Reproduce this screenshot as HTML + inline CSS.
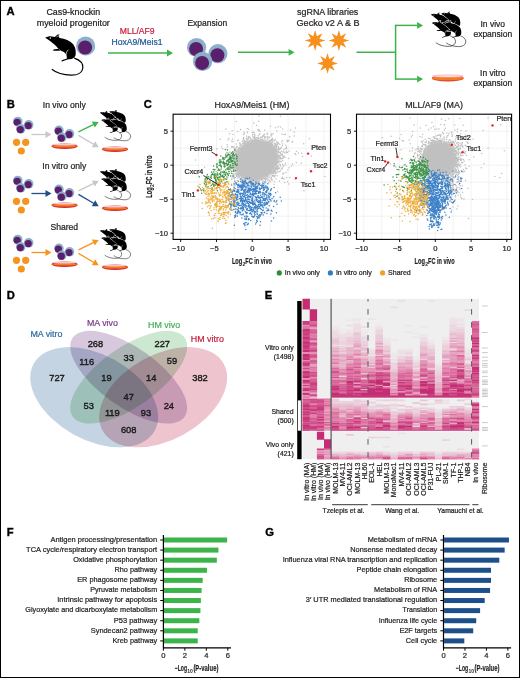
<!DOCTYPE html><html><head><meta charset="utf-8"><style>html,body{margin:0;padding:0;background:#fff;overflow:hidden}svg{display:block}text{font-family:"Liberation Sans",sans-serif}</style></head><body><svg width="520" height="678" viewBox="0 0 520 678" font-family="Liberation Sans, sans-serif">
<rect x="0" y="0" width="520" height="678" fill="#fff"/>
<text x="6.5" y="14.6" font-size="11.2" fill="#000" text-anchor="start" font-weight="bold" stroke="#000" stroke-width="0.35">A</text>
<text x="73.3" y="15" font-size="8.9" fill="#231f20" text-anchor="middle" stroke="#231f20" stroke-width="0.22" >Cas9-knockin</text>
<text x="73.3" y="25.6" font-size="8.9" fill="#231f20" text-anchor="middle" stroke="#231f20" stroke-width="0.22" >myeloid progenitor</text>
<g transform="translate(45,37.5) scale(1.0)"><path d="M29.2 20.6 C35 22.5 38.3 26 37.8 30.5 C37.2 35.5 32 37.8 26 37.6 C18 37.4 11 35 6.8 31.7" fill="none" stroke="#000" stroke-width="1.15"/><path d="M0.2 0.3 C2 -0.7 3.6 -1.2 5.4 -1.2 L9.8 -0.4 L12.6 -2.9 L14.6 -3.1 L13.4 -1.4 L14.6 0.4 C20 1.2 25 3.2 28 6.5 C30.5 9.5 31.2 14 30.6 17.5 C30.2 19.5 29 20.8 26.5 21.4 L22.5 22 L17 23.9 L16.2 23.4 L17.4 22.5 L21.4 21.3 C21.8 19.5 21.3 17 20 15.5 C18.5 14 17 13.4 15.5 13.2 L11 13.2 L8.1 13.2 L8.5 12 L11.5 11.6 L13.4 11.4 C12.5 10 11.5 8.8 10 7.5 C8 5.8 6 4.2 3.7 2.4 Z" fill="#000"/><circle cx="5.3" cy="0.5" r="0.75" fill="#fff"/><path d="M11.5 -0.2 L13.2 -2" fill="none" stroke="#fff" stroke-width="0.6"/><path d="M23.5 12.2 C21.2 13.8 20.6 17 21.6 21" fill="none" stroke="#fff" stroke-width="0.7"/><path d="M13.6 11.6 C14.6 12.4 15.2 12.8 15.8 13.3" fill="none" stroke="#fff" stroke-width="0.5"/></g>
<circle cx="85.6" cy="46.0" r="9.6" fill="#8eafc9"/>
<circle cx="85.1" cy="47.5" r="7.0" fill="#5a1f6b"/>
<text x="137.2" y="33.8" font-size="8.6" fill="#c81e3c" text-anchor="middle" stroke="#c81e3c" stroke-width="0.22" >MLL/AF9</text>
<text x="137" y="44.6" font-size="8.6" fill="#1f5a96" text-anchor="middle" stroke="#1f5a96" stroke-width="0.22" >HoxA9/Meis1</text>
<line x1="108" y1="53" x2="167.50" y2="53.00" stroke="#3cb44b" stroke-width="1.5"/>
<polygon points="173.00,53.00 167.00,56.40 167.00,49.60" fill="#3cb44b"/>
<text x="207.3" y="25.8" font-size="8.5" fill="#231f20" text-anchor="middle" stroke="#231f20" stroke-width="0.22" >Expansion</text>
<circle cx="196.6" cy="47.5" r="9.6" fill="#8eafc9"/>
<circle cx="196.1" cy="49.0" r="7.0" fill="#5a1f6b"/>
<circle cx="217.9" cy="53.7" r="9.6" fill="#8eafc9"/>
<circle cx="217.4" cy="55.2" r="7.0" fill="#5a1f6b"/>
<circle cx="202.6" cy="61.4" r="9.6" fill="#8eafc9"/>
<circle cx="202.1" cy="62.9" r="7.0" fill="#5a1f6b"/>
<line x1="238" y1="52.3" x2="289.10" y2="52.30" stroke="#3cb44b" stroke-width="1.5"/>
<polygon points="294.60,52.30 288.60,55.70 288.60,48.90" fill="#3cb44b"/>
<text x="327.7" y="14.8" font-size="8.9" fill="#231f20" text-anchor="middle" stroke="#231f20" stroke-width="0.22" >sgRNA libraries</text>
<text x="328.1" y="25.9" font-size="9.1" fill="#231f20" text-anchor="middle" stroke="#231f20" stroke-width="0.22" >Gecko v2 A &amp; B</text>
<polygon points="315.10,30.10 316.90,36.16 322.45,33.15 319.44,38.70 325.50,40.50 319.44,42.30 322.45,47.85 316.90,44.84 315.10,50.90 313.30,44.84 307.75,47.85 310.76,42.30 304.70,40.50 310.76,38.70 307.75,33.15 313.30,36.16" fill="#f7901e"/>
<polygon points="338.90,30.10 340.70,36.16 346.25,33.15 343.24,38.70 349.30,40.50 343.24,42.30 346.25,47.85 340.70,44.84 338.90,50.90 337.10,44.84 331.55,47.85 334.56,42.30 328.50,40.50 334.56,38.70 331.55,33.15 337.10,36.16" fill="#f7901e"/>
<polygon points="327.50,53.00 329.30,59.06 334.85,56.05 331.84,61.60 337.90,63.40 331.84,65.20 334.85,70.75 329.30,67.74 327.50,73.80 325.70,67.74 320.15,70.75 323.16,65.20 317.10,63.40 323.16,61.60 320.15,56.05 325.70,59.06" fill="#f7901e"/>
<polyline points="356.5,52.3 395.6,52.3" fill="none" stroke="#3cb44b" stroke-width="1.5"/>
<polyline points="395.6,25.4 395.6,79.1" fill="none" stroke="#3cb44b" stroke-width="1.5"/>
<line x1="394.9" y1="25.4" x2="417.60" y2="25.40" stroke="#3cb44b" stroke-width="1.5"/>
<polygon points="423.10,25.40 417.10,28.80 417.10,22.00" fill="#3cb44b"/>
<line x1="394.9" y1="79.1" x2="417.60" y2="79.10" stroke="#3cb44b" stroke-width="1.5"/>
<polygon points="423.10,79.10 417.10,82.50 417.10,75.70" fill="#3cb44b"/>
<g transform="translate(430.6,14.6) scale(0.63)"><path d="M0.2 0.3 C2 -0.7 3.6 -1.2 5.4 -1.2 L9.8 -0.4 L12.6 -2.9 L14.6 -3.1 L13.4 -1.4 L14.6 0.4 C20 1.2 25 3.2 28 6.5 C30.5 9.5 31.2 14 30.6 17.5 C30.2 19.5 29 20.8 26.5 21.4 L22.5 22 L17 23.9 L16.2 23.4 L17.4 22.5 L21.4 21.3 C21.8 19.5 21.3 17 20 15.5 C18.5 14 17 13.4 15.5 13.2 L11 13.2 L8.1 13.2 L8.5 12 L11.5 11.6 L13.4 11.4 C12.5 10 11.5 8.8 10 7.5 C8 5.8 6 4.2 3.7 2.4 Z" fill="#000" stroke="#fff" stroke-width="1.6" stroke-linejoin="round" paint-order="stroke"/><circle cx="5.3" cy="0.5" r="0.75" fill="#fff"/><path d="M11.5 -0.2 L13.2 -2" fill="none" stroke="#fff" stroke-width="0.6"/><path d="M23.5 12.2 C21.2 13.8 20.6 17 21.6 21" fill="none" stroke="#fff" stroke-width="0.7"/><path d="M13.6 11.6 C14.6 12.4 15.2 12.8 15.8 13.3" fill="none" stroke="#fff" stroke-width="0.5"/></g>
<g transform="translate(440.90000000000003,13.5) scale(0.63)"><path d="M0.2 0.3 C2 -0.7 3.6 -1.2 5.4 -1.2 L9.8 -0.4 L12.6 -2.9 L14.6 -3.1 L13.4 -1.4 L14.6 0.4 C20 1.2 25 3.2 28 6.5 C30.5 9.5 31.2 14 30.6 17.5 C30.2 19.5 29 20.8 26.5 21.4 L22.5 22 L17 23.9 L16.2 23.4 L17.4 22.5 L21.4 21.3 C21.8 19.5 21.3 17 20 15.5 C18.5 14 17 13.4 15.5 13.2 L11 13.2 L8.1 13.2 L8.5 12 L11.5 11.6 L13.4 11.4 C12.5 10 11.5 8.8 10 7.5 C8 5.8 6 4.2 3.7 2.4 Z" fill="#000" stroke="#fff" stroke-width="1.6" stroke-linejoin="round" paint-order="stroke"/><circle cx="5.3" cy="0.5" r="0.75" fill="#fff"/><path d="M11.5 -0.2 L13.2 -2" fill="none" stroke="#fff" stroke-width="0.6"/><path d="M23.5 12.2 C21.2 13.8 20.6 17 21.6 21" fill="none" stroke="#fff" stroke-width="0.7"/><path d="M13.6 11.6 C14.6 12.4 15.2 12.8 15.8 13.3" fill="none" stroke="#fff" stroke-width="0.5"/></g>
<g transform="translate(431.6,22.7) scale(0.63)"><path d="M29.2 20.6 C35 22.5 38.3 26 37.8 30.5 C37.2 35.5 32 37.8 26 37.6 C18 37.4 11 35 6.8 31.7" fill="none" stroke="#2a2a2a" stroke-width="1.1"/><path d="M0.2 0.3 C2 -0.7 3.6 -1.2 5.4 -1.2 L9.8 -0.4 L12.6 -2.9 L14.6 -3.1 L13.4 -1.4 L14.6 0.4 C20 1.2 25 3.2 28 6.5 C30.5 9.5 31.2 14 30.6 17.5 C30.2 19.5 29 20.8 26.5 21.4 L22.5 22 L17 23.9 L16.2 23.4 L17.4 22.5 L21.4 21.3 C21.8 19.5 21.3 17 20 15.5 C18.5 14 17 13.4 15.5 13.2 L11 13.2 L8.1 13.2 L8.5 12 L11.5 11.6 L13.4 11.4 C12.5 10 11.5 8.8 10 7.5 C8 5.8 6 4.2 3.7 2.4 Z" fill="#000" stroke="#fff" stroke-width="1.6" stroke-linejoin="round" paint-order="stroke"/><circle cx="5.3" cy="0.5" r="0.75" fill="#fff"/><path d="M11.5 -0.2 L13.2 -2" fill="none" stroke="#fff" stroke-width="0.6"/><path d="M23.5 12.2 C21.2 13.8 20.6 17 21.6 21" fill="none" stroke="#fff" stroke-width="0.7"/><path d="M13.6 11.6 C14.6 12.4 15.2 12.8 15.8 13.3" fill="none" stroke="#fff" stroke-width="0.5"/></g>
<g transform="translate(441.90000000000003,22.9) scale(0.63)"><path d="M29.2 20.6 C35 22.5 38.3 26 37.8 30.5 C37.2 35.5 32 37.8 26 37.6 C18 37.4 11 35 6.8 31.7" fill="none" stroke="#2a2a2a" stroke-width="1.1"/><path d="M0.2 0.3 C2 -0.7 3.6 -1.2 5.4 -1.2 L9.8 -0.4 L12.6 -2.9 L14.6 -3.1 L13.4 -1.4 L14.6 0.4 C20 1.2 25 3.2 28 6.5 C30.5 9.5 31.2 14 30.6 17.5 C30.2 19.5 29 20.8 26.5 21.4 L22.5 22 L17 23.9 L16.2 23.4 L17.4 22.5 L21.4 21.3 C21.8 19.5 21.3 17 20 15.5 C18.5 14 17 13.4 15.5 13.2 L11 13.2 L8.1 13.2 L8.5 12 L11.5 11.6 L13.4 11.4 C12.5 10 11.5 8.8 10 7.5 C8 5.8 6 4.2 3.7 2.4 Z" fill="#000" stroke="#fff" stroke-width="1.6" stroke-linejoin="round" paint-order="stroke"/><circle cx="5.3" cy="0.5" r="0.75" fill="#fff"/><path d="M11.5 -0.2 L13.2 -2" fill="none" stroke="#fff" stroke-width="0.6"/><path d="M23.5 12.2 C21.2 13.8 20.6 17 21.6 21" fill="none" stroke="#fff" stroke-width="0.7"/><path d="M13.6 11.6 C14.6 12.4 15.2 12.8 15.8 13.3" fill="none" stroke="#fff" stroke-width="0.5"/></g>
<rect x="431.8" y="75.0" width="32" height="6.5" rx="16.0" ry="3.25" fill="#e2402a"/>
<rect x="432.3" y="76.2" width="31.0" height="4.1" rx="16.0" ry="2.05" fill="#f47d1f"/>
<ellipse cx="447.8" cy="76.10000000000001" rx="15.4" ry="1.25" fill="#fbe3e1" stroke="#ec8a90" stroke-width="0.45"/>
<text x="492.8" y="26.6" font-size="8.5" fill="#231f20" text-anchor="middle" stroke="#231f20" stroke-width="0.22" >In vivo</text>
<text x="492.8" y="37.2" font-size="8.5" fill="#231f20" text-anchor="middle" stroke="#231f20" stroke-width="0.22" >expansion</text>
<text x="492.8" y="75.7" font-size="8.5" fill="#231f20" text-anchor="middle" stroke="#231f20" stroke-width="0.22" >In vitro</text>
<text x="492.8" y="86.3" font-size="8.5" fill="#231f20" text-anchor="middle" stroke="#231f20" stroke-width="0.22" >expansion</text>
<text x="6.8" y="107.7" font-size="11.2" fill="#000" text-anchor="start" font-weight="bold" stroke="#000" stroke-width="0.35">B</text>
<text x="64.3" y="107.7" font-size="8.6" fill="#231f20" text-anchor="middle" stroke="#231f20" stroke-width="0.22" >In vivo only</text>
<circle cx="17.7" cy="121.5" r="4.8" fill="#8eafc9"/>
<circle cx="17.2" cy="122.25" r="3.6" fill="#5a1f6b"/>
<circle cx="28.7" cy="124.8" r="4.8" fill="#8eafc9"/>
<circle cx="28.2" cy="125.55" r="3.6" fill="#5a1f6b"/>
<circle cx="20.8" cy="128.8" r="4.8" fill="#8eafc9"/>
<circle cx="20.3" cy="129.55" r="3.6" fill="#5a1f6b"/>
<circle cx="16.5" cy="142.3" r="3.6" fill="#f7941d"/>
<circle cx="25.7" cy="142.3" r="3.6" fill="#f7941d"/>
<circle cx="21.3" cy="151.0" r="3.6" fill="#f7941d"/>
<line x1="31.5" y1="134.5" x2="46.00" y2="134.50" stroke="#c8c8c8" stroke-width="1.3"/>
<polygon points="51.50,134.50 45.50,137.90 45.50,131.10" fill="#c8c8c8"/>
<circle cx="58.9" cy="130.3" r="4.8" fill="#8eafc9"/>
<circle cx="58.4" cy="131.05" r="3.6" fill="#5a1f6b"/>
<circle cx="69.5" cy="133.8" r="4.8" fill="#8eafc9"/>
<circle cx="69.0" cy="134.55" r="3.6" fill="#5a1f6b"/>
<circle cx="61.8" cy="137.4" r="4.8" fill="#8eafc9"/>
<circle cx="61.3" cy="138.15" r="3.6" fill="#5a1f6b"/>
<rect x="51.5" y="143.4" width="26.2" height="5.6" rx="13.1" ry="2.8" fill="#d42a2a"/>
<rect x="52.1" y="144.9" width="25.0" height="2.7" rx="13.1" ry="1.35" fill="#f47a1f"/>
<ellipse cx="64.6" cy="144.55" rx="12.4" ry="1.0" fill="#f5c8d0"/>
<line x1="78.5" y1="131.9" x2="93.77" y2="124.34" stroke="#3cb44b" stroke-width="1.3"/>
<polygon points="98.70,121.90 94.83,127.61 91.81,121.51" fill="#3cb44b"/>
<line x1="78.5" y1="135.4" x2="93.96" y2="144.51" stroke="#c8c8c8" stroke-width="1.3"/>
<polygon points="98.70,147.30 91.80,147.18 95.26,141.33" fill="#c8c8c8"/>
<g transform="translate(99.6,112.6) scale(0.545)"><path d="M0.2 0.3 C2 -0.7 3.6 -1.2 5.4 -1.2 L9.8 -0.4 L12.6 -2.9 L14.6 -3.1 L13.4 -1.4 L14.6 0.4 C20 1.2 25 3.2 28 6.5 C30.5 9.5 31.2 14 30.6 17.5 C30.2 19.5 29 20.8 26.5 21.4 L22.5 22 L17 23.9 L16.2 23.4 L17.4 22.5 L21.4 21.3 C21.8 19.5 21.3 17 20 15.5 C18.5 14 17 13.4 15.5 13.2 L11 13.2 L8.1 13.2 L8.5 12 L11.5 11.6 L13.4 11.4 C12.5 10 11.5 8.8 10 7.5 C8 5.8 6 4.2 3.7 2.4 Z" fill="#000" stroke="#fff" stroke-width="1.6" stroke-linejoin="round" paint-order="stroke"/><circle cx="5.3" cy="0.5" r="0.75" fill="#fff"/><path d="M11.5 -0.2 L13.2 -2" fill="none" stroke="#fff" stroke-width="0.6"/><path d="M23.5 12.2 C21.2 13.8 20.6 17 21.6 21" fill="none" stroke="#fff" stroke-width="0.7"/><path d="M13.6 11.6 C14.6 12.4 15.2 12.8 15.8 13.3" fill="none" stroke="#fff" stroke-width="0.5"/></g>
<g transform="translate(109.0,111.69999999999999) scale(0.545)"><path d="M0.2 0.3 C2 -0.7 3.6 -1.2 5.4 -1.2 L9.8 -0.4 L12.6 -2.9 L14.6 -3.1 L13.4 -1.4 L14.6 0.4 C20 1.2 25 3.2 28 6.5 C30.5 9.5 31.2 14 30.6 17.5 C30.2 19.5 29 20.8 26.5 21.4 L22.5 22 L17 23.9 L16.2 23.4 L17.4 22.5 L21.4 21.3 C21.8 19.5 21.3 17 20 15.5 C18.5 14 17 13.4 15.5 13.2 L11 13.2 L8.1 13.2 L8.5 12 L11.5 11.6 L13.4 11.4 C12.5 10 11.5 8.8 10 7.5 C8 5.8 6 4.2 3.7 2.4 Z" fill="#000" stroke="#fff" stroke-width="1.6" stroke-linejoin="round" paint-order="stroke"/><circle cx="5.3" cy="0.5" r="0.75" fill="#fff"/><path d="M11.5 -0.2 L13.2 -2" fill="none" stroke="#fff" stroke-width="0.6"/><path d="M23.5 12.2 C21.2 13.8 20.6 17 21.6 21" fill="none" stroke="#fff" stroke-width="0.7"/><path d="M13.6 11.6 C14.6 12.4 15.2 12.8 15.8 13.3" fill="none" stroke="#fff" stroke-width="0.5"/></g>
<g transform="translate(101.0,119.89999999999999) scale(0.545)"><path d="M29.2 20.6 C35 22.5 38.3 26 37.8 30.5 C37.2 35.5 32 37.8 26 37.6 C18 37.4 11 35 6.8 31.7" fill="none" stroke="#2a2a2a" stroke-width="1.1"/><path d="M0.2 0.3 C2 -0.7 3.6 -1.2 5.4 -1.2 L9.8 -0.4 L12.6 -2.9 L14.6 -3.1 L13.4 -1.4 L14.6 0.4 C20 1.2 25 3.2 28 6.5 C30.5 9.5 31.2 14 30.6 17.5 C30.2 19.5 29 20.8 26.5 21.4 L22.5 22 L17 23.9 L16.2 23.4 L17.4 22.5 L21.4 21.3 C21.8 19.5 21.3 17 20 15.5 C18.5 14 17 13.4 15.5 13.2 L11 13.2 L8.1 13.2 L8.5 12 L11.5 11.6 L13.4 11.4 C12.5 10 11.5 8.8 10 7.5 C8 5.8 6 4.2 3.7 2.4 Z" fill="#000" stroke="#fff" stroke-width="1.6" stroke-linejoin="round" paint-order="stroke"/><circle cx="5.3" cy="0.5" r="0.75" fill="#fff"/><path d="M11.5 -0.2 L13.2 -2" fill="none" stroke="#fff" stroke-width="0.6"/><path d="M23.5 12.2 C21.2 13.8 20.6 17 21.6 21" fill="none" stroke="#fff" stroke-width="0.7"/><path d="M13.6 11.6 C14.6 12.4 15.2 12.8 15.8 13.3" fill="none" stroke="#fff" stroke-width="0.5"/></g>
<g transform="translate(110.0,120.3) scale(0.545)"><path d="M29.2 20.6 C35 22.5 38.3 26 37.8 30.5 C37.2 35.5 32 37.8 26 37.6 C18 37.4 11 35 6.8 31.7" fill="none" stroke="#2a2a2a" stroke-width="1.1"/><path d="M0.2 0.3 C2 -0.7 3.6 -1.2 5.4 -1.2 L9.8 -0.4 L12.6 -2.9 L14.6 -3.1 L13.4 -1.4 L14.6 0.4 C20 1.2 25 3.2 28 6.5 C30.5 9.5 31.2 14 30.6 17.5 C30.2 19.5 29 20.8 26.5 21.4 L22.5 22 L17 23.9 L16.2 23.4 L17.4 22.5 L21.4 21.3 C21.8 19.5 21.3 17 20 15.5 C18.5 14 17 13.4 15.5 13.2 L11 13.2 L8.1 13.2 L8.5 12 L11.5 11.6 L13.4 11.4 C12.5 10 11.5 8.8 10 7.5 C8 5.8 6 4.2 3.7 2.4 Z" fill="#000" stroke="#fff" stroke-width="1.6" stroke-linejoin="round" paint-order="stroke"/><circle cx="5.3" cy="0.5" r="0.75" fill="#fff"/><path d="M11.5 -0.2 L13.2 -2" fill="none" stroke="#fff" stroke-width="0.6"/><path d="M23.5 12.2 C21.2 13.8 20.6 17 21.6 21" fill="none" stroke="#fff" stroke-width="0.7"/><path d="M13.6 11.6 C14.6 12.4 15.2 12.8 15.8 13.3" fill="none" stroke="#fff" stroke-width="0.5"/></g>
<rect x="101.9" y="146.4" width="26.2" height="5.6" rx="13.1" ry="2.8" fill="#d42a2a"/>
<rect x="102.5" y="147.9" width="25.0" height="2.7" rx="13.1" ry="1.35" fill="#f47a1f"/>
<ellipse cx="115.0" cy="147.55" rx="12.4" ry="1.0" fill="#f5c8d0"/>
<text x="64.3" y="168.6" font-size="8.6" fill="#231f20" text-anchor="middle" stroke="#231f20" stroke-width="0.22" >In vitro only</text>
<circle cx="17.7" cy="180.5" r="4.8" fill="#8eafc9"/>
<circle cx="17.2" cy="181.25" r="3.6" fill="#5a1f6b"/>
<circle cx="28.7" cy="183.8" r="4.8" fill="#8eafc9"/>
<circle cx="28.2" cy="184.55" r="3.6" fill="#5a1f6b"/>
<circle cx="20.8" cy="187.8" r="4.8" fill="#8eafc9"/>
<circle cx="20.3" cy="188.55" r="3.6" fill="#5a1f6b"/>
<circle cx="16.5" cy="201.3" r="3.6" fill="#f7941d"/>
<circle cx="25.7" cy="201.3" r="3.6" fill="#f7941d"/>
<circle cx="21.3" cy="210.0" r="3.6" fill="#f7941d"/>
<line x1="31.5" y1="193.5" x2="46.00" y2="193.50" stroke="#1f4e89" stroke-width="1.3"/>
<polygon points="51.50,193.50 45.50,196.90 45.50,190.10" fill="#1f4e89"/>
<circle cx="58.9" cy="189.3" r="4.8" fill="#8eafc9"/>
<circle cx="58.4" cy="190.05" r="3.6" fill="#5a1f6b"/>
<circle cx="69.5" cy="192.8" r="4.8" fill="#8eafc9"/>
<circle cx="69.0" cy="193.55" r="3.6" fill="#5a1f6b"/>
<circle cx="61.8" cy="196.4" r="4.8" fill="#8eafc9"/>
<circle cx="61.3" cy="197.15" r="3.6" fill="#5a1f6b"/>
<rect x="51.5" y="202.4" width="26.2" height="5.6" rx="13.1" ry="2.8" fill="#d42a2a"/>
<rect x="52.1" y="203.9" width="25.0" height="2.7" rx="13.1" ry="1.35" fill="#f47a1f"/>
<ellipse cx="64.6" cy="203.55" rx="12.4" ry="1.0" fill="#f5c8d0"/>
<line x1="78.5" y1="190.9" x2="93.77" y2="183.34" stroke="#c8c8c8" stroke-width="1.3"/>
<polygon points="98.70,180.90 94.83,186.61 91.81,180.51" fill="#c8c8c8"/>
<line x1="78.5" y1="194.4" x2="93.96" y2="203.51" stroke="#1f4e89" stroke-width="1.3"/>
<polygon points="98.70,206.30 91.80,206.18 95.26,200.33" fill="#1f4e89"/>
<g transform="translate(99.6,171.6) scale(0.545)"><path d="M0.2 0.3 C2 -0.7 3.6 -1.2 5.4 -1.2 L9.8 -0.4 L12.6 -2.9 L14.6 -3.1 L13.4 -1.4 L14.6 0.4 C20 1.2 25 3.2 28 6.5 C30.5 9.5 31.2 14 30.6 17.5 C30.2 19.5 29 20.8 26.5 21.4 L22.5 22 L17 23.9 L16.2 23.4 L17.4 22.5 L21.4 21.3 C21.8 19.5 21.3 17 20 15.5 C18.5 14 17 13.4 15.5 13.2 L11 13.2 L8.1 13.2 L8.5 12 L11.5 11.6 L13.4 11.4 C12.5 10 11.5 8.8 10 7.5 C8 5.8 6 4.2 3.7 2.4 Z" fill="#000" stroke="#fff" stroke-width="1.6" stroke-linejoin="round" paint-order="stroke"/><circle cx="5.3" cy="0.5" r="0.75" fill="#fff"/><path d="M11.5 -0.2 L13.2 -2" fill="none" stroke="#fff" stroke-width="0.6"/><path d="M23.5 12.2 C21.2 13.8 20.6 17 21.6 21" fill="none" stroke="#fff" stroke-width="0.7"/><path d="M13.6 11.6 C14.6 12.4 15.2 12.8 15.8 13.3" fill="none" stroke="#fff" stroke-width="0.5"/></g>
<g transform="translate(109.0,170.7) scale(0.545)"><path d="M0.2 0.3 C2 -0.7 3.6 -1.2 5.4 -1.2 L9.8 -0.4 L12.6 -2.9 L14.6 -3.1 L13.4 -1.4 L14.6 0.4 C20 1.2 25 3.2 28 6.5 C30.5 9.5 31.2 14 30.6 17.5 C30.2 19.5 29 20.8 26.5 21.4 L22.5 22 L17 23.9 L16.2 23.4 L17.4 22.5 L21.4 21.3 C21.8 19.5 21.3 17 20 15.5 C18.5 14 17 13.4 15.5 13.2 L11 13.2 L8.1 13.2 L8.5 12 L11.5 11.6 L13.4 11.4 C12.5 10 11.5 8.8 10 7.5 C8 5.8 6 4.2 3.7 2.4 Z" fill="#000" stroke="#fff" stroke-width="1.6" stroke-linejoin="round" paint-order="stroke"/><circle cx="5.3" cy="0.5" r="0.75" fill="#fff"/><path d="M11.5 -0.2 L13.2 -2" fill="none" stroke="#fff" stroke-width="0.6"/><path d="M23.5 12.2 C21.2 13.8 20.6 17 21.6 21" fill="none" stroke="#fff" stroke-width="0.7"/><path d="M13.6 11.6 C14.6 12.4 15.2 12.8 15.8 13.3" fill="none" stroke="#fff" stroke-width="0.5"/></g>
<g transform="translate(101.0,178.9) scale(0.545)"><path d="M29.2 20.6 C35 22.5 38.3 26 37.8 30.5 C37.2 35.5 32 37.8 26 37.6 C18 37.4 11 35 6.8 31.7" fill="none" stroke="#2a2a2a" stroke-width="1.1"/><path d="M0.2 0.3 C2 -0.7 3.6 -1.2 5.4 -1.2 L9.8 -0.4 L12.6 -2.9 L14.6 -3.1 L13.4 -1.4 L14.6 0.4 C20 1.2 25 3.2 28 6.5 C30.5 9.5 31.2 14 30.6 17.5 C30.2 19.5 29 20.8 26.5 21.4 L22.5 22 L17 23.9 L16.2 23.4 L17.4 22.5 L21.4 21.3 C21.8 19.5 21.3 17 20 15.5 C18.5 14 17 13.4 15.5 13.2 L11 13.2 L8.1 13.2 L8.5 12 L11.5 11.6 L13.4 11.4 C12.5 10 11.5 8.8 10 7.5 C8 5.8 6 4.2 3.7 2.4 Z" fill="#000" stroke="#fff" stroke-width="1.6" stroke-linejoin="round" paint-order="stroke"/><circle cx="5.3" cy="0.5" r="0.75" fill="#fff"/><path d="M11.5 -0.2 L13.2 -2" fill="none" stroke="#fff" stroke-width="0.6"/><path d="M23.5 12.2 C21.2 13.8 20.6 17 21.6 21" fill="none" stroke="#fff" stroke-width="0.7"/><path d="M13.6 11.6 C14.6 12.4 15.2 12.8 15.8 13.3" fill="none" stroke="#fff" stroke-width="0.5"/></g>
<g transform="translate(110.0,179.29999999999998) scale(0.545)"><path d="M29.2 20.6 C35 22.5 38.3 26 37.8 30.5 C37.2 35.5 32 37.8 26 37.6 C18 37.4 11 35 6.8 31.7" fill="none" stroke="#2a2a2a" stroke-width="1.1"/><path d="M0.2 0.3 C2 -0.7 3.6 -1.2 5.4 -1.2 L9.8 -0.4 L12.6 -2.9 L14.6 -3.1 L13.4 -1.4 L14.6 0.4 C20 1.2 25 3.2 28 6.5 C30.5 9.5 31.2 14 30.6 17.5 C30.2 19.5 29 20.8 26.5 21.4 L22.5 22 L17 23.9 L16.2 23.4 L17.4 22.5 L21.4 21.3 C21.8 19.5 21.3 17 20 15.5 C18.5 14 17 13.4 15.5 13.2 L11 13.2 L8.1 13.2 L8.5 12 L11.5 11.6 L13.4 11.4 C12.5 10 11.5 8.8 10 7.5 C8 5.8 6 4.2 3.7 2.4 Z" fill="#000" stroke="#fff" stroke-width="1.6" stroke-linejoin="round" paint-order="stroke"/><circle cx="5.3" cy="0.5" r="0.75" fill="#fff"/><path d="M11.5 -0.2 L13.2 -2" fill="none" stroke="#fff" stroke-width="0.6"/><path d="M23.5 12.2 C21.2 13.8 20.6 17 21.6 21" fill="none" stroke="#fff" stroke-width="0.7"/><path d="M13.6 11.6 C14.6 12.4 15.2 12.8 15.8 13.3" fill="none" stroke="#fff" stroke-width="0.5"/></g>
<rect x="101.9" y="205.4" width="26.2" height="5.6" rx="13.1" ry="2.8" fill="#d42a2a"/>
<rect x="102.5" y="206.9" width="25.0" height="2.7" rx="13.1" ry="1.35" fill="#f47a1f"/>
<ellipse cx="115.0" cy="206.55" rx="12.4" ry="1.0" fill="#f5c8d0"/>
<text x="64.3" y="229.6" font-size="8.6" fill="#231f20" text-anchor="middle" stroke="#231f20" stroke-width="0.22" >Shared</text>
<circle cx="17.7" cy="239.5" r="4.8" fill="#8eafc9"/>
<circle cx="17.2" cy="240.25" r="3.6" fill="#5a1f6b"/>
<circle cx="28.7" cy="242.8" r="4.8" fill="#8eafc9"/>
<circle cx="28.2" cy="243.55" r="3.6" fill="#5a1f6b"/>
<circle cx="20.8" cy="246.8" r="4.8" fill="#8eafc9"/>
<circle cx="20.3" cy="247.55" r="3.6" fill="#5a1f6b"/>
<circle cx="16.5" cy="260.3" r="3.6" fill="#f7941d"/>
<circle cx="25.7" cy="260.3" r="3.6" fill="#f7941d"/>
<circle cx="21.3" cy="269.0" r="3.6" fill="#f7941d"/>
<line x1="31.5" y1="252.5" x2="46.00" y2="252.50" stroke="#f7941d" stroke-width="1.3"/>
<polygon points="51.50,252.50 45.50,255.90 45.50,249.10" fill="#f7941d"/>
<circle cx="58.9" cy="248.3" r="4.8" fill="#8eafc9"/>
<circle cx="58.4" cy="249.05" r="3.6" fill="#5a1f6b"/>
<circle cx="69.5" cy="251.8" r="4.8" fill="#8eafc9"/>
<circle cx="69.0" cy="252.55" r="3.6" fill="#5a1f6b"/>
<circle cx="61.8" cy="255.4" r="4.8" fill="#8eafc9"/>
<circle cx="61.3" cy="256.15" r="3.6" fill="#5a1f6b"/>
<rect x="51.5" y="261.4" width="26.2" height="5.6" rx="13.1" ry="2.8" fill="#d42a2a"/>
<rect x="52.1" y="262.9" width="25.0" height="2.7" rx="13.1" ry="1.35" fill="#f47a1f"/>
<ellipse cx="64.6" cy="262.55" rx="12.4" ry="1.0" fill="#f5c8d0"/>
<line x1="78.5" y1="249.9" x2="93.77" y2="242.34" stroke="#f7941d" stroke-width="1.3"/>
<polygon points="98.70,239.90 94.83,245.61 91.81,239.51" fill="#f7941d"/>
<line x1="78.5" y1="253.4" x2="93.96" y2="262.51" stroke="#f7941d" stroke-width="1.3"/>
<polygon points="98.70,265.30 91.80,265.18 95.26,259.33" fill="#f7941d"/>
<g transform="translate(99.6,230.6) scale(0.545)"><path d="M0.2 0.3 C2 -0.7 3.6 -1.2 5.4 -1.2 L9.8 -0.4 L12.6 -2.9 L14.6 -3.1 L13.4 -1.4 L14.6 0.4 C20 1.2 25 3.2 28 6.5 C30.5 9.5 31.2 14 30.6 17.5 C30.2 19.5 29 20.8 26.5 21.4 L22.5 22 L17 23.9 L16.2 23.4 L17.4 22.5 L21.4 21.3 C21.8 19.5 21.3 17 20 15.5 C18.5 14 17 13.4 15.5 13.2 L11 13.2 L8.1 13.2 L8.5 12 L11.5 11.6 L13.4 11.4 C12.5 10 11.5 8.8 10 7.5 C8 5.8 6 4.2 3.7 2.4 Z" fill="#000" stroke="#fff" stroke-width="1.6" stroke-linejoin="round" paint-order="stroke"/><circle cx="5.3" cy="0.5" r="0.75" fill="#fff"/><path d="M11.5 -0.2 L13.2 -2" fill="none" stroke="#fff" stroke-width="0.6"/><path d="M23.5 12.2 C21.2 13.8 20.6 17 21.6 21" fill="none" stroke="#fff" stroke-width="0.7"/><path d="M13.6 11.6 C14.6 12.4 15.2 12.8 15.8 13.3" fill="none" stroke="#fff" stroke-width="0.5"/></g>
<g transform="translate(109.0,229.7) scale(0.545)"><path d="M0.2 0.3 C2 -0.7 3.6 -1.2 5.4 -1.2 L9.8 -0.4 L12.6 -2.9 L14.6 -3.1 L13.4 -1.4 L14.6 0.4 C20 1.2 25 3.2 28 6.5 C30.5 9.5 31.2 14 30.6 17.5 C30.2 19.5 29 20.8 26.5 21.4 L22.5 22 L17 23.9 L16.2 23.4 L17.4 22.5 L21.4 21.3 C21.8 19.5 21.3 17 20 15.5 C18.5 14 17 13.4 15.5 13.2 L11 13.2 L8.1 13.2 L8.5 12 L11.5 11.6 L13.4 11.4 C12.5 10 11.5 8.8 10 7.5 C8 5.8 6 4.2 3.7 2.4 Z" fill="#000" stroke="#fff" stroke-width="1.6" stroke-linejoin="round" paint-order="stroke"/><circle cx="5.3" cy="0.5" r="0.75" fill="#fff"/><path d="M11.5 -0.2 L13.2 -2" fill="none" stroke="#fff" stroke-width="0.6"/><path d="M23.5 12.2 C21.2 13.8 20.6 17 21.6 21" fill="none" stroke="#fff" stroke-width="0.7"/><path d="M13.6 11.6 C14.6 12.4 15.2 12.8 15.8 13.3" fill="none" stroke="#fff" stroke-width="0.5"/></g>
<g transform="translate(101.0,237.9) scale(0.545)"><path d="M29.2 20.6 C35 22.5 38.3 26 37.8 30.5 C37.2 35.5 32 37.8 26 37.6 C18 37.4 11 35 6.8 31.7" fill="none" stroke="#2a2a2a" stroke-width="1.1"/><path d="M0.2 0.3 C2 -0.7 3.6 -1.2 5.4 -1.2 L9.8 -0.4 L12.6 -2.9 L14.6 -3.1 L13.4 -1.4 L14.6 0.4 C20 1.2 25 3.2 28 6.5 C30.5 9.5 31.2 14 30.6 17.5 C30.2 19.5 29 20.8 26.5 21.4 L22.5 22 L17 23.9 L16.2 23.4 L17.4 22.5 L21.4 21.3 C21.8 19.5 21.3 17 20 15.5 C18.5 14 17 13.4 15.5 13.2 L11 13.2 L8.1 13.2 L8.5 12 L11.5 11.6 L13.4 11.4 C12.5 10 11.5 8.8 10 7.5 C8 5.8 6 4.2 3.7 2.4 Z" fill="#000" stroke="#fff" stroke-width="1.6" stroke-linejoin="round" paint-order="stroke"/><circle cx="5.3" cy="0.5" r="0.75" fill="#fff"/><path d="M11.5 -0.2 L13.2 -2" fill="none" stroke="#fff" stroke-width="0.6"/><path d="M23.5 12.2 C21.2 13.8 20.6 17 21.6 21" fill="none" stroke="#fff" stroke-width="0.7"/><path d="M13.6 11.6 C14.6 12.4 15.2 12.8 15.8 13.3" fill="none" stroke="#fff" stroke-width="0.5"/></g>
<g transform="translate(110.0,238.29999999999998) scale(0.545)"><path d="M29.2 20.6 C35 22.5 38.3 26 37.8 30.5 C37.2 35.5 32 37.8 26 37.6 C18 37.4 11 35 6.8 31.7" fill="none" stroke="#2a2a2a" stroke-width="1.1"/><path d="M0.2 0.3 C2 -0.7 3.6 -1.2 5.4 -1.2 L9.8 -0.4 L12.6 -2.9 L14.6 -3.1 L13.4 -1.4 L14.6 0.4 C20 1.2 25 3.2 28 6.5 C30.5 9.5 31.2 14 30.6 17.5 C30.2 19.5 29 20.8 26.5 21.4 L22.5 22 L17 23.9 L16.2 23.4 L17.4 22.5 L21.4 21.3 C21.8 19.5 21.3 17 20 15.5 C18.5 14 17 13.4 15.5 13.2 L11 13.2 L8.1 13.2 L8.5 12 L11.5 11.6 L13.4 11.4 C12.5 10 11.5 8.8 10 7.5 C8 5.8 6 4.2 3.7 2.4 Z" fill="#000" stroke="#fff" stroke-width="1.6" stroke-linejoin="round" paint-order="stroke"/><circle cx="5.3" cy="0.5" r="0.75" fill="#fff"/><path d="M11.5 -0.2 L13.2 -2" fill="none" stroke="#fff" stroke-width="0.6"/><path d="M23.5 12.2 C21.2 13.8 20.6 17 21.6 21" fill="none" stroke="#fff" stroke-width="0.7"/><path d="M13.6 11.6 C14.6 12.4 15.2 12.8 15.8 13.3" fill="none" stroke="#fff" stroke-width="0.5"/></g>
<rect x="101.9" y="264.4" width="26.2" height="5.6" rx="13.1" ry="2.8" fill="#d42a2a"/>
<rect x="102.5" y="265.9" width="25.0" height="2.7" rx="13.1" ry="1.35" fill="#f47a1f"/>
<ellipse cx="115.0" cy="265.55" rx="12.4" ry="1.0" fill="#f5c8d0"/>
<text x="143.8" y="107.5" font-size="11.2" fill="#000" text-anchor="start" font-weight="bold" stroke="#000" stroke-width="0.35">C</text>
<text x="252" y="107.5" font-size="8.9" fill="#231f20" text-anchor="middle" stroke="#231f20" stroke-width="0.22" >HoxA9/Meis1 (HM)</text>
<text x="434" y="107.5" font-size="8.9" fill="#231f20" text-anchor="middle" stroke="#231f20" stroke-width="0.22" >MLL/AF9 (MA)</text>
<path d="M180.7 114.2V239.4M198.6 114.2V239.4M216.5 114.2V239.4M234.4 114.2V239.4M252.3 114.2V239.4M270.2 114.2V239.4M288.1 114.2V239.4M306.0 114.2V239.4M323.9 114.2V239.4M173.1 131.2H330.5M173.1 148.2H330.5M173.1 165.2H330.5M173.1 182.2H330.5M173.1 199.2H330.5M173.1 216.2H330.5M173.1 233.2H330.5" stroke="#ececec" stroke-width="0.7" fill="none"/>
<filter id="cb11" x="-30%" y="-30%" width="160%" height="160%"><feGaussianBlur stdDeviation="1.8"/></filter>
<ellipse cx="256.2" cy="160.1" rx="23.6" ry="20.1" transform="rotate(-30 256.2 160.1)" fill="#c0c0c0" filter="url(#cb11)"/>
<path d="M244.3 164.0h0M247.7 173.4h0M262.4 165.5h0M250.5 155.7h0M262.5 154.4h0M276.3 153.7h0M273.0 149.1h0M268.1 147.0h0M245.2 163.6h0M271.9 166.6h0M255.0 175.2h0M246.9 150.0h0M263.2 188.4h0M251.3 148.3h0M239.3 159.3h0M230.5 156.8h0M250.6 138.2h0M232.4 168.5h0M249.4 182.0h0M242.8 143.7h0M259.4 164.7h0M251.1 151.1h0M256.0 151.0h0M235.1 164.7h0M254.1 170.2h0M248.0 160.7h0M264.6 166.4h0M275.4 162.7h0M254.3 168.5h0M265.1 155.9h0M246.4 155.0h0M266.7 146.5h0M253.1 166.1h0M241.4 163.8h0M275.8 165.0h0M257.7 149.9h0M253.7 137.2h0M276.5 156.5h0M249.9 172.6h0M262.9 147.0h0M257.3 165.0h0M266.7 166.0h0M261.9 176.5h0M253.8 154.1h0M242.7 145.9h0M252.3 141.8h0M258.4 157.7h0M244.4 157.3h0M277.3 162.3h0M253.2 185.6h0M271.8 147.1h0M259.6 160.1h0M250.9 180.1h0M262.5 174.7h0M245.0 170.7h0M278.4 161.2h0M277.1 159.4h0M257.0 170.6h0M274.5 176.7h0M243.3 176.9h0M249.1 175.4h0M254.4 167.5h0M226.6 156.6h0M245.8 175.1h0M264.5 173.6h0M254.3 163.7h0M239.5 168.9h0M281.2 158.4h0M256.6 173.3h0M256.6 149.5h0M278.6 162.3h0M255.6 171.8h0M265.2 159.8h0M229.9 156.4h0M238.8 169.2h0M279.0 168.6h0M257.0 138.2h0M246.2 148.8h0M247.1 164.7h0M270.2 166.2h0M275.4 144.7h0M274.6 143.6h0M269.4 171.9h0M257.1 157.1h0M247.6 142.5h0M263.6 153.1h0M254.2 175.3h0M280.7 153.2h0M255.6 139.9h0M253.3 161.2h0M235.8 152.1h0M236.5 174.0h0M270.1 172.5h0M267.4 142.8h0M231.7 166.3h0M275.3 160.0h0M264.5 167.0h0M234.6 166.9h0M273.9 170.9h0M263.1 181.4h0M271.3 154.1h0M266.1 169.0h0M240.0 154.1h0M249.9 161.3h0M271.9 148.0h0M268.8 145.4h0M272.5 175.4h0M258.0 150.3h0M257.9 175.9h0M239.2 168.6h0M234.1 176.9h0M261.2 172.1h0M246.2 171.3h0M242.7 157.9h0M279.4 168.4h0M236.6 174.6h0M237.9 170.6h0M275.1 145.6h0M272.1 172.5h0M238.6 168.7h0M231.1 160.8h0M283.6 157.8h0M243.7 161.9h0M279.9 161.2h0M250.2 175.2h0M263.8 136.0h0M248.0 139.5h0M238.6 149.9h0M261.4 172.1h0M248.7 164.8h0M242.5 162.3h0M237.6 160.6h0M250.9 177.8h0M238.4 174.1h0M249.4 144.8h0M270.2 169.7h0M279.9 158.2h0M268.4 153.6h0M264.8 181.6h0M262.9 148.2h0M261.8 143.7h0M257.5 176.5h0M259.9 160.0h0M267.4 133.3h0M257.6 176.7h0M262.0 152.8h0M247.8 165.7h0M259.8 141.7h0M267.3 154.8h0M271.3 133.9h0M260.3 165.4h0M242.5 164.7h0M269.4 151.6h0M277.0 168.5h0M247.6 159.9h0M256.9 149.1h0M273.7 173.7h0M277.1 166.1h0M240.9 169.0h0M277.2 175.8h0M265.9 170.6h0M235.7 159.7h0M272.1 180.1h0M236.9 159.8h0M232.4 168.3h0M253.7 159.3h0M275.5 156.2h0M239.3 152.4h0M238.7 158.2h0M251.4 181.8h0M274.6 146.8h0M261.2 169.9h0M254.5 148.9h0M263.8 146.4h0M243.2 168.0h0M241.9 177.6h0M268.8 143.1h0M264.5 171.9h0M250.5 162.2h0M246.9 164.9h0M229.3 161.9h0M246.4 177.8h0M246.4 171.2h0M260.6 174.1h0M267.8 149.6h0M261.3 167.8h0M269.9 146.6h0M278.4 155.6h0M248.7 163.1h0M246.2 141.8h0M234.3 167.6h0M274.7 171.7h0M233.4 166.2h0M265.5 150.7h0M255.4 179.0h0M246.0 146.1h0M243.9 169.9h0M285.0 153.0h0M278.3 162.1h0M248.7 181.8h0M246.6 171.5h0M250.0 181.7h0M278.4 151.0h0M282.6 164.7h0M250.5 160.6h0M265.6 142.0h0M256.5 178.2h0M250.9 177.7h0M243.6 154.9h0M275.9 168.9h0M253.6 167.5h0M249.7 137.3h0M240.4 156.4h0M280.6 148.6h0M267.9 159.3h0M241.3 156.6h0M260.8 153.3h0M238.7 167.9h0M267.8 144.5h0M255.1 173.4h0M257.1 166.2h0M259.5 145.0h0M261.6 146.8h0M244.5 174.6h0M224.1 165.4h0M241.0 148.8h0M266.9 161.0h0M241.9 156.0h0M242.2 158.4h0M248.1 169.6h0M245.1 172.9h0M261.4 167.5h0M235.7 173.7h0M243.9 175.1h0M270.2 143.8h0M266.3 169.6h0M265.2 160.6h0M254.1 167.6h0M252.0 152.5h0M261.5 167.0h0M239.9 152.7h0M256.0 179.9h0M259.3 172.4h0M232.6 160.4h0M271.3 171.2h0M274.0 162.2h0M261.3 179.5h0M235.9 161.6h0M273.9 151.5h0M257.0 143.1h0M266.4 156.5h0M251.2 156.6h0M256.0 153.4h0M251.1 161.6h0M264.5 142.5h0M253.3 150.9h0M252.5 150.1h0M250.5 154.2h0M248.5 167.6h0M236.7 168.1h0M241.9 154.1h0M271.4 156.0h0M274.4 156.1h0M232.5 156.8h0M271.7 152.7h0M248.1 143.5h0M257.9 161.5h0M246.9 179.3h0M250.6 152.1h0M233.7 175.2h0M238.4 174.9h0M262.0 167.0h0M257.1 160.6h0M253.0 156.2h0M232.2 168.4h0M241.6 182.6h0M234.0 161.1h0M271.7 134.8h0M236.3 175.1h0M266.4 165.2h0M245.7 152.4h0M261.0 175.9h0M241.2 158.9h0M272.3 154.7h0M233.7 155.9h0M247.9 143.0h0M273.8 151.5h0M251.5 139.9h0M241.4 173.2h0M242.4 153.8h0M253.7 146.6h0M239.4 151.4h0M239.4 151.7h0M266.9 142.3h0M258.7 170.0h0M244.0 159.7h0M248.9 141.5h0M259.3 151.3h0M234.8 162.3h0M252.6 179.2h0M236.0 149.9h0M268.6 151.9h0M265.9 169.0h0M250.9 171.4h0M255.7 163.1h0M247.2 158.4h0M248.6 177.1h0M260.5 165.5h0M236.9 170.7h0M258.5 168.1h0M273.4 168.2h0M267.5 157.8h0M247.2 143.8h0M259.2 178.4h0M239.9 165.2h0M264.5 157.0h0M249.0 168.2h0M246.8 147.6h0M242.4 186.5h0M263.6 164.2h0M247.2 171.9h0M254.6 140.3h0M255.5 142.3h0M282.5 155.5h0M263.9 175.6h0M246.7 175.9h0M231.6 168.5h0M246.5 158.8h0M244.9 145.0h0M237.2 150.7h0M260.9 137.6h0M244.2 182.6h0M257.7 173.3h0M268.0 178.9h0M277.2 167.0h0M239.7 162.5h0M238.1 173.6h0M271.7 160.5h0M274.0 161.0h0M245.1 180.1h0M269.2 143.9h0M245.5 162.4h0M258.6 175.7h0M248.5 144.8h0M264.4 150.0h0M281.8 151.6h0M273.4 172.8h0M261.1 168.5h0M270.3 172.5h0M249.5 165.9h0M236.3 144.0h0M265.9 149.1h0M232.4 152.5h0M268.8 148.2h0M251.7 162.5h0M278.4 151.3h0M274.8 158.6h0M252.6 136.0h0M256.6 140.7h0M281.1 147.2h0M266.9 161.9h0M258.5 155.5h0M274.8 164.4h0M263.1 135.0h0M270.3 140.5h0M247.6 153.9h0M247.7 142.0h0M271.7 174.1h0M249.4 171.1h0M249.5 154.8h0M251.2 181.3h0M262.8 157.2h0M266.7 150.3h0M243.7 147.7h0M247.7 151.7h0M246.9 143.7h0M268.7 160.9h0M275.8 144.0h0M274.0 158.0h0M255.7 145.9h0M254.4 176.2h0M238.9 171.8h0M239.1 172.2h0M256.3 141.3h0M246.7 139.9h0M268.0 173.8h0M234.4 170.5h0M250.1 168.9h0M261.7 178.5h0M275.8 164.2h0M246.1 165.4h0M238.7 163.4h0M269.8 160.2h0M242.5 172.7h0M238.5 148.0h0M251.8 157.2h0M246.8 175.0h0M262.3 163.7h0M257.4 169.6h0M273.0 176.2h0M254.7 155.3h0M276.6 141.7h0M259.7 143.3h0M260.7 168.1h0M257.3 155.4h0M241.3 147.9h0M272.1 151.8h0M264.8 178.7h0M251.1 150.4h0M277.1 157.3h0M251.4 170.9h0M249.3 159.9h0M259.3 180.8h0M243.5 180.9h0M274.8 167.8h0M266.6 170.8h0M248.1 168.1h0M254.1 150.3h0M245.7 162.4h0M257.1 183.9h0M271.3 140.7h0M233.4 153.8h0M248.4 149.4h0M272.8 158.7h0M259.1 140.6h0M229.9 152.3h0M274.1 147.5h0M246.2 158.7h0M260.9 165.7h0M268.0 147.8h0M258.6 145.3h0M272.6 146.9h0M259.2 149.1h0M244.0 143.0h0M252.1 141.7h0M259.3 171.0h0M252.0 149.4h0M241.5 154.2h0M252.8 171.2h0M271.1 170.6h0M280.5 158.7h0M257.6 173.0h0M246.2 138.4h0M265.9 144.5h0M240.3 157.8h0M242.4 167.4h0M242.1 165.5h0M255.6 170.8h0M242.1 161.2h0M250.3 168.8h0M270.4 149.8h0M242.1 156.3h0M250.6 163.0h0M236.5 166.9h0M243.0 155.0h0M240.2 179.2h0M243.9 164.4h0M274.8 155.3h0M262.6 167.7h0M250.5 175.4h0M268.8 166.6h0M231.2 156.2h0M233.0 174.0h0M242.6 156.1h0M247.1 137.9h0M247.7 141.6h0M256.0 159.6h0M253.6 176.0h0M270.3 167.2h0M237.3 150.9h0M260.6 174.2h0M257.8 177.9h0M247.6 183.4h0M245.4 172.7h0M244.6 169.7h0M249.1 148.3h0M261.0 146.0h0M260.9 154.4h0M248.2 162.1h0M236.1 168.5h0M264.9 151.2h0M247.2 165.5h0M247.2 145.7h0M235.6 149.0h0M268.9 166.8h0M241.8 161.1h0M269.0 170.1h0M249.0 158.8h0M274.5 148.2h0M277.9 156.2h0M226.8 161.9h0M232.5 158.5h0M262.6 182.4h0M262.8 154.1h0M260.7 148.5h0M263.0 155.0h0M243.7 151.3h0M276.6 169.2h0M262.7 168.4h0M227.9 156.9h0M259.1 145.3h0M260.4 151.4h0M264.6 138.1h0M270.5 150.2h0M243.3 145.3h0M242.8 165.9h0M266.3 148.3h0M236.8 146.5h0M263.2 156.4h0M268.9 163.2h0M242.2 159.1h0M251.3 165.1h0M275.6 156.8h0M276.5 149.8h0M256.0 142.8h0M256.4 157.0h0M261.1 167.6h0M243.2 168.6h0M258.7 158.5h0M275.5 173.4h0M272.9 172.8h0M267.6 174.3h0M223.4 158.9h0M244.0 140.2h0M246.6 136.0h0M240.5 156.4h0M251.2 179.9h0M247.9 151.2h0M235.7 150.4h0M250.7 139.9h0M255.9 144.1h0M257.8 153.0h0M242.8 167.7h0M242.9 152.3h0M276.4 163.4h0M263.2 170.8h0M265.8 157.1h0M244.2 160.1h0M256.7 180.7h0M233.8 147.1h0M257.6 152.7h0M229.7 155.3h0M277.6 162.7h0M248.1 185.5h0M271.1 166.9h0M235.5 165.3h0M249.8 144.9h0M243.4 176.8h0M234.1 164.9h0M246.2 177.4h0M281.3 147.6h0M236.8 147.2h0M280.3 166.0h0M264.7 156.0h0M253.3 177.0h0M282.8 173.9h0M264.5 150.4h0M261.7 180.1h0M245.7 169.0h0M253.4 141.9h0M247.1 169.6h0M235.9 169.9h0M264.2 169.6h0M270.5 160.3h0M267.5 139.0h0M251.3 158.2h0M255.1 137.7h0M269.9 165.1h0M276.0 150.9h0M253.0 170.3h0M255.4 181.8h0M269.3 151.4h0M247.7 150.9h0M259.3 181.1h0M243.9 164.2h0M260.1 150.7h0M253.1 140.2h0M258.9 181.1h0M235.6 160.1h0M253.3 169.8h0M238.5 164.9h0M272.3 157.1h0M247.8 171.9h0M268.2 162.6h0M240.7 164.2h0M235.7 157.6h0M268.9 145.4h0M246.6 150.2h0M258.7 177.0h0M247.3 144.1h0M246.8 145.0h0M238.3 152.5h0M237.3 178.0h0M263.1 160.6h0M258.4 165.9h0M235.6 151.7h0M249.7 182.7h0M239.8 155.5h0M249.4 174.0h0M285.3 148.7h0M253.1 178.6h0M279.0 148.0h0M255.6 165.3h0M267.8 154.6h0M245.1 159.2h0M269.1 141.1h0M260.1 167.4h0M264.7 165.8h0M234.5 167.6h0M259.0 160.9h0M232.9 151.8h0M241.7 172.0h0M248.5 164.8h0M251.2 166.3h0M248.9 153.7h0M245.2 140.9h0M238.1 164.5h0M236.5 165.8h0M259.8 133.8h0M232.0 178.1h0M269.0 156.1h0M268.0 152.7h0M258.9 169.6h0M249.8 165.2h0M260.9 158.6h0M276.2 167.7h0M253.5 156.3h0M265.2 159.6h0M267.9 161.6h0M240.3 179.6h0M241.6 148.3h0M245.8 145.0h0M243.8 156.3h0M238.2 164.4h0M251.5 163.8h0M237.9 159.2h0M245.7 153.2h0M249.5 144.2h0M234.1 159.8h0M278.6 146.7h0M245.8 179.1h0M245.2 151.5h0M239.8 168.8h0M264.7 173.1h0M252.5 155.6h0M231.5 162.4h0M257.0 179.7h0M263.8 156.8h0M274.0 170.8h0M251.1 183.1h0M254.3 165.6h0M274.8 158.2h0M269.3 180.7h0M274.4 149.4h0M273.3 152.6h0M272.4 138.6h0M238.9 157.0h0M237.3 163.1h0M261.1 153.9h0M265.3 164.5h0M263.1 142.8h0M270.3 156.5h0M235.0 160.8h0M272.0 167.0h0M264.2 153.7h0M241.6 157.4h0M258.6 181.8h0M265.5 170.0h0M251.8 166.9h0M246.7 156.4h0M248.5 165.5h0M245.2 174.6h0M236.3 168.4h0M231.8 147.2h0M263.9 178.0h0M245.3 144.0h0M258.1 166.0h0M251.0 173.2h0M231.2 166.8h0M250.1 146.1h0M278.3 168.5h0M257.0 164.7h0M258.7 144.5h0M269.4 177.4h0M248.5 136.6h0M246.0 168.6h0M243.2 179.2h0M285.1 157.6h0M260.9 174.1h0M272.5 165.1h0M274.4 147.3h0M246.1 144.3h0M243.1 165.9h0M246.8 150.9h0M257.1 151.2h0M277.9 167.2h0M244.0 170.3h0M276.2 158.9h0M279.1 156.5h0M267.0 170.3h0M260.0 169.0h0M233.2 173.7h0M274.5 155.8h0M265.6 158.4h0M268.1 137.4h0M263.7 140.7h0M271.4 142.9h0M273.0 139.7h0M256.4 162.7h0M269.1 172.7h0M254.8 140.8h0M237.7 153.9h0M236.5 161.1h0M268.7 142.8h0M248.5 168.8h0M250.3 155.4h0M269.2 155.1h0M273.7 158.5h0M233.4 171.0h0M257.7 177.7h0M264.3 147.7h0M270.7 155.9h0M261.8 158.6h0M260.0 157.1h0M243.8 177.7h0M270.5 170.3h0M257.0 159.8h0M230.0 159.9h0M264.7 170.4h0M249.0 171.1h0M239.6 164.5h0M270.7 162.4h0M245.3 164.6h0M235.1 149.7h0M246.5 167.2h0M267.7 162.2h0M246.8 155.2h0M256.2 182.4h0M267.9 175.7h0M252.8 149.4h0M238.8 154.6h0M278.9 149.2h0M268.1 172.2h0M268.3 171.1h0M262.6 172.1h0M273.0 170.4h0M257.9 158.1h0M261.0 137.7h0M271.1 158.2h0M267.8 158.7h0M255.2 152.1h0M256.4 165.9h0M233.3 166.0h0M259.8 150.9h0M255.3 147.4h0M266.9 149.6h0M244.3 169.2h0M243.5 175.6h0M264.6 148.0h0M262.9 151.0h0M243.2 167.6h0M250.3 157.1h0M273.8 153.7h0M246.7 178.6h0M278.0 155.8h0M277.6 144.4h0M257.8 140.4h0M260.5 169.0h0M265.6 167.6h0M253.7 176.9h0M243.1 150.2h0M253.4 156.2h0M250.5 176.2h0M241.3 155.4h0M240.2 174.3h0M242.4 153.3h0M279.6 168.1h0M258.6 130.9h0M256.7 141.5h0M248.0 142.6h0M241.1 145.1h0M257.1 169.3h0M269.3 159.1h0M239.3 157.2h0M255.7 160.8h0M236.0 166.3h0M254.9 166.0h0M240.3 143.3h0M248.4 143.2h0M275.1 175.6h0M241.2 161.6h0M273.7 156.4h0M270.3 166.1h0M239.9 153.3h0M265.1 166.9h0M288.8 158.6h0M273.6 172.2h0M256.0 143.6h0M279.0 158.7h0M252.5 162.5h0M272.3 159.9h0M252.4 178.5h0M262.2 157.5h0M238.9 148.2h0M265.9 155.8h0M261.1 146.0h0M272.0 179.6h0M280.5 165.1h0M234.9 170.6h0M242.6 155.5h0M254.7 156.5h0M271.4 177.2h0M245.1 147.1h0M254.4 170.1h0M280.4 157.6h0M240.3 145.6h0M267.3 172.7h0M249.2 152.7h0M273.1 164.8h0M237.9 166.9h0M243.7 178.0h0M244.7 153.9h0M250.0 164.8h0M250.5 183.8h0M241.6 165.6h0M265.0 136.4h0M245.6 171.2h0M272.6 157.4h0M278.5 148.3h0M254.1 140.4h0M239.1 177.4h0M260.2 171.8h0M252.9 178.1h0M230.0 167.2h0M275.2 155.1h0M274.6 140.7h0M249.5 161.2h0M244.9 161.2h0M253.2 177.8h0M249.6 176.1h0M260.0 156.2h0M270.2 150.7h0M258.8 154.8h0M281.5 168.9h0M271.5 153.4h0M250.1 155.5h0M242.6 160.2h0M270.3 161.9h0M242.4 163.2h0M243.8 162.1h0M240.1 160.3h0M266.1 171.6h0M243.8 163.3h0M272.8 161.1h0M255.7 184.0h0M242.8 148.8h0M255.3 183.9h0M254.1 174.6h0M268.2 155.2h0M259.2 170.8h0M254.9 158.2h0M249.6 141.0h0M274.2 159.7h0M252.8 165.2h0M243.4 180.9h0M266.4 174.0h0M260.2 177.7h0M242.7 172.7h0M231.8 146.5h0M282.3 154.0h0M245.8 165.5h0M253.2 168.8h0M273.4 172.6h0M259.0 146.4h0M271.7 152.6h0M276.5 155.0h0M245.1 151.3h0M258.3 178.2h0M236.2 154.0h0M272.9 147.8h0M244.6 152.2h0M279.0 156.9h0M263.4 149.3h0M266.0 179.6h0M264.6 153.6h0M278.3 166.7h0M246.6 155.7h0M250.9 143.9h0M269.2 168.8h0M247.3 179.3h0M247.4 183.1h0M267.0 156.7h0M267.1 165.9h0M256.7 183.6h0M253.8 152.2h0M283.6 166.0h0M259.4 169.8h0M257.1 165.4h0M252.4 165.8h0M261.3 155.4h0M273.3 164.9h0M259.1 154.7h0M254.1 157.6h0M258.9 177.2h0M247.7 169.8h0M241.5 155.8h0M266.9 153.0h0M248.3 173.3h0M240.5 165.5h0M239.5 148.8h0M253.9 182.3h0M240.7 168.7h0M242.1 164.9h0M239.9 173.4h0M276.7 145.4h0M266.7 151.7h0M254.0 141.3h0M275.3 169.0h0M236.8 165.2h0M247.3 169.2h0M283.6 172.9h0M253.1 154.7h0M240.0 148.8h0M236.9 173.2h0M287.0 140.2h0M244.4 158.8h0M279.9 156.0h0M266.4 173.8h0M238.2 165.8h0M256.2 181.3h0M247.6 156.1h0M250.7 178.7h0M255.3 157.0h0M260.7 166.2h0M264.1 145.2h0M245.8 145.9h0M271.5 143.7h0M258.8 162.2h0M256.9 151.2h0M274.4 155.0h0M255.3 147.2h0M246.7 182.9h0M227.5 155.8h0M244.5 141.5h0M278.9 152.4h0M247.2 150.5h0M254.4 138.5h0M248.2 152.7h0M255.6 179.1h0M243.7 158.2h0M237.0 169.6h0M243.5 170.2h0M248.6 158.4h0M258.8 145.7h0M237.0 170.7h0M265.9 172.5h0M262.4 176.4h0M263.7 162.1h0M260.7 161.9h0M266.5 178.2h0M274.6 170.3h0M257.0 151.5h0M250.0 159.1h0M262.0 154.6h0M269.9 148.4h0M251.6 155.6h0M253.7 171.0h0M256.6 149.9h0M245.1 173.8h0M237.1 157.8h0M253.7 141.3h0M269.9 151.7h0M240.2 174.6h0M262.4 139.3h0M259.4 173.5h0M272.4 145.7h0M264.6 168.4h0M283.0 157.7h0M261.0 166.3h0M265.9 156.1h0M246.0 180.9h0M279.0 161.5h0M280.2 170.7h0M270.0 156.0h0M258.5 152.6h0M272.7 141.3h0M247.9 177.3h0M243.5 162.9h0M231.2 153.7h0M254.1 141.1h0M234.3 150.5h0M257.1 159.6h0M257.2 159.6h0M270.8 142.9h0M263.0 178.7h0M284.2 155.9h0M244.0 152.0h0M231.6 167.7h0M280.1 152.2h0M251.2 172.4h0M257.4 156.9h0M246.6 157.0h0M252.7 179.0h0M261.9 157.2h0M272.2 154.6h0M265.9 178.1h0M225.5 172.7h0M249.8 156.2h0M252.9 163.2h0M255.7 156.9h0M258.2 155.7h0M247.1 163.0h0M231.8 179.5h0M250.7 155.1h0M243.1 182.1h0M270.1 170.4h0M227.8 178.0h0M248.9 137.6h0M243.3 173.8h0M273.0 156.9h0M253.4 141.6h0M236.4 164.0h0M263.0 156.7h0M236.5 176.3h0M283.1 158.1h0M250.8 145.9h0M226.7 165.2h0M227.2 144.7h0M239.4 161.2h0M240.5 160.8h0M260.0 159.8h0M250.0 157.8h0M251.2 168.2h0M265.0 147.2h0M233.7 177.7h0M242.8 158.1h0M232.9 141.6h0M255.7 158.3h0M268.8 169.2h0M260.9 154.0h0M275.4 172.6h0M276.9 149.2h0M259.0 145.0h0M251.1 163.8h0M268.2 163.7h0M272.1 138.8h0M258.5 157.5h0M244.9 174.8h0M277.8 172.0h0M256.5 156.1h0M241.0 172.0h0M244.1 132.1h0M261.0 140.1h0M287.1 141.8h0M275.9 163.8h0M244.4 141.4h0M278.2 171.6h0M273.2 153.8h0M267.8 145.0h0M285.1 165.1h0M255.3 142.5h0M251.2 153.2h0M254.1 184.4h0M246.6 149.0h0M246.8 183.1h0M247.5 159.9h0M263.1 154.5h0M263.7 173.9h0M245.9 172.3h0M248.5 154.9h0M276.4 160.6h0M272.1 142.2h0M237.4 174.1h0M257.9 179.3h0M284.9 182.6h0M236.2 151.7h0M243.8 151.7h0M240.0 147.3h0M246.4 151.1h0M271.3 179.0h0M241.6 186.6h0M238.1 149.5h0M255.1 148.2h0M277.9 142.4h0M266.9 164.5h0M249.5 156.3h0M269.2 142.8h0M260.3 163.5h0M254.4 136.7h0M260.0 131.2h0M244.4 149.1h0M259.1 148.7h0M243.8 156.8h0M254.7 164.0h0M236.9 182.4h0M250.4 152.9h0M259.8 155.9h0M260.8 178.2h0M272.4 156.6h0M243.9 169.2h0M271.2 155.0h0M229.6 133.8h0M232.5 138.9h0M269.1 172.2h0M275.3 139.5h0M272.1 148.5h0M260.9 156.1h0M247.4 157.1h0M275.8 158.6h0M286.7 177.4h0M256.3 180.6h0M228.2 160.0h0M250.7 168.3h0M239.2 165.4h0M230.4 166.0h0M247.5 178.5h0M262.3 185.1h0M262.5 155.1h0M264.1 156.8h0M268.3 161.8h0M238.8 156.8h0M243.4 166.5h0M257.7 172.6h0M271.2 179.3h0M275.0 157.6h0M282.4 140.6h0M266.4 154.2h0M257.6 178.8h0M247.1 174.2h0M244.6 163.1h0M243.4 159.5h0M251.8 166.9h0M261.9 152.4h0M234.8 167.0h0M301.6 153.3h0M263.0 171.2h0M271.1 136.1h0M264.9 160.4h0M256.3 186.3h0M265.1 162.8h0M262.0 153.7h0M259.1 129.8h0M270.2 167.0h0M265.4 149.6h0M256.4 139.9h0M250.1 185.1h0M239.1 156.6h0M240.3 159.7h0M232.2 157.6h0M251.8 173.1h0M247.1 164.8h0M270.1 154.5h0M252.6 158.0h0M269.7 151.3h0M283.2 166.2h0M268.7 156.3h0M245.9 152.7h0M268.9 144.3h0M263.4 171.1h0M258.5 154.0h0M281.9 154.5h0M258.2 137.5h0M256.8 165.9h0M260.3 148.3h0M258.2 182.9h0M249.5 146.6h0M244.2 149.3h0M258.5 170.6h0M268.3 188.1h0M223.1 186.0h0M264.1 162.5h0M265.7 159.5h0M257.9 166.8h0M249.6 146.8h0M267.8 176.8h0M264.8 130.2h0M267.6 171.4h0M267.4 155.1h0M250.8 146.8h0M275.0 164.4h0M257.7 165.0h0M255.9 137.5h0M249.1 152.7h0M259.9 158.0h0M238.3 153.4h0M238.7 152.0h0M254.4 158.0h0M248.6 172.7h0M239.8 161.8h0M254.5 156.0h0M251.3 149.6h0M258.1 157.8h0M252.1 160.5h0M265.9 168.2h0M237.1 156.9h0M262.4 158.5h0M259.6 177.4h0M240.7 161.9h0M255.3 177.1h0M263.0 185.3h0M275.1 171.8h0M247.1 175.5h0M234.9 167.1h0M226.4 168.5h0M258.4 163.6h0M255.4 179.9h0M227.1 182.1h0M272.2 153.2h0M228.0 139.9h0M265.5 143.4h0M271.4 139.6h0M229.5 162.3h0M243.7 134.6h0M266.4 158.5h0M257.3 171.3h0M276.8 146.7h0M254.5 165.5h0M272.9 164.9h0M272.8 154.7h0M251.3 155.3h0M282.8 178.4h0M267.3 148.0h0M251.7 140.0h0M266.1 150.9h0M240.1 154.0h0M235.7 155.6h0M289.1 167.8h0M279.9 171.7h0M256.8 149.7h0M233.3 158.3h0M243.7 170.1h0M268.8 159.2h0M262.0 158.8h0M261.6 137.4h0M257.6 163.6h0M256.1 149.8h0M262.8 188.8h0M254.6 154.0h0M296.3 162.6h0M251.5 176.6h0M254.6 184.6h0M242.7 162.8h0M232.2 166.8h0M245.0 143.8h0M280.5 127.1h0M257.9 150.3h0M292.5 163.9h0M282.1 169.0h0M272.1 179.5h0M249.5 163.5h0M251.7 187.6h0M257.6 163.7h0M278.8 148.6h0M221.9 162.7h0M272.3 159.0h0M244.7 180.5h0M249.9 173.8h0M251.4 165.0h0M275.6 171.0h0M260.9 174.5h0M260.0 144.9h0M246.8 177.7h0M256.2 159.5h0M245.7 155.4h0M256.8 150.3h0M234.2 152.3h0M275.4 168.7h0M286.6 152.5h0M235.4 177.6h0M244.0 170.6h0M251.9 156.3h0M252.5 164.8h0M244.6 178.6h0M269.4 191.9h0M273.5 197.5h0M252.5 160.2h0M238.2 176.0h0M269.3 173.2h0M254.2 159.5h0M265.9 176.3h0M276.2 159.3h0M271.5 177.6h0M272.7 159.0h0M267.8 167.3h0M269.1 157.7h0M225.9 129.0h0M245.2 154.9h0M252.6 166.7h0M249.8 147.9h0M270.3 145.0h0M230.1 152.0h0M232.1 130.7h0M261.7 143.2h0M255.6 158.0h0M244.5 133.4h0M250.5 145.3h0M242.9 163.8h0M249.5 162.3h0M247.6 152.1h0M266.0 181.2h0M248.7 179.4h0M272.5 175.4h0M263.0 156.8h0M254.8 187.5h0M282.3 158.4h0M266.3 143.6h0M239.9 176.1h0M282.7 128.9h0M242.7 162.9h0M270.6 160.0h0M276.4 148.6h0M254.5 150.6h0M248.2 143.1h0M245.3 142.9h0M295.1 179.2h0M282.4 177.2h0M254.6 134.2h0M272.7 148.1h0M261.6 156.6h0M262.9 161.7h0M251.2 177.9h0M283.1 156.4h0M285.7 145.3h0M262.9 174.4h0M251.6 159.8h0M253.8 164.4h0M219.8 170.5h0M251.7 167.2h0M250.7 182.6h0M242.2 140.9h0M240.8 169.3h0M242.7 164.0h0M247.5 132.7h0M239.3 142.9h0M248.3 154.6h0M295.7 154.6h0M250.4 163.8h0M257.8 156.3h0M238.4 175.5h0M267.9 162.0h0M256.3 150.4h0M257.4 157.4h0M238.7 162.1h0M229.0 138.4h0M243.7 137.6h0M248.0 162.7h0M276.4 154.0h0M258.7 163.2h0M251.8 170.7h0M243.7 186.7h0M253.5 171.1h0M278.1 126.7h0M286.0 172.4h0M250.2 162.3h0M231.7 140.9h0M267.2 154.0h0M286.5 148.5h0M251.2 156.3h0M248.6 153.8h0M235.3 155.2h0M251.3 166.3h0M249.9 162.2h0M228.5 154.9h0M252.9 134.6h0M255.8 146.3h0M255.5 161.6h0M236.7 168.8h0M251.3 170.4h0M260.8 144.3h0M251.2 143.4h0M275.7 146.1h0M250.8 158.8h0M281.9 134.1h0M274.1 181.5h0M220.2 139.2h0M267.4 138.9h0M265.2 162.5h0M263.4 159.1h0M279.8 144.3h0M241.1 172.3h0M272.2 144.8h0M260.7 154.0h0M236.4 174.3h0M264.4 184.3h0M263.9 150.1h0M266.5 146.0h0M286.3 151.2h0M243.2 185.4h0M220.5 162.9h0M270.2 181.2h0M258.9 169.2h0M252.1 156.9h0M256.8 176.1h0M268.1 159.7h0M226.5 152.5h0M281.2 161.5h0M281.6 178.4h0M252.2 141.5h0M277.0 149.2h0M273.0 162.9h0M267.6 144.2h0M271.2 152.0h0M269.5 151.4h0M265.8 180.1h0M265.7 171.4h0M250.2 159.4h0M260.1 177.6h0M247.8 157.1h0M249.7 159.9h0M259.8 155.9h0M247.5 158.0h0M265.3 176.2h0M268.6 171.9h0M262.0 149.9h0M266.3 174.8h0M241.6 178.2h0M265.2 156.3h0M227.6 152.8h0M274.9 164.3h0M254.9 156.1h0M240.1 167.7h0M264.9 163.2h0M256.0 157.9h0M283.3 152.0h0M261.4 165.5h0M275.7 155.9h0M255.6 140.9h0M277.4 169.7h0M251.1 142.0h0M248.6 138.2h0M253.5 132.2h0M233.0 134.5h0M244.6 167.3h0M247.0 171.3h0M258.6 157.4h0M246.2 168.4h0M277.2 143.1h0M271.7 139.8h0M253.0 147.5h0M282.1 167.7h0M277.5 191.5h0M225.9 184.4h0M240.2 175.5h0M248.3 149.0h0M244.4 166.4h0M235.4 185.1h0M253.1 170.6h0M270.0 156.1h0M227.2 153.2h0M237.0 167.9h0M239.4 173.6h0M246.4 177.9h0M244.2 165.3h0M267.3 148.1h0M284.0 178.9h0M249.6 143.4h0M237.9 164.6h0M267.3 136.4h0M264.9 153.9h0M253.3 151.3h0M257.4 154.7h0M245.6 163.0h0M241.8 177.2h0M242.4 173.6h0M245.1 169.5h0M231.7 158.8h0M260.7 137.3h0M218.5 185.0h0M240.4 174.3h0M256.6 171.8h0M243.5 151.2h0M252.7 183.2h0M270.6 126.2h0M273.5 159.8h0M277.1 158.0h0M250.1 157.1h0M276.1 155.5h0M250.9 180.2h0M258.6 174.8h0M254.1 179.8h0M242.0 175.5h0M245.1 177.5h0M275.1 146.3h0M250.4 175.4h0M272.9 161.1h0M264.6 144.5h0M249.2 154.6h0M262.7 165.1h0M252.9 169.1h0M202.1 172.8h0M281.6 142.1h0M298.5 153.1h0M269.6 166.9h0M243.8 173.9h0M262.8 148.1h0M225.5 154.2h0M269.9 146.9h0M235.5 159.9h0M260.8 178.1h0M237.7 131.4h0M245.0 168.4h0M224.9 172.9h0M277.0 151.6h0M242.2 161.3h0M261.3 151.0h0M239.9 156.9h0M245.1 168.5h0M242.2 173.2h0M263.2 183.8h0M258.6 121.3h0M241.5 166.0h0M254.4 138.2h0M233.1 155.1h0M254.0 132.6h0M252.3 132.4h0M240.4 157.1h0M238.2 170.8h0M235.9 168.4h0M279.9 164.3h0M294.3 132.1h0M260.3 159.3h0M260.4 170.0h0M264.8 157.5h0M224.8 163.8h0M264.6 158.1h0M260.4 159.4h0M247.9 146.4h0M277.5 161.4h0M268.0 173.6h0M275.1 169.0h0M256.1 146.7h0M247.6 160.6h0M271.2 165.7h0M260.8 144.0h0M259.4 170.5h0M249.3 164.5h0M255.7 151.3h0M231.1 164.4h0M258.6 138.6h0M232.6 175.6h0M269.3 158.9h0M272.5 158.4h0M245.3 162.3h0M274.7 147.4h0M258.5 157.7h0M272.2 149.2h0M259.3 149.5h0M257.0 175.5h0M269.5 141.5h0M277.1 158.1h0M236.7 157.0h0M246.4 187.4h0M257.8 170.5h0M256.5 166.7h0M268.1 146.5h0M263.2 142.7h0M247.2 128.5h0M228.7 153.5h0M271.4 163.5h0M257.3 176.5h0M248.6 157.0h0M249.9 172.6h0M240.6 164.5h0M234.1 148.0h0M273.2 157.3h0M246.3 162.2h0M253.8 171.4h0M245.4 155.7h0M241.5 170.9h0M248.5 174.9h0M259.3 177.3h0M269.7 148.4h0M254.9 148.6h0M272.2 163.3h0M254.5 168.7h0M249.7 166.3h0M256.6 153.0h0M289.1 151.0h0M269.9 161.4h0M280.7 155.1h0M252.7 164.5h0M255.8 165.6h0M258.1 135.7h0M256.4 170.5h0M226.9 165.6h0M239.9 173.0h0M257.5 155.3h0M262.5 143.5h0M240.8 171.3h0M241.8 176.0h0M245.3 173.3h0M265.8 173.6h0M288.8 184.0h0M267.9 180.1h0M247.8 178.1h0M255.3 153.9h0M248.9 170.3h0M240.0 174.1h0M242.1 171.5h0M256.1 148.3h0M249.4 150.1h0M239.4 157.8h0M237.3 180.4h0M258.3 185.5h0M238.9 157.8h0M247.2 171.5h0M263.0 172.3h0M237.3 168.9h0M253.7 159.1h0M252.0 145.1h0M263.3 161.6h0M289.8 177.4h0M258.4 171.0h0M287.4 152.6h0M267.2 153.8h0M277.0 165.4h0M268.5 182.5h0M263.3 144.3h0M267.9 151.0h0M226.1 163.7h0M249.5 140.9h0M262.8 151.0h0M274.5 151.1h0M233.8 174.8h0M222.8 148.8h0M251.7 178.9h0M262.1 165.8h0M249.9 143.9h0M223.3 185.4h0M253.1 164.7h0M271.8 163.6h0M262.5 136.4h0M233.7 183.4h0M243.7 165.4h0M237.8 159.9h0M242.8 147.2h0M262.3 150.8h0M257.9 157.8h0M229.7 167.6h0M227.4 146.7h0M237.2 175.9h0M247.6 132.0h0M237.6 140.6h0M256.6 125.5h0M251.1 169.1h0M254.1 168.7h0M243.6 152.9h0M247.6 149.9h0M263.6 147.2h0M278.5 143.3h0M240.1 144.8h0M216.8 148.9h0M273.1 173.2h0M274.0 184.2h0M269.9 164.6h0M250.2 164.1h0M245.9 152.2h0M253.8 161.8h0M255.3 166.0h0M239.1 155.0h0M267.3 175.5h0M269.2 141.8h0M257.2 140.7h0M221.5 146.8h0M243.3 158.5h0M240.6 129.4h0M248.4 152.8h0M232.3 168.1h0M261.1 161.7h0M243.1 142.2h0M231.0 163.1h0M252.0 166.4h0M264.5 156.4h0M251.8 152.4h0M253.4 153.9h0M274.1 155.1h0M255.6 168.7h0M276.3 144.9h0M262.8 155.7h0M242.0 161.5h0M259.2 176.3h0M240.1 164.5h0M283.9 152.0h0M232.5 146.6h0M268.3 149.4h0M246.3 163.7h0M288.1 141.1h0M324.8 176.4h0M230.6 170.1h0M240.7 172.0h0M273.0 133.7h0M231.2 153.1h0M275.6 150.7h0M285.3 134.3h0M243.1 158.0h0M264.2 176.0h0M254.4 141.8h0M266.5 155.8h0M309.3 138.8h0M277.6 168.4h0M282.7 160.6h0M255.5 164.8h0M234.1 152.4h0M234.9 148.1h0M243.3 139.5h0M265.5 137.4h0M237.4 151.9h0M273.5 150.4h0M256.9 167.3h0M195.5 160.0h0M234.3 178.6h0M266.3 199.3h0M244.2 148.8h0M259.6 160.8h0M243.8 157.1h0M228.9 171.7h0M274.8 169.6h0M256.5 163.9h0M242.0 172.8h0M238.9 161.7h0M265.2 146.1h0M266.1 175.2h0M286.4 147.0h0M273.6 175.8h0M280.4 116.3h0M269.4 137.3h0M247.8 156.5h0M258.1 146.6h0M262.3 152.4h0M241.3 179.7h0M259.0 116.1h0M239.8 151.8h0M285.5 163.2h0M227.0 156.7h0M258.4 171.5h0M288.9 140.6h0M259.1 179.7h0M284.0 134.4h0M275.7 127.7h0M238.9 177.0h0M276.5 146.9h0M258.4 165.3h0M279.6 149.5h0M276.4 172.9h0M260.5 150.0h0M279.5 181.0h0M255.3 168.6h0M259.5 159.4h0M267.7 142.7h0M264.7 157.4h0M276.8 131.1h0M260.7 170.0h0M294.4 136.1h0M302.6 156.5h0M251.7 161.2h0M257.7 181.4h0M276.0 178.7h0M204.5 167.2h0M238.3 156.3h0M236.5 183.2h0M218.8 184.7h0M253.7 122.9h0M272.8 165.4h0M286.2 148.5h0M229.4 171.7h0M260.2 167.0h0M248.7 174.4h0M262.8 143.4h0M238.2 140.0h0M242.8 164.6h0M292.6 141.4h0M260.4 188.6h0M261.1 162.6h0M255.1 139.6h0M248.6 129.2h0M260.4 154.1h0M253.3 156.5h0M286.4 148.4h0M239.6 173.1h0M282.7 144.0h0M242.6 161.9h0M261.4 147.1h0M240.4 158.6h0M233.7 174.2h0M255.0 135.3h0M257.7 129.8h0M267.1 134.3h0M256.4 187.3h0M216.1 171.5h0M294.9 153.6h0M249.5 148.6h0M252.1 164.5h0M263.4 149.7h0M247.9 172.4h0M291.5 165.9h0M241.5 163.1h0M256.6 152.6h0M290.6 130.1h0M258.7 155.1h0M278.9 155.8h0M262.9 174.5h0M267.5 157.0h0M230.9 157.9h0M303.7 143.8h0M243.6 138.4h0M266.6 152.6h0M289.7 136.7h0M301.2 163.2h0M250.8 159.9h0M263.5 175.9h0M265.2 179.2h0M248.2 163.1h0M264.6 150.8h0M244.4 153.9h0M265.5 157.5h0M260.0 165.3h0M295.6 128.1h0M264.6 134.2h0M249.9 173.0h0M264.0 152.1h0M264.0 181.6h0M234.0 185.6h0M296.4 151.3h0M236.3 121.5h0M260.0 171.7h0M268.1 160.8h0M262.6 162.5h0M292.2 142.0h0M255.0 165.4h0M253.1 171.2h0M269.9 168.6h0M287.6 181.7h0M282.3 145.8h0M264.4 168.8h0M287.9 169.9h0M263.9 157.3h0M209.0 146.7h0M278.6 149.2h0M237.1 170.8h0M283.6 149.8h0M257.2 171.6h0M311.4 156.0h0M304.0 190.8h0M283.3 173.7h0M259.5 134.4h0M245.4 182.1h0M254.6 167.0h0M273.1 152.7h0" stroke="#c0c0c0" stroke-width="1.5" stroke-linecap="round" fill="none"/>
<path d="M253.3 202.0h0M234.3 184.1h0M245.2 186.3h0M244.5 196.7h0M257.3 221.3h0M250.0 210.1h0M240.2 185.2h0M240.4 193.2h0M242.7 198.4h0M235.8 208.7h0M248.7 218.8h0M261.8 205.5h0M235.2 201.8h0M244.4 181.4h0M248.0 206.7h0M266.9 198.3h0M246.1 206.6h0M259.9 189.8h0M235.6 211.5h0M237.2 209.7h0M255.6 204.7h0M255.2 211.7h0M268.4 189.3h0M250.4 193.4h0M228.6 196.5h0M246.5 218.0h0M267.3 186.9h0M245.5 182.0h0M243.9 182.2h0M254.4 216.3h0M248.2 224.1h0M246.2 222.4h0M249.1 186.0h0M242.2 182.7h0M253.7 207.9h0M241.4 199.3h0M256.8 216.4h0M252.4 201.3h0M231.1 197.5h0M266.5 191.6h0M252.6 194.6h0M243.3 196.8h0M264.2 193.5h0M242.3 203.1h0M242.2 180.3h0M242.6 185.8h0M259.9 201.6h0M266.2 207.9h0M253.7 204.3h0M238.4 208.7h0M229.3 189.8h0M244.1 200.9h0M259.5 198.0h0M262.1 185.6h0M251.3 209.3h0M263.2 186.0h0M265.7 187.7h0M237.5 194.4h0M243.3 187.2h0M252.1 189.4h0M255.9 182.0h0M257.5 211.7h0M236.6 206.2h0M242.1 193.4h0M243.2 187.5h0M250.5 189.1h0M254.3 188.4h0M261.4 185.4h0M247.2 192.2h0M261.0 212.4h0M251.9 198.1h0M242.6 188.3h0M255.2 204.2h0M255.3 206.5h0M242.5 195.5h0M247.5 208.8h0M233.0 176.3h0M245.4 199.8h0M258.0 217.5h0M256.0 199.1h0M267.7 203.4h0M248.6 218.7h0M230.6 203.5h0M254.9 207.4h0M257.4 209.0h0M257.7 196.0h0M264.9 198.3h0M270.8 189.7h0M251.1 208.0h0M238.2 204.9h0M243.8 192.5h0M265.7 199.4h0M249.8 208.0h0M253.1 192.1h0M262.8 210.6h0M243.7 190.5h0M247.2 212.9h0M255.7 212.2h0M269.2 205.7h0M250.7 194.1h0M252.0 200.3h0M232.8 191.4h0M263.8 188.9h0M266.5 203.8h0M260.5 208.3h0M241.3 198.4h0M269.7 199.6h0M247.2 224.7h0M260.2 191.6h0M260.2 206.1h0M254.8 200.3h0M234.8 191.3h0M241.9 205.4h0M233.6 199.2h0M251.5 183.9h0M242.4 181.0h0M250.4 209.8h0M243.2 201.0h0M240.2 185.7h0M266.1 185.9h0M240.3 196.3h0M246.1 199.5h0M235.5 212.5h0M258.9 191.5h0M250.4 203.2h0M258.9 207.9h0M269.0 201.8h0M234.7 217.5h0M242.4 206.8h0M263.2 198.5h0M255.8 194.0h0M254.3 213.2h0M244.7 191.7h0M235.2 209.3h0M270.9 194.5h0M247.2 183.6h0M231.9 210.2h0M238.9 189.2h0M246.8 187.1h0M257.2 191.6h0M264.1 199.5h0M261.8 197.2h0M261.9 186.8h0M237.1 196.5h0M260.0 201.9h0M268.7 210.2h0M258.4 197.7h0M243.4 207.4h0M264.5 204.9h0M255.6 224.0h0M234.6 190.3h0M268.7 195.4h0M258.9 208.3h0M250.3 210.6h0M246.6 208.9h0M269.8 196.9h0M243.4 208.6h0M237.4 216.0h0M231.6 185.1h0M248.3 219.7h0M248.2 223.3h0M233.1 200.7h0M249.0 201.4h0M250.7 220.6h0M256.0 189.1h0M263.5 207.7h0M254.5 206.9h0M243.7 185.3h0M275.6 192.7h0M273.6 206.5h0M239.3 205.5h0M232.4 197.8h0M270.7 193.6h0M258.7 197.2h0M246.8 195.6h0M250.8 182.5h0M241.1 187.3h0M231.9 195.0h0M236.9 195.1h0M234.8 200.4h0M242.7 214.2h0M259.5 201.7h0M260.4 208.8h0M249.2 219.2h0M262.4 202.5h0M240.9 208.2h0M243.0 201.7h0M253.2 186.1h0M249.4 188.2h0M267.0 202.5h0M261.9 213.8h0M264.3 189.8h0M235.5 193.8h0M258.7 182.9h0M246.0 206.8h0M238.7 191.3h0M233.6 209.5h0M246.2 200.7h0M250.8 213.6h0M228.9 199.5h0M249.1 204.4h0M249.0 190.2h0M228.1 205.2h0M239.8 212.3h0M236.8 184.3h0M233.3 204.5h0M260.7 192.8h0M262.4 206.7h0M228.3 200.1h0M254.6 190.2h0M265.3 200.4h0M234.4 203.0h0M255.7 209.1h0M258.4 204.8h0M236.7 191.3h0M228.5 199.2h0M228.2 195.8h0M247.3 209.9h0M246.1 178.2h0M239.1 203.3h0M235.6 216.4h0M234.1 190.7h0M253.8 183.9h0M271.5 188.8h0M252.8 192.1h0M235.0 202.1h0M251.9 211.2h0M244.9 216.3h0M261.5 188.2h0M243.7 196.6h0M245.3 180.2h0M229.4 194.3h0M234.8 215.8h0M242.0 186.4h0M242.0 202.9h0M258.8 202.5h0M243.1 199.9h0M260.9 202.1h0M251.1 183.7h0M235.7 183.0h0M245.7 199.3h0M244.7 183.8h0M236.5 200.1h0M234.9 206.1h0M265.4 204.5h0M247.3 191.1h0M257.9 208.5h0M237.9 202.3h0M247.6 216.6h0M229.3 192.9h0M237.8 186.0h0M263.1 192.4h0M245.3 211.7h0M250.7 212.7h0M246.2 212.4h0M260.5 214.9h0M238.0 187.5h0M243.1 209.1h0M253.8 186.4h0M240.1 198.8h0M271.1 201.0h0M260.2 198.1h0M269.3 193.7h0M264.2 199.4h0M260.8 197.3h0M249.3 205.8h0M261.6 209.5h0M241.1 200.4h0M234.4 206.5h0M242.2 201.8h0M251.3 209.7h0M264.2 212.7h0M256.2 197.7h0M230.8 199.3h0M238.9 203.5h0M233.8 194.9h0M251.9 216.2h0M264.4 200.5h0M267.2 190.0h0M247.2 185.8h0M231.4 204.2h0M230.7 190.0h0M238.5 185.1h0M248.1 184.7h0M240.4 187.5h0M247.9 201.8h0M248.8 191.0h0M246.0 183.9h0M265.5 194.2h0M254.8 203.2h0M238.6 184.7h0M238.5 203.8h0M262.4 205.1h0M238.0 190.4h0M252.9 216.5h0M234.7 200.3h0M267.0 197.6h0M259.1 217.7h0M267.8 183.8h0M260.1 204.2h0M254.8 191.6h0M248.9 206.7h0M229.7 203.3h0M251.8 199.9h0M245.7 219.2h0M249.1 199.5h0M233.1 205.2h0M255.0 193.2h0M264.7 205.5h0M240.8 185.6h0M234.9 181.2h0M230.3 204.6h0M259.2 189.1h0M266.7 191.6h0M274.2 201.6h0M229.7 194.4h0M249.6 208.1h0M237.3 189.4h0M236.4 192.1h0M252.8 184.7h0M247.3 197.2h0M263.4 199.8h0M252.9 204.3h0M241.8 188.1h0M252.0 196.0h0M249.5 182.0h0M244.3 189.9h0M262.7 206.4h0M238.8 192.7h0M235.0 201.8h0M247.2 212.4h0M258.7 192.5h0M244.9 225.8h0M262.9 194.7h0M262.0 212.6h0M236.3 198.7h0M235.4 197.1h0M252.7 193.6h0M256.9 211.0h0M248.0 196.4h0M235.4 205.9h0M259.4 206.8h0M244.9 222.9h0M258.1 184.9h0M252.9 203.4h0M252.0 199.8h0M245.5 197.6h0M265.4 191.9h0M254.9 185.5h0M257.3 201.7h0M237.8 185.0h0M268.0 210.6h0M258.3 183.2h0M240.0 214.0h0M258.3 206.0h0M257.8 196.0h0M246.2 189.1h0M245.3 193.8h0M262.8 198.1h0M262.9 183.6h0M260.5 202.9h0M230.4 189.1h0M235.8 215.1h0M246.4 219.5h0M264.0 203.4h0M254.8 214.2h0M267.0 204.2h0M262.3 202.6h0M240.5 201.6h0M260.9 214.8h0M242.6 193.5h0M254.9 201.9h0M267.7 187.9h0M245.1 189.6h0M244.9 195.5h0M254.0 193.8h0M231.9 192.5h0M237.4 197.3h0M243.6 205.2h0M255.2 211.5h0M241.6 189.3h0M244.3 196.8h0M258.6 215.9h0M245.4 199.1h0M243.2 204.5h0M264.7 212.2h0M263.4 190.2h0M253.3 191.3h0M241.1 187.6h0M253.8 217.0h0M241.1 197.7h0M230.9 207.2h0M239.4 198.4h0M246.2 213.4h0M260.1 225.2h0M255.0 214.9h0M240.3 194.3h0M249.7 202.6h0M252.6 191.4h0M243.2 214.0h0M253.1 217.3h0M241.9 193.6h0M245.5 193.3h0M230.7 191.5h0M263.1 187.7h0M259.6 183.8h0M243.8 207.3h0M244.3 185.4h0M256.0 191.5h0M244.2 204.3h0M258.6 192.1h0M253.1 202.7h0M237.6 212.1h0M254.8 207.7h0M250.3 197.4h0M230.0 204.6h0M246.6 205.8h0M237.6 213.4h0M252.1 202.0h0M260.9 204.1h0M273.8 196.4h0M253.5 184.0h0M259.0 200.6h0M245.7 207.7h0M234.9 198.1h0M234.1 205.1h0M238.6 210.6h0M267.9 199.9h0M240.5 186.9h0M249.0 182.6h0M244.8 224.8h0M251.3 209.8h0M240.6 212.3h0M260.6 195.2h0M254.3 204.4h0M255.1 188.9h0M235.1 197.5h0M265.2 186.1h0M253.1 191.8h0M233.2 205.8h0M247.8 183.6h0M242.2 210.2h0M251.3 185.8h0M250.2 181.3h0M246.0 218.0h0M266.8 195.8h0M251.9 209.5h0M257.1 200.1h0M241.3 193.4h0M266.6 190.4h0M244.2 186.7h0M240.7 181.4h0M256.3 187.7h0M251.3 186.8h0M250.6 202.2h0M260.9 200.8h0M268.4 189.6h0M230.9 195.5h0M254.0 189.2h0M267.5 200.0h0M266.8 203.1h0M256.2 197.3h0M243.4 183.0h0M240.1 208.6h0M246.8 201.5h0M244.3 206.2h0M262.9 200.5h0M268.7 197.0h0M266.8 191.1h0M247.2 197.6h0M257.0 197.6h0M248.9 190.5h0M272.1 198.6h0M232.0 198.6h0M253.8 210.5h0M238.2 211.1h0M256.6 200.4h0M243.5 209.6h0M248.0 203.4h0M241.7 208.3h0M240.3 194.5h0M253.5 216.7h0M251.9 194.2h0M266.9 213.4h0M246.7 209.9h0M236.1 183.1h0M247.7 178.4h0M259.3 214.9h0M231.0 205.9h0M246.5 215.9h0M241.0 207.7h0M252.8 211.7h0M252.9 201.9h0M238.8 184.2h0M256.7 199.5h0M270.8 195.3h0M248.2 199.1h0M259.5 214.8h0M240.8 196.8h0M250.4 190.2h0M249.4 189.3h0M259.9 189.8h0M243.7 196.6h0M256.9 199.3h0M249.2 196.1h0M236.0 194.4h0M262.8 192.6h0M248.2 187.9h0M259.5 188.1h0M255.0 196.6h0M233.8 198.0h0M245.7 187.0h0M250.0 194.3h0M234.2 197.5h0M242.8 189.2h0M264.0 196.2h0M261.5 187.9h0M256.8 205.9h0M231.9 191.9h0M240.9 189.9h0M251.7 203.3h0M260.2 216.2h0M233.3 203.4h0M264.1 203.7h0M238.1 185.3h0M256.6 207.6h0M239.4 186.8h0M242.0 206.1h0M243.9 209.9h0M249.6 199.8h0M260.5 221.7h0M253.3 189.8h0M245.7 192.8h0M259.2 215.9h0M242.9 198.5h0M263.2 214.9h0M263.8 205.1h0M242.4 210.7h0M252.5 198.9h0M239.3 185.4h0M243.6 199.9h0M252.7 183.0h0M241.6 197.0h0M250.7 188.2h0M243.3 194.5h0M250.0 192.2h0M253.7 209.6h0M249.2 210.8h0M268.3 202.1h0M255.0 193.5h0M257.0 190.7h0M251.8 207.2h0M231.4 204.7h0M232.7 194.0h0M240.6 196.8h0M230.5 209.7h0M258.2 195.7h0M230.8 205.9h0M266.7 196.0h0M242.9 208.1h0M243.2 201.2h0M234.4 205.3h0M262.0 196.6h0M237.9 191.2h0M258.4 202.0h0M246.2 182.6h0M254.9 211.8h0M261.6 204.9h0M244.6 216.5h0M257.3 217.0h0M247.5 202.5h0M241.9 217.9h0M237.0 202.5h0M236.7 204.1h0M266.6 187.9h0M266.7 202.2h0M240.1 205.5h0M238.0 195.9h0M241.8 204.1h0M254.5 211.7h0M237.5 192.3h0M244.6 219.1h0M257.3 214.5h0M250.2 197.5h0M253.6 194.5h0M245.6 198.0h0M231.2 194.6h0M228.5 189.3h0M241.8 187.6h0M249.6 191.7h0M244.9 200.6h0M255.8 190.2h0M245.8 229.6h0M251.9 189.4h0M265.0 200.7h0M245.5 205.2h0M274.2 200.6h0M280.2 197.3h0M245.2 204.6h0M240.6 196.3h0M252.0 209.4h0M246.7 191.6h0M248.3 203.6h0M240.3 205.5h0M248.8 201.5h0M263.5 207.7h0M258.8 215.7h0M254.9 189.0h0M264.3 202.7h0M234.3 225.2h0M237.9 199.5h0M255.5 192.6h0M251.7 200.0h0M251.1 186.5h0M267.0 195.1h0M258.6 193.5h0M264.3 187.2h0M253.1 183.4h0M264.6 194.7h0M253.5 188.7h0M252.9 200.9h0M237.0 197.1h0M248.4 191.1h0M247.4 197.8h0M259.5 197.3h0M243.8 191.6h0M247.2 209.5h0M238.3 207.6h0M243.7 223.8h0M233.8 204.5h0M245.9 199.4h0M257.2 210.1h0M268.5 193.2h0M238.9 191.3h0M271.0 214.0h0M251.7 210.3h0M233.2 189.9h0M260.3 205.5h0M245.8 212.0h0M242.6 200.4h0M248.4 189.1h0M252.8 198.1h0M251.6 190.2h0M257.0 213.6h0M248.2 192.7h0M241.3 214.8h0M238.7 212.1h0M247.9 199.5h0M256.6 220.3h0M255.7 188.0h0M281.4 201.1h0M259.2 218.1h0M253.5 204.8h0M268.0 209.0h0M271.3 210.3h0M256.0 194.0h0M252.6 204.5h0M238.5 181.2h0M255.7 208.1h0M235.1 188.5h0M266.3 198.3h0M245.3 190.8h0M256.2 183.2h0M248.6 205.9h0M249.6 213.6h0M237.6 204.1h0M248.5 196.8h0M233.7 201.8h0M273.6 218.0h0M246.1 203.3h0M257.6 207.1h0M277.0 204.2h0M253.3 195.8h0M266.5 192.6h0M234.2 197.0h0M243.2 184.0h0M256.6 193.4h0M249.3 206.1h0M276.8 200.7h0M263.5 210.2h0M256.8 197.5h0M237.9 204.9h0M251.6 200.3h0M247.0 201.0h0M250.3 202.8h0M230.5 196.2h0M270.5 199.8h0M252.1 207.4h0M240.9 208.9h0M234.7 197.3h0M239.6 194.0h0M251.5 214.5h0M276.0 202.0h0M251.9 203.1h0M236.7 198.1h0M256.4 222.4h0M250.7 196.3h0M271.5 220.9h0M242.0 184.5h0M241.7 190.3h0M238.7 211.3h0M259.0 204.3h0M237.6 197.4h0M263.9 199.1h0M276.4 212.8h0M269.5 194.3h0M260.4 189.1h0M247.0 201.2h0M234.7 206.2h0M241.9 186.1h0M244.9 193.8h0M240.8 208.8h0M257.6 218.5h0M250.6 209.5h0M240.4 200.4h0M274.1 187.5h0M259.8 192.5h0M256.1 205.8h0M252.2 199.1h0M257.5 187.7h0M236.8 213.3h0M267.0 210.8h0M262.5 194.1h0M248.7 195.8h0M260.5 199.8h0M268.9 197.9h0M265.4 194.6h0M252.7 188.9h0M248.6 205.6h0M249.4 196.8h0M245.9 189.0h0M254.1 194.4h0M246.2 195.2h0M258.3 201.3h0M247.4 194.7h0M253.0 204.8h0M259.9 192.7h0M272.0 211.3h0M235.4 194.7h0M250.4 206.5h0M253.8 203.6h0M240.8 196.8h0M242.2 201.5h0M241.7 200.2h0M255.7 197.3h0M253.2 210.1h0M233.4 199.2h0M249.9 190.4h0M234.1 187.3h0M248.7 210.6h0M243.3 203.4h0M265.7 203.1h0M253.8 208.3h0M234.3 206.5h0M231.2 201.8h0M244.4 185.2h0M257.4 188.6h0M252.3 199.7h0M255.6 184.5h0M240.6 212.6h0M243.1 214.8h0M244.9 201.9h0M247.5 184.1h0M256.8 190.5h0M243.8 193.9h0M264.1 188.7h0M242.9 181.5h0M249.7 177.9h0M248.7 185.8h0M253.1 184.0h0M259.3 184.8h0M270.7 190.6h0M260.0 191.7h0M257.6 186.5h0M251.5 182.0h0M247.6 190.2h0M260.7 185.2h0M263.1 185.3h0M256.2 186.4h0M263.2 187.4h0M253.2 180.3h0M265.0 182.8h0M252.0 184.0h0M240.5 178.9h0M267.3 187.4h0M255.4 186.7h0" stroke="#3d82c8" stroke-width="1.5" stroke-linecap="round" fill="none"/>
<path d="M214.4 174.9h0M229.8 162.1h0M230.5 167.5h0M225.7 170.0h0M213.8 174.9h0M205.0 179.7h0M225.9 174.0h0M235.5 164.6h0M223.9 171.3h0M226.6 160.9h0M227.6 173.7h0M214.9 175.2h0M214.7 176.7h0M210.3 177.3h0M204.9 181.0h0M236.0 154.2h0M207.4 178.6h0M228.0 167.4h0M232.6 163.8h0M212.5 184.1h0M218.9 179.9h0M231.6 153.2h0M219.1 162.1h0M219.1 165.5h0M218.4 169.0h0M229.9 155.0h0M229.2 173.6h0M210.8 177.1h0M220.9 172.0h0M212.2 188.0h0M219.2 177.3h0M232.9 165.4h0M227.9 168.4h0M231.7 160.6h0M215.6 180.3h0M205.9 186.7h0M220.2 183.3h0M213.5 165.9h0M212.9 181.7h0M216.5 164.0h0M205.4 178.6h0M217.2 177.4h0M233.4 167.7h0M215.9 179.8h0M213.9 185.8h0M220.2 179.5h0M228.6 154.4h0M220.6 176.9h0M233.4 153.4h0M225.0 166.4h0M234.5 161.8h0M217.4 173.1h0M236.8 156.6h0M229.8 169.1h0M228.2 161.3h0M215.9 181.4h0M226.6 156.5h0M223.4 161.3h0M220.3 164.4h0M208.1 186.8h0M206.3 182.9h0M214.5 178.3h0M221.7 181.8h0M215.7 175.7h0M218.7 169.2h0M211.6 172.1h0M226.9 177.0h0M232.1 155.4h0M201.3 190.6h0M226.3 156.4h0M221.2 180.1h0M214.9 169.4h0M222.9 158.7h0M233.7 154.5h0M213.6 184.8h0M222.4 172.0h0M236.8 165.5h0M223.8 164.0h0M220.8 156.0h0M227.4 164.4h0M223.6 172.7h0M211.5 178.2h0M221.3 162.1h0M230.1 159.9h0M200.4 189.1h0M232.0 167.7h0M213.3 169.5h0M232.9 160.7h0M220.2 180.4h0M216.1 175.0h0M205.6 182.2h0M231.7 173.3h0M226.4 172.5h0M215.1 173.8h0M213.3 184.0h0M226.3 156.4h0M220.5 165.9h0M219.4 159.9h0M229.4 158.1h0M222.3 175.8h0M213.8 172.1h0M211.6 174.7h0M225.7 174.8h0M233.4 158.8h0M214.5 169.9h0M215.4 177.5h0M233.0 156.5h0M207.0 178.6h0M222.7 158.9h0M211.8 172.2h0M205.9 184.9h0M221.3 165.9h0M207.4 174.4h0M213.3 174.7h0M211.1 176.7h0M215.1 184.8h0M224.0 162.5h0M219.8 163.0h0M228.3 175.6h0M208.5 176.8h0M235.5 163.2h0M222.9 177.1h0M224.0 178.1h0M231.8 171.3h0M222.8 157.4h0M216.7 187.8h0M216.6 180.9h0M228.3 168.0h0M218.4 184.8h0M231.7 157.9h0M220.8 159.9h0M228.9 171.6h0M224.5 183.5h0M225.5 157.7h0M222.8 163.0h0M222.9 162.6h0M226.7 161.2h0M211.2 175.2h0M226.5 163.4h0M230.5 158.9h0M227.3 155.2h0M224.0 158.1h0M232.7 152.1h0M205.0 184.7h0M214.2 174.6h0M210.1 181.1h0M212.3 189.0h0M230.1 164.8h0M217.4 174.2h0M220.3 179.9h0M218.1 170.6h0M232.6 154.7h0M221.1 186.2h0M206.6 184.6h0M212.1 174.3h0M227.3 165.4h0M213.9 186.6h0M228.2 168.0h0M207.3 179.6h0M229.1 158.8h0M208.1 181.9h0M221.4 166.9h0M217.0 167.6h0M217.4 178.7h0M231.9 167.9h0M233.6 169.9h0M223.8 179.9h0M236.3 159.1h0M216.8 165.9h0M216.1 184.6h0M228.4 163.3h0M230.8 159.5h0M224.9 163.6h0M203.8 189.0h0M215.6 184.9h0M229.7 158.9h0M215.1 178.9h0M228.3 163.2h0M219.4 182.1h0M220.6 179.3h0M233.7 171.2h0M218.4 179.4h0M209.7 182.6h0M225.3 163.6h0M219.2 176.8h0M226.0 163.4h0M221.2 176.0h0M216.4 176.5h0M215.6 182.8h0M220.8 173.1h0M229.5 158.2h0M224.6 163.1h0M227.3 161.1h0M234.5 155.6h0M217.3 167.0h0M225.6 182.7h0M230.6 165.4h0M219.9 183.8h0M231.0 161.4h0M232.0 162.1h0M228.3 164.4h0M224.2 159.3h0M223.7 162.2h0M217.9 184.2h0M234.1 158.4h0M225.4 178.9h0M224.3 171.6h0M232.5 161.4h0M215.2 178.8h0M220.6 174.9h0M220.0 162.4h0M235.1 162.2h0M223.0 175.1h0M227.6 150.0h0M234.0 158.1h0M235.4 164.7h0M224.6 164.3h0M220.5 161.5h0M224.2 176.5h0M233.8 163.6h0M226.0 156.8h0M237.1 164.2h0M235.5 170.8h0M237.1 158.0h0M228.2 154.4h0M230.7 175.9h0M230.2 157.4h0M234.6 149.9h0M225.6 175.3h0M217.9 175.0h0M224.1 166.4h0M219.7 170.2h0M229.2 159.4h0M236.9 156.1h0M229.9 169.1h0M230.3 156.6h0M225.7 155.0h0M228.0 159.7h0M217.4 164.0h0M227.2 169.1h0M229.3 162.6h0M223.4 177.1h0M230.6 158.6h0M229.2 166.2h0M226.6 179.3h0M224.8 172.3h0M227.0 181.7h0M219.6 174.0h0M216.0 182.4h0M237.3 161.0h0M224.7 167.0h0M221.2 168.9h0M224.8 174.6h0M228.2 160.4h0M227.9 174.4h0M228.5 169.5h0M224.9 165.9h0M230.7 157.6h0M225.5 149.5h0M215.4 177.2h0M220.5 174.4h0M219.4 174.1h0M206.9 176.3h0M216.7 176.7h0M217.9 177.8h0M204.3 183.3h0M203.4 190.8h0M222.4 176.2h0M217.5 190.8h0M214.6 185.1h0M214.1 177.0h0M217.8 187.3h0M217.7 175.0h0M211.9 189.3h0M201.6 193.3h0M199.3 176.7h0M199.1 187.3h0M211.4 185.3h0M212.6 173.8h0" stroke="#3c9646" stroke-width="1.5" stroke-linecap="round" fill="none"/>
<path d="M212.0 195.4h0M206.9 189.1h0M225.8 196.5h0M214.0 200.9h0M227.5 192.9h0M223.1 216.4h0M224.9 185.7h0M218.5 210.6h0M229.6 201.5h0M214.2 192.9h0M205.7 194.1h0M207.9 198.9h0M225.4 197.7h0M224.1 201.7h0M210.1 183.6h0M231.2 191.4h0M218.9 209.2h0M237.6 201.3h0M221.3 180.2h0M217.5 185.8h0M214.6 215.5h0M224.1 213.3h0M215.4 195.9h0M214.0 190.0h0M212.5 201.7h0M220.0 203.9h0M221.5 202.2h0M222.9 218.2h0M226.1 192.9h0M211.3 198.1h0M222.9 192.5h0M209.1 193.6h0M216.7 201.7h0M220.5 209.6h0M223.7 216.2h0M223.2 210.0h0M204.5 190.2h0M227.0 191.1h0M223.6 208.8h0M224.6 218.6h0M228.7 196.3h0M228.3 206.7h0M217.8 182.6h0M215.3 196.0h0M229.3 201.0h0M207.2 190.9h0M216.9 204.9h0M216.1 206.7h0M210.4 207.1h0M230.8 208.8h0M225.1 212.9h0M226.9 186.5h0M224.5 212.6h0M231.7 190.7h0M223.0 214.3h0M220.4 207.8h0M220.5 193.1h0M235.0 205.0h0M210.6 191.0h0M222.9 206.4h0M219.2 183.7h0M224.0 192.2h0M230.9 199.4h0M213.8 189.6h0M214.0 200.1h0M210.0 197.1h0M209.2 201.2h0M209.1 213.3h0M221.2 180.5h0M228.9 184.2h0M219.7 209.6h0M220.1 186.4h0M228.1 181.7h0M228.2 191.2h0M231.7 190.6h0M211.1 205.8h0M223.4 204.4h0M229.9 209.1h0M212.6 193.0h0M218.3 182.5h0M226.6 202.6h0M215.5 176.3h0M224.7 206.9h0M213.2 190.2h0M226.6 200.2h0M222.4 199.5h0M219.4 187.7h0M206.5 202.8h0M229.0 212.3h0M218.4 193.1h0M225.8 202.8h0M214.6 193.3h0M212.2 199.1h0M208.6 182.2h0M234.5 204.5h0M219.9 181.6h0M229.8 209.4h0M224.9 207.4h0M210.7 188.6h0M219.6 200.0h0M211.0 192.9h0M219.7 179.1h0M231.6 203.0h0M224.1 190.0h0M211.4 193.7h0M220.6 215.5h0M206.4 197.9h0M223.3 206.4h0M217.6 187.5h0M217.7 185.9h0M224.0 191.8h0M215.2 213.8h0M220.0 195.2h0M222.6 196.5h0M208.5 212.0h0M208.1 194.6h0M225.3 191.7h0M212.6 199.1h0M228.7 199.8h0M226.2 201.8h0M219.6 196.0h0M228.7 204.2h0M216.6 198.6h0M232.3 197.0h0M209.1 205.6h0M234.6 199.1h0M220.0 217.7h0M225.8 212.4h0M226.6 199.6h0M225.8 210.1h0M227.6 198.3h0M215.1 205.5h0M223.8 191.7h0M208.9 202.6h0M218.3 213.3h0M204.7 184.6h0M229.3 195.7h0M211.8 187.4h0M209.9 208.6h0M216.3 203.0h0M229.8 190.2h0M206.9 192.2h0M220.4 189.7h0M219.8 199.3h0M209.3 215.3h0M233.7 195.2h0M232.7 198.2h0M211.1 210.4h0M206.0 185.1h0M232.4 195.6h0M216.1 199.2h0M221.4 215.0h0M221.2 186.7h0M215.3 203.5h0M218.5 182.2h0M227.3 206.6h0M215.1 184.1h0M218.0 221.5h0M226.0 215.4h0M225.3 205.2h0M214.1 215.4h0M219.6 195.7h0M225.3 194.7h0M224.5 185.1h0M216.8 206.5h0M222.0 189.8h0M212.1 190.0h0M220.2 188.9h0M225.9 198.5h0M220.0 208.3h0M229.2 198.6h0M221.4 208.1h0M225.7 187.9h0M220.6 180.4h0M219.2 201.6h0M230.5 192.0h0M235.0 195.8h0M220.9 190.3h0M221.1 180.1h0M228.5 183.5h0M219.9 184.6h0M221.9 186.6h0M231.6 191.3h0M228.1 196.7h0M205.5 203.8h0M212.2 188.3h0M216.5 187.7h0M216.0 196.9h0M222.7 201.6h0M233.3 198.3h0M209.6 179.0h0M219.7 206.6h0M216.2 209.8h0M235.2 196.3h0M230.4 214.4h0M225.5 205.8h0M222.3 180.0h0M219.1 184.4h0M224.4 183.7h0M222.5 205.9h0M223.6 178.5h0M224.2 202.1h0M235.5 204.1h0M235.5 209.0h0M219.8 219.4h0M228.1 213.7h0M232.7 205.3h0M229.5 208.3h0M225.9 197.6h0M227.8 206.6h0M227.6 186.8h0M230.9 203.4h0M213.6 196.7h0M220.3 208.7h0M225.2 194.7h0M225.6 207.5h0M209.2 201.4h0M216.2 207.4h0M228.3 212.9h0M218.3 218.5h0M229.2 198.3h0M230.4 190.7h0M224.9 192.5h0M226.3 206.1h0M224.2 178.8h0M223.7 201.3h0M212.5 191.1h0M220.8 185.6h0M225.8 184.6h0M230.6 194.8h0M219.8 180.5h0M208.9 199.1h0M208.0 196.5h0M221.5 179.6h0M223.0 197.2h0M215.8 198.3h0M228.5 193.4h0M210.9 199.4h0M212.3 196.4h0M207.5 202.7h0M221.3 186.2h0M233.9 199.7h0M219.4 194.6h0M225.8 202.7h0M227.0 193.0h0M221.0 209.0h0M226.0 222.8h0M213.5 218.4h0M217.9 201.0h0M218.0 206.0h0M225.9 220.2h0M209.5 194.9h0M229.4 194.2h0M211.8 219.1h0M224.7 195.5h0M221.1 213.5h0M202.3 189.5h0M233.5 189.0h0M224.5 193.3h0M219.2 201.5h0M221.0 207.8h0M223.2 212.6h0M220.0 179.3h0M231.5 208.0h0M226.9 192.0h0M227.6 193.6h0M218.7 185.4h0M228.4 211.8h0M221.1 202.1h0M213.0 197.5h0M218.2 221.0h0M234.7 197.5h0M219.5 196.1h0M214.0 207.7h0M233.0 203.3h0M208.2 194.8h0M227.1 206.9h0M216.1 184.1h0M227.1 212.4h0M217.3 202.9h0M219.2 213.1h0M219.1 210.4h0M225.8 196.5h0M216.9 202.0h0M217.1 188.6h0M224.1 191.6h0M205.4 191.0h0M219.8 203.5h0M210.3 186.0h0M231.7 198.5h0M219.4 206.6h0M226.6 197.7h0M215.4 184.3h0M224.3 195.5h0M220.1 201.6h0M214.7 204.4h0M216.7 188.9h0M213.6 182.2h0M228.4 205.7h0M214.9 217.7h0M226.7 190.8h0M232.3 195.4h0M223.5 202.2h0M211.6 191.4h0M218.1 199.3h0M215.0 193.1h0M208.3 212.3h0M228.3 192.1h0M213.6 196.0h0M223.2 187.4h0M228.3 187.5h0M216.4 177.3h0M220.6 191.0h0M224.8 182.3h0M228.2 217.0h0M210.3 200.1h0M214.9 187.9h0M231.5 184.2h0M213.1 192.9h0M227.3 190.7h0M226.4 193.9h0M224.7 195.1h0M217.8 198.6h0M214.0 209.5h0M221.1 208.4h0M216.2 205.9h0M212.3 228.3h0M225.1 183.7h0M222.0 206.4h0M228.6 194.5h0M210.6 199.5h0M220.9 208.3h0M224.4 214.6h0M220.6 190.6h0M206.9 192.2h0M226.7 208.0h0M212.2 200.8h0M220.4 200.8h0M218.2 211.2h0M207.5 206.7h0M227.1 190.3h0M225.6 201.0h0M216.1 204.4h0M221.6 214.0h0M222.9 194.0h0M216.0 188.8h0M225.5 223.4h0M217.5 200.1h0M203.8 191.9h0M227.3 193.0h0M219.4 182.9h0M221.0 195.3h0M223.8 186.3h0M208.3 188.6h0M222.9 183.2h0M221.9 199.6h0M215.6 198.1h0M216.3 193.0h0M220.7 206.9h0M210.8 193.0h0M206.2 180.3h0M209.8 188.6h0M204.7 181.1h0M210.4 203.0h0M206.7 181.3h0M212.0 193.3h0M208.8 190.8h0M197.9 186.1h0M214.1 197.3h0M208.4 183.8h0M209.0 183.2h0M208.1 194.6h0M204.9 193.2h0M202.3 203.0h0M208.3 200.5h0M208.5 193.3h0M207.2 187.6h0M205.9 201.7h0M206.7 194.2h0M213.6 183.5h0M202.2 208.4h0M202.6 187.6h0M200.0 184.6h0M206.5 182.5h0" stroke="#efaf3c" stroke-width="1.5" stroke-linecap="round" fill="none"/>
<rect x="173.1" y="114.2" width="157.4" height="125.2" fill="none" stroke="#000" stroke-width="1.1"/>
<text x="178.5" y="251.0" font-size="7.6" fill="#231f20" text-anchor="middle" stroke="#231f20" stroke-width="0.22" >&#8722;10</text>
<text x="214.3" y="251.0" font-size="7.6" fill="#231f20" text-anchor="middle" stroke="#231f20" stroke-width="0.22" >&#8722;5</text>
<text x="252.3" y="251.0" font-size="7.6" fill="#231f20" text-anchor="middle" stroke="#231f20" stroke-width="0.22" >0</text>
<text x="288.1" y="251.0" font-size="7.6" fill="#231f20" text-anchor="middle" stroke="#231f20" stroke-width="0.22" >5</text>
<text x="323.9" y="251.0" font-size="7.6" fill="#231f20" text-anchor="middle" stroke="#231f20" stroke-width="0.22" >10</text>
<text x="167.9" y="133.9" font-size="7.6" fill="#231f20" text-anchor="end" stroke="#231f20" stroke-width="0.22" >5</text>
<text x="167.9" y="167.9" font-size="7.6" fill="#231f20" text-anchor="end" stroke="#231f20" stroke-width="0.22" >0</text>
<text x="167.9" y="201.9" font-size="7.6" fill="#231f20" text-anchor="end" stroke="#231f20" stroke-width="0.22" >&#8722;5</text>
<text x="167.9" y="235.9" font-size="7.6" fill="#231f20" text-anchor="end" stroke="#231f20" stroke-width="0.22" >&#8722;10</text>
<path d="M180.7 239.4v2.6M216.5 239.4v2.6M252.3 239.4v2.6M288.1 239.4v2.6M323.9 239.4v2.6M173.1 131.2h-2.6M173.1 165.2h-2.6M173.1 199.2h-2.6M173.1 233.2h-2.6" stroke="#000" stroke-width="0.9" fill="none"/>
<circle cx="308.1" cy="153.6" r="1.2" fill="#e0202a"/>
<text x="311.3" y="149.9" font-size="7.2" fill="#231f20" text-anchor="start" stroke="#231f20" stroke-width="0.22" >Pten</text>
<circle cx="311.0" cy="171.3" r="1.2" fill="#e0202a"/>
<text x="312.8" y="168.1" font-size="7.2" fill="#231f20" text-anchor="start" stroke="#231f20" stroke-width="0.22" >Tsc2</text>
<circle cx="296.0" cy="178.1" r="1.2" fill="#e0202a"/>
<text x="300.7" y="187.0" font-size="7.2" fill="#231f20" text-anchor="start" stroke="#231f20" stroke-width="0.22" >Tsc1</text>
<line x1="211.5" y1="152" x2="216.5" y2="155.0" stroke="#000" stroke-width="0.8"/>
<circle cx="216.5" cy="155.0" r="1.2" fill="#e0202a"/>
<text x="189.7" y="150.5" font-size="7.2" fill="#231f20" text-anchor="start" stroke="#231f20" stroke-width="0.22" >Fermt3</text>
<line x1="203.4" y1="175.5" x2="218.6" y2="184.9" stroke="#000" stroke-width="0.8"/>
<circle cx="218.6" cy="184.9" r="1.2" fill="#e0202a"/>
<text x="184.5" y="174.2" font-size="7.2" fill="#231f20" text-anchor="start" stroke="#231f20" stroke-width="0.22" >Cxcr4</text>
<circle cx="197.9" cy="190.4" r="1.2" fill="#e0202a"/>
<text x="181.5" y="196.7" font-size="7.2" fill="#231f20" text-anchor="start" stroke="#231f20" stroke-width="0.22" >Tln1</text>
<path d="M363.8 114.2V239.4M381.7 114.2V239.4M399.6 114.2V239.4M417.4 114.2V239.4M435.3 114.2V239.4M453.2 114.2V239.4M471.1 114.2V239.4M488.9 114.2V239.4M506.8 114.2V239.4M356.5 131.2H511.6M356.5 148.2H511.6M356.5 165.2H511.6M356.5 182.2H511.6M356.5 199.2H511.6M356.5 216.2H511.6M356.5 233.2H511.6" stroke="#ececec" stroke-width="0.7" fill="none"/>
<filter id="cb23" x="-30%" y="-30%" width="160%" height="160%"><feGaussianBlur stdDeviation="1.8"/></filter>
<ellipse cx="439.9" cy="158.7" rx="16.4" ry="17.7" transform="rotate(-40 439.9 158.7)" fill="#c0c0c0" filter="url(#cb23)"/>
<path d="M447.9 135.7h0M425.8 161.3h0M424.9 163.6h0M430.5 162.5h0M436.1 159.4h0M449.8 172.3h0M435.7 172.7h0M438.5 176.3h0M422.5 156.1h0M443.1 176.7h0M446.7 170.2h0M423.9 164.3h0M423.7 151.5h0M432.2 140.1h0M434.2 154.0h0M454.9 165.7h0M430.2 153.0h0M429.8 174.7h0M445.6 170.0h0M426.5 141.1h0M456.6 153.2h0M446.5 155.1h0M444.3 161.1h0M454.8 150.6h0M457.3 147.0h0M423.3 153.8h0M446.8 141.8h0M434.1 144.9h0M444.1 138.1h0M436.6 144.7h0M424.3 161.4h0M423.3 164.1h0M454.6 158.6h0M425.6 160.4h0M428.2 143.5h0M430.7 159.6h0M454.3 164.8h0M439.9 165.0h0M433.9 151.8h0M446.2 142.4h0M433.7 170.6h0M427.1 163.3h0M456.4 171.0h0M447.8 160.0h0M431.6 161.7h0M444.0 147.6h0M432.2 169.2h0M429.9 170.1h0M451.9 160.0h0M425.8 169.7h0M425.8 149.0h0M430.3 156.1h0M427.0 158.2h0M452.0 164.7h0M429.7 150.4h0M436.9 153.5h0M441.7 147.6h0M440.9 147.0h0M431.6 150.3h0M426.0 142.5h0M457.9 168.9h0M429.4 156.7h0M445.0 165.4h0M443.5 170.5h0M441.9 172.6h0M448.2 154.0h0M437.1 177.8h0M444.6 165.3h0M450.3 168.0h0M436.9 173.3h0M443.9 144.5h0M430.8 140.3h0M432.5 168.1h0M418.3 164.5h0M450.5 156.7h0M449.5 159.2h0M417.6 156.8h0M457.3 165.5h0M442.4 161.2h0M431.8 143.4h0M425.6 161.7h0M434.5 176.7h0M443.1 171.6h0M436.1 143.9h0M432.6 168.4h0M426.7 161.5h0M443.7 179.8h0M444.7 149.4h0M447.9 144.6h0M435.7 158.6h0M444.4 178.2h0M438.1 150.6h0M427.0 171.3h0M441.2 143.0h0M440.2 163.6h0M439.0 170.0h0M433.8 144.5h0M449.1 153.4h0M434.5 167.0h0M421.6 146.6h0M429.9 180.8h0M437.4 138.9h0M442.7 139.1h0M456.0 150.5h0M442.3 152.4h0M449.1 173.9h0M426.0 146.6h0M450.7 151.0h0M450.6 173.3h0M446.4 144.3h0M448.7 142.2h0M438.9 140.9h0M458.4 177.5h0M434.0 172.4h0M455.2 168.6h0M436.3 169.2h0M456.5 162.8h0M434.8 156.5h0M433.8 146.6h0M453.2 167.4h0M447.4 154.6h0M421.9 162.5h0M430.9 170.7h0M452.9 155.7h0M435.8 177.1h0M448.7 173.6h0M424.5 172.5h0M434.7 148.0h0M443.9 141.8h0M429.8 157.2h0M430.9 173.3h0M445.9 150.7h0M452.0 174.9h0M436.4 165.5h0M448.1 145.1h0M427.3 146.8h0M426.8 154.1h0M433.5 160.1h0M443.0 173.1h0M446.4 167.8h0M446.9 151.1h0M451.7 168.3h0M455.7 172.5h0M456.5 151.0h0M438.9 143.3h0M434.6 165.1h0M438.6 175.9h0M454.4 154.0h0M426.9 159.4h0M438.7 149.2h0M440.6 156.9h0M424.2 154.6h0M460.4 164.6h0M440.9 150.4h0M423.2 161.9h0M422.0 137.3h0M436.1 154.7h0M454.4 150.9h0M437.7 135.4h0M451.0 171.9h0M435.4 173.4h0M450.9 140.9h0M441.2 147.8h0M440.7 152.7h0M434.7 157.5h0M441.6 165.8h0M431.4 162.2h0M438.5 174.1h0M452.8 174.0h0M434.3 163.5h0M458.7 164.6h0M431.8 170.1h0M450.7 174.9h0M460.4 164.5h0M442.1 172.6h0M446.7 149.8h0M454.5 148.7h0M451.0 170.0h0M435.4 141.0h0M421.7 163.4h0M420.0 157.9h0M439.1 158.8h0M460.6 166.8h0M434.2 151.4h0M444.8 144.1h0M436.5 149.9h0M428.8 138.2h0M453.6 147.4h0M427.4 160.1h0M430.6 164.7h0M424.3 144.7h0M440.0 138.7h0M435.6 153.7h0M442.4 151.3h0M428.4 169.0h0M449.5 144.4h0M436.8 161.5h0M455.9 163.1h0M439.8 159.2h0M442.7 161.8h0M455.7 164.5h0M456.6 166.6h0M457.1 164.1h0M421.9 149.6h0M455.4 170.2h0M434.3 151.6h0M414.8 159.1h0M446.1 174.8h0M426.0 171.8h0M429.8 160.6h0M443.9 152.3h0M428.1 158.3h0M444.2 153.5h0M436.4 146.0h0M460.7 153.7h0M437.7 147.7h0M437.9 145.2h0M449.9 171.6h0M452.3 177.2h0M438.8 155.8h0M424.6 155.4h0M455.2 156.5h0M435.7 147.0h0M452.5 171.0h0M445.6 145.0h0M440.9 173.1h0M455.6 175.2h0M455.8 151.7h0M450.0 148.8h0M422.3 166.2h0M436.3 141.2h0M442.5 161.5h0M432.0 173.0h0M433.8 165.8h0M432.5 150.2h0M433.8 170.9h0M423.2 144.2h0M429.7 165.6h0M420.1 163.4h0M426.0 170.3h0M422.4 159.6h0M434.8 178.8h0M449.9 149.2h0M442.5 165.5h0M434.5 155.3h0M450.1 148.0h0M423.0 158.2h0M432.1 175.9h0M447.1 174.5h0M447.3 177.5h0M435.8 152.8h0M444.9 164.5h0M443.3 165.7h0M445.7 143.8h0M462.2 171.5h0M451.2 146.6h0M440.3 169.3h0M423.5 155.5h0M442.1 141.4h0M451.0 161.7h0M442.9 172.4h0M447.8 154.9h0M441.3 162.9h0M453.4 164.4h0M445.1 175.6h0M454.5 163.6h0M431.7 142.8h0M434.4 145.6h0M427.6 154.8h0M465.6 168.0h0M428.3 157.4h0M446.1 170.3h0M428.8 169.8h0M423.5 164.2h0M427.2 169.1h0M429.3 160.9h0M431.4 144.7h0M442.5 154.8h0M435.3 148.7h0M429.6 162.3h0M448.1 166.6h0M444.1 154.8h0M423.8 155.9h0M445.0 175.8h0M432.6 140.9h0M421.9 158.4h0M437.8 183.3h0M454.5 164.6h0M451.3 167.4h0M432.8 154.3h0M443.6 153.3h0M425.8 154.6h0M438.5 156.7h0M424.9 153.0h0M436.0 153.5h0M435.6 171.6h0M432.7 152.6h0M447.2 148.0h0M428.1 154.1h0M420.7 150.9h0M424.7 164.5h0M439.4 134.9h0M451.2 160.7h0M430.8 159.6h0M443.4 150.6h0M428.6 161.3h0M423.7 152.3h0M430.5 159.8h0M450.8 156.4h0M436.5 161.7h0M432.9 165.2h0M424.8 165.6h0M447.8 157.2h0M458.6 159.9h0M425.5 166.2h0M421.6 157.2h0M447.2 143.2h0M445.9 159.1h0M444.7 166.3h0M434.2 167.0h0M429.6 150.1h0M435.5 176.2h0M435.9 145.3h0M428.2 166.1h0M446.5 160.7h0M419.4 175.3h0M432.0 169.0h0M451.8 151.9h0M444.3 141.7h0M429.2 162.9h0M434.9 164.7h0M445.6 175.2h0M435.4 157.0h0M454.8 162.6h0M441.5 160.8h0M454.2 149.4h0M423.2 163.1h0M455.4 151.0h0M442.3 178.9h0M436.9 167.5h0M452.9 157.5h0M429.1 156.6h0M440.3 166.7h0M437.9 156.2h0M452.0 175.2h0M441.7 175.0h0M424.3 152.6h0M434.6 151.1h0M444.0 146.4h0M438.4 155.9h0M436.0 163.8h0M426.5 161.0h0M439.4 153.3h0M442.6 167.1h0M421.1 157.8h0M455.9 166.2h0M438.3 152.9h0M448.8 165.3h0M446.0 147.0h0M427.4 146.7h0M424.0 158.8h0M430.5 151.7h0M451.7 148.8h0M437.5 147.0h0M425.1 167.0h0M418.2 148.5h0M434.0 151.1h0M445.6 169.4h0M440.8 140.6h0M433.3 168.8h0M441.8 172.5h0M440.8 151.0h0M450.4 145.7h0M436.8 166.4h0M442.4 161.7h0M421.3 157.6h0M432.4 177.1h0M459.9 172.1h0M451.9 144.2h0M445.2 164.9h0M448.0 149.8h0M431.9 176.1h0M430.3 163.9h0M453.3 167.2h0M431.6 155.5h0M435.4 163.2h0M449.4 169.7h0M454.4 172.9h0M429.7 148.1h0M443.7 171.5h0M445.8 153.1h0M422.6 167.5h0M428.2 176.5h0M428.9 147.8h0M442.9 160.6h0M445.3 145.4h0M446.3 161.9h0M425.7 163.5h0M428.9 171.8h0M436.6 166.1h0M442.9 154.8h0M426.9 169.9h0M433.6 157.5h0M429.4 165.1h0M439.3 175.5h0M450.5 156.0h0M449.8 164.8h0M443.6 179.2h0M440.0 157.7h0M436.6 153.1h0M443.1 166.4h0M431.0 171.1h0M448.9 176.9h0M444.5 150.7h0M447.1 169.4h0M430.3 155.4h0M430.4 155.1h0M427.4 160.2h0M435.2 172.3h0M452.2 171.9h0M445.2 168.0h0M422.9 155.2h0M428.2 153.3h0M442.1 154.2h0M447.9 154.7h0M453.9 157.2h0M458.4 151.1h0M445.7 143.5h0M440.1 159.9h0M455.8 148.3h0M445.3 171.3h0M446.5 162.6h0M441.0 158.8h0M462.7 162.8h0M431.8 166.9h0M429.5 157.3h0M447.2 144.3h0M447.2 145.5h0M445.5 155.0h0M457.8 167.4h0M449.8 153.8h0M453.0 146.4h0M455.7 155.2h0M430.7 159.9h0M447.0 167.6h0M417.4 148.7h0M420.7 148.6h0M449.2 152.4h0M441.0 157.9h0M452.5 158.3h0M430.7 149.6h0M436.1 144.7h0M443.6 158.1h0M449.5 157.7h0M444.2 169.1h0M435.6 152.3h0M425.9 158.1h0M458.8 153.9h0M432.8 156.6h0M434.1 149.6h0M439.2 142.9h0M449.4 166.8h0M447.3 150.2h0M432.9 165.6h0M441.7 167.8h0M451.7 159.8h0M447.7 166.9h0M428.6 167.6h0M449.3 161.3h0M418.9 160.2h0M440.2 152.8h0M446.6 143.4h0M449.2 152.9h0M458.9 165.6h0M447.7 148.9h0M448.4 162.4h0M453.4 163.1h0M437.6 150.6h0M449.1 167.6h0M424.3 153.8h0M428.2 172.0h0M429.1 163.1h0M434.9 153.4h0M428.1 157.2h0M443.9 146.4h0M426.7 155.1h0M425.6 155.7h0M441.6 140.3h0M445.2 148.5h0M427.5 172.8h0M448.1 151.0h0M422.5 148.9h0M435.8 146.4h0M437.8 158.4h0M446.4 156.7h0M438.1 167.2h0M424.6 171.9h0M438.3 163.3h0M430.6 175.2h0M427.0 163.5h0M442.5 166.6h0M444.3 155.2h0M427.6 170.5h0M450.8 147.8h0M422.6 145.9h0M441.8 169.2h0M431.1 149.7h0M431.6 169.1h0M440.1 146.8h0M437.3 168.3h0M435.8 164.8h0M426.0 145.5h0M451.5 150.6h0M417.7 154.4h0M453.2 156.1h0M434.7 160.5h0M452.6 164.0h0M452.5 151.0h0M440.0 142.9h0M434.5 173.2h0M449.8 161.0h0M431.2 163.4h0M457.1 161.6h0M430.4 176.1h0M421.9 154.5h0M435.4 160.4h0M429.7 168.3h0M429.9 146.1h0M451.4 160.5h0M455.5 157.0h0M447.2 149.5h0M423.9 154.6h0M441.2 170.3h0M439.4 159.3h0M451.3 165.0h0M433.3 151.9h0M438.1 145.6h0M432.1 154.3h0M451.1 176.5h0M438.1 164.3h0M433.3 171.4h0M457.8 149.7h0M454.6 164.8h0M440.9 168.8h0M425.1 153.0h0M449.8 152.2h0M446.1 142.4h0M451.0 165.2h0M446.5 156.2h0M445.3 149.3h0M451.5 161.4h0M435.8 159.8h0M454.0 150.0h0M437.6 172.9h0M442.9 161.2h0M448.0 157.1h0M438.9 158.9h0M440.5 148.5h0M436.0 138.7h0M433.1 148.2h0M431.4 148.6h0M437.5 151.7h0M419.6 163.4h0M434.7 173.6h0M450.0 150.7h0M449.2 161.9h0M424.5 162.7h0M436.4 169.1h0M421.7 166.0h0M448.6 168.8h0M435.5 180.7h0M443.0 153.1h0M441.4 156.7h0M446.0 174.6h0M431.6 172.9h0M432.6 169.2h0M451.7 150.1h0M435.5 166.9h0M441.8 172.8h0M419.9 159.0h0M434.5 164.2h0M442.7 165.0h0M455.4 169.8h0M432.2 148.0h0M457.3 167.1h0M441.0 161.4h0M436.2 173.6h0M439.4 155.4h0M421.9 158.8h0M418.2 155.8h0M438.7 160.9h0M432.2 171.4h0M450.3 158.5h0M438.5 172.9h0M458.4 172.4h0M432.8 175.4h0M424.3 150.6h0M428.2 162.3h0M443.4 166.0h0M450.6 168.4h0M441.7 145.6h0M446.3 180.0h0M430.4 169.0h0M441.2 162.3h0M428.0 170.5h0M438.0 156.3h0M428.3 159.6h0M443.1 175.0h0M446.5 149.4h0M439.3 156.1h0M449.5 172.5h0M460.6 148.3h0M442.8 173.0h0M443.2 168.6h0M445.6 156.9h0M455.3 154.2h0M426.7 163.5h0M446.6 161.2h0M443.2 166.8h0M426.5 151.3h0M453.2 167.3h0M445.2 172.8h0M438.0 161.8h0M431.8 155.3h0M441.3 148.2h0M458.5 157.2h0M445.7 170.4h0M432.8 166.8h0M445.7 142.9h0M446.2 166.6h0M430.2 159.6h0M419.3 160.0h0M424.9 157.8h0M442.7 174.7h0M449.9 158.5h0M428.7 161.8h0M437.8 158.4h0M439.2 140.5h0M432.6 146.1h0M436.0 169.1h0M435.9 178.5h0M461.2 155.4h0M451.0 142.1h0M435.7 158.8h0M441.0 148.9h0M447.2 173.0h0M442.7 152.3h0M439.3 143.4h0M427.3 152.4h0M444.1 142.3h0M441.9 178.2h0M439.7 164.1h0M446.6 150.8h0M446.1 176.9h0M450.6 174.1h0M445.1 162.1h0M422.3 161.2h0M431.2 176.5h0M432.2 141.2h0M424.0 151.0h0M448.6 144.8h0M449.9 172.8h0M436.7 165.4h0M421.2 170.2h0M433.1 152.4h0M435.4 153.6h0M441.1 151.1h0M444.0 167.9h0M432.0 154.3h0M435.6 164.7h0M454.3 162.5h0M439.0 162.7h0M437.4 155.3h0M445.2 155.5h0M439.6 160.8h0M441.4 141.5h0M433.3 140.7h0M450.0 166.2h0M437.5 179.3h0M437.1 162.4h0M440.9 150.5h0M442.3 154.4h0M448.0 171.7h0M426.1 167.9h0M444.5 164.0h0M453.5 146.7h0M456.3 151.7h0M433.8 142.6h0M445.7 151.7h0M440.6 161.0h0M420.6 153.6h0M431.6 148.2h0M446.6 143.8h0M428.7 153.8h0M441.7 153.5h0M449.3 143.2h0M450.9 151.6h0M442.5 154.0h0M444.5 167.7h0M427.5 165.0h0M418.3 149.1h0M422.4 171.7h0M443.6 174.2h0M439.6 156.4h0M447.0 156.1h0M448.8 169.2h0M443.4 148.1h0M452.1 136.2h0M438.0 170.0h0M447.8 160.0h0M435.0 150.7h0M425.7 166.4h0M420.6 148.2h0M429.7 150.2h0M450.9 155.1h0M444.2 175.9h0M419.8 161.6h0M453.1 169.6h0M447.5 171.8h0M447.2 136.0h0M430.5 153.3h0M442.6 163.0h0M425.5 153.0h0M441.1 148.3h0M437.2 165.0h0M432.1 166.5h0M437.7 139.2h0M423.1 171.0h0M452.7 169.0h0M452.3 149.2h0M459.3 152.3h0M432.6 174.1h0M441.1 147.8h0M429.4 158.1h0M440.8 168.4h0M429.5 165.5h0M423.1 157.0h0M441.8 174.2h0M447.9 149.4h0M458.3 164.7h0M430.3 143.7h0M439.0 165.1h0M425.0 142.2h0M428.1 150.6h0M438.7 170.5h0M430.2 163.9h0M430.2 163.3h0M441.2 171.2h0M454.8 165.6h0M422.7 167.1h0M454.4 152.0h0M433.9 167.2h0M429.7 160.7h0M450.8 157.0h0M453.2 157.9h0M448.3 150.0h0M444.2 151.7h0M431.6 164.7h0M450.9 173.1h0M443.0 165.8h0M435.5 164.4h0M426.0 149.2h0M445.7 154.8h0M457.7 158.6h0M440.6 151.1h0M436.9 173.6h0M433.3 149.2h0M451.8 150.6h0M432.5 142.8h0M455.6 145.2h0M430.7 175.6h0M442.6 164.3h0M440.0 166.2h0M459.9 158.0h0M429.6 171.2h0M424.8 151.2h0M438.4 143.9h0M431.8 166.2h0M430.3 157.0h0M433.2 165.5h0M428.1 163.3h0M440.1 141.5h0M450.6 142.3h0M433.3 140.4h0M435.0 157.5h0M428.3 150.0h0M443.0 174.3h0M451.1 171.8h0M451.6 163.3h0M426.1 166.4h0M451.4 179.3h0M427.9 160.2h0M449.7 153.5h0M448.3 157.2h0M449.0 162.2h0M428.1 150.9h0M439.7 178.3h0M461.7 162.6h0M447.8 163.6h0M435.5 174.4h0M442.8 168.9h0M452.9 157.7h0M438.2 158.1h0M435.4 155.5h0M454.2 152.2h0M445.1 153.4h0M448.1 156.3h0M430.8 144.7h0M462.5 145.4h0M436.0 157.7h0M448.5 149.0h0M433.0 170.5h0M438.8 153.6h0M438.7 165.7h0M428.9 157.2h0M415.7 175.7h0M447.6 176.8h0M438.0 142.1h0M431.6 176.2h0M417.9 151.4h0M416.9 161.5h0M422.4 159.6h0M441.8 148.8h0M424.7 165.5h0M418.2 164.5h0M448.1 163.7h0M450.2 149.3h0M451.8 136.2h0M438.2 141.3h0M438.4 169.7h0M448.4 161.8h0M413.4 159.6h0M446.5 139.4h0M448.7 152.9h0M414.2 163.2h0M454.1 167.0h0M450.1 143.1h0M439.3 152.6h0M438.9 177.8h0M426.3 155.8h0M434.4 150.6h0M456.8 143.2h0M438.6 166.6h0M431.1 128.0h0M443.1 143.3h0M463.7 138.9h0M441.0 170.4h0M435.6 153.9h0M448.8 140.7h0M429.8 157.8h0M432.6 161.2h0M447.7 168.2h0M447.6 147.2h0M450.2 145.3h0M432.9 156.9h0M458.1 153.5h0M429.1 149.6h0M437.2 161.7h0M425.0 163.1h0M436.9 147.8h0M430.7 172.8h0M446.4 159.5h0M425.2 144.5h0M444.4 153.4h0M448.7 151.0h0M446.3 146.3h0M431.7 159.1h0M424.7 170.0h0M437.6 152.3h0M452.4 154.6h0M445.2 153.0h0M438.4 169.3h0M457.8 158.7h0M457.0 142.8h0M481.8 153.4h0M449.8 166.7h0M458.2 160.9h0M432.1 155.1h0M445.2 155.2h0M436.4 155.5h0M448.8 145.6h0M439.1 128.9h0M446.1 142.4h0M428.7 162.0h0M447.3 181.3h0M442.4 159.9h0M433.1 150.2h0M455.2 161.3h0M427.7 148.3h0M445.1 156.3h0M445.5 156.3h0M443.9 155.7h0M446.7 162.3h0M451.1 165.0h0M468.6 139.4h0M454.9 130.0h0M451.4 162.5h0M444.6 153.5h0M441.1 149.5h0M440.3 164.6h0M435.7 156.6h0M446.1 163.6h0M458.6 148.7h0M435.2 170.6h0M440.8 166.7h0M447.8 173.5h0M421.3 159.5h0M436.2 145.0h0M437.5 160.5h0M423.4 173.9h0M488.1 147.9h0M427.2 153.3h0M466.0 130.9h0M456.0 147.6h0M420.4 157.0h0M464.1 160.9h0M465.1 153.5h0M445.7 154.8h0M423.5 160.2h0M453.2 169.4h0M440.4 169.5h0M442.7 148.9h0M440.4 166.7h0M455.7 145.1h0M425.2 169.7h0M432.0 158.3h0M453.6 155.3h0M425.2 168.6h0M447.4 154.4h0M425.2 139.2h0M467.0 141.8h0M430.8 167.0h0M438.8 180.0h0M440.7 158.8h0M447.3 162.8h0M447.6 165.7h0M443.1 159.4h0M418.7 163.8h0M431.6 140.7h0M449.1 143.2h0M459.0 149.0h0M438.4 141.0h0M450.6 147.8h0M434.1 161.2h0M435.0 142.7h0M425.9 166.4h0M458.6 146.4h0M424.6 160.0h0M465.1 145.5h0M453.9 149.5h0M432.5 155.0h0M447.2 150.0h0M442.9 162.4h0M420.1 150.9h0M434.3 138.3h0M447.9 148.1h0M437.5 155.2h0M448.5 142.4h0M439.8 156.8h0M440.3 148.5h0M427.8 153.5h0M419.8 155.1h0M450.1 168.5h0M415.5 157.8h0M437.3 146.8h0M450.5 147.7h0M472.6 148.1h0M436.0 146.9h0M440.9 144.4h0M442.0 165.3h0M477.0 147.5h0M440.2 163.2h0M467.8 136.5h0M456.0 155.2h0M439.6 148.9h0M444.5 161.0h0M433.4 159.3h0M449.1 133.2h0M452.6 162.6h0M435.0 153.3h0M445.4 152.6h0M439.3 153.6h0M438.5 151.6h0M431.3 174.9h0M446.9 156.6h0M450.5 172.2h0M453.5 163.3h0M447.8 174.8h0M458.4 145.8h0M456.6 172.8h0M431.9 168.6h0M430.1 150.3h0M431.1 152.6h0M449.3 169.4h0M423.6 155.8h0M458.8 146.3h0M429.4 159.5h0M448.8 154.8h0M444.3 125.1h0M440.5 165.5h0M437.0 181.2h0M433.4 164.8h0M438.4 144.5h0M401.1 149.7h0M427.2 148.8h0M438.8 154.8h0M465.9 138.2h0M425.0 153.0h0M435.1 153.7h0M430.3 147.8h0M428.1 163.4h0M428.2 160.6h0M444.2 160.5h0M439.1 153.8h0M447.3 161.8h0M440.5 159.5h0M440.3 162.4h0M434.7 149.6h0M420.1 168.8h0M456.9 160.5h0M425.5 181.4h0M432.5 152.3h0M452.7 148.0h0M441.6 160.7h0M423.5 164.9h0M432.0 156.8h0M458.2 159.7h0M449.1 151.9h0M428.6 160.0h0M435.1 167.1h0M440.4 149.3h0M421.1 151.5h0M432.4 160.7h0M433.7 157.8h0M444.4 142.4h0M456.6 165.7h0M463.5 159.4h0M439.7 154.6h0M459.6 165.7h0M446.6 150.9h0M437.2 138.5h0M439.9 151.1h0M446.8 156.8h0M450.4 178.8h0M431.2 154.2h0M449.4 147.9h0M440.8 165.0h0M452.9 141.4h0M442.0 164.1h0M436.9 169.1h0M431.0 154.3h0M444.6 124.7h0M427.8 171.3h0M454.6 161.5h0M447.9 151.8h0M442.9 154.6h0M453.8 142.7h0M433.6 166.9h0M443.6 157.4h0M410.5 166.0h0M459.0 162.9h0M432.3 174.3h0M443.3 160.2h0M429.0 157.3h0M465.0 165.0h0M457.5 160.2h0M442.1 148.9h0M437.8 158.6h0M468.2 143.3h0M437.4 145.1h0M447.2 157.1h0M437.8 171.7h0M434.9 176.9h0M447.1 171.2h0M441.4 119.1h0M446.5 144.9h0M461.3 160.3h0M436.5 152.4h0M452.1 134.8h0M457.5 172.1h0M427.9 146.4h0M426.3 159.4h0M452.9 142.5h0M442.6 132.4h0M437.5 139.4h0M460.2 148.9h0M454.5 159.9h0M450.6 161.3h0M412.8 163.0h0M442.5 151.7h0M442.5 163.2h0M452.1 164.4h0M451.6 168.6h0M425.0 167.3h0M436.6 174.4h0M446.7 151.0h0M425.5 150.5h0M433.8 151.1h0M432.0 160.9h0M442.1 156.4h0M438.1 143.7h0M430.6 160.6h0M453.9 146.9h0M439.0 172.4h0M441.0 160.4h0M447.6 153.4h0M434.0 171.7h0M438.3 158.5h0M447.5 151.0h0M438.4 153.6h0M460.9 160.6h0M462.1 143.3h0M431.8 172.8h0M435.3 155.9h0M443.1 164.1h0M438.9 151.8h0M441.8 151.8h0M437.3 159.8h0M459.2 173.6h0M435.2 156.0h0M420.7 182.4h0M433.4 167.6h0M431.7 168.3h0M442.5 157.2h0M448.9 159.5h0M445.2 162.5h0M436.9 162.5h0M429.2 154.3h0M433.5 149.6h0M461.4 144.4h0M442.3 171.0h0M437.3 169.0h0M419.6 175.3h0M438.1 158.9h0M443.6 151.5h0M443.8 166.4h0M429.9 157.1h0M448.9 148.2h0M424.5 180.1h0M419.5 150.8h0M432.7 154.9h0M448.3 155.0h0M442.8 160.6h0M436.6 170.4h0M443.7 158.3h0M455.5 150.4h0M445.3 153.6h0M448.1 135.4h0M453.5 142.0h0M430.8 174.5h0M430.1 160.3h0M433.1 165.4h0M444.5 156.6h0M449.1 160.2h0M447.7 174.3h0M441.3 156.9h0M455.2 141.1h0M430.8 142.7h0M434.5 176.3h0M442.2 157.0h0M466.2 136.0h0M438.8 174.6h0M460.4 145.7h0M436.7 169.9h0M442.7 157.3h0M428.8 145.5h0M414.8 152.9h0M443.7 133.5h0M429.9 172.6h0M465.7 151.7h0M451.2 131.7h0M454.1 145.0h0M449.8 149.1h0M455.1 162.4h0M438.7 163.8h0M456.8 160.8h0M437.4 170.2h0M439.8 140.8h0M428.3 164.1h0M446.2 164.8h0M412.2 184.9h0M446.0 145.8h0M465.7 145.2h0M460.0 143.3h0M442.0 155.6h0M438.6 173.8h0M427.7 164.0h0M442.5 152.8h0M423.8 167.0h0M431.8 153.0h0M436.6 152.6h0M430.0 168.7h0M455.8 157.6h0M434.9 163.9h0M447.8 144.7h0M441.7 155.5h0M438.2 156.4h0M445.5 174.0h0M434.6 163.4h0M438.6 170.3h0M430.3 151.9h0M433.6 173.2h0M446.9 148.0h0M455.3 160.1h0M421.9 146.4h0M446.1 158.0h0M416.1 167.3h0M437.8 162.6h0M446.9 160.6h0M448.7 161.6h0M438.3 165.4h0M434.0 145.1h0M425.7 155.1h0M444.6 159.9h0M433.6 153.3h0M431.8 161.0h0M443.8 160.6h0M421.0 166.5h0M432.4 166.9h0M432.1 150.9h0M421.5 169.3h0M425.2 176.5h0M447.3 166.4h0M432.8 158.6h0M449.8 158.8h0M450.7 150.4h0M423.1 140.7h0M442.8 165.8h0M454.6 157.7h0M418.5 151.0h0M436.1 163.9h0M445.5 154.7h0M438.5 135.0h0M466.5 155.5h0M419.1 171.6h0M463.7 169.4h0M444.6 144.8h0M444.0 137.1h0M460.1 148.1h0M453.3 149.5h0M454.5 142.8h0M426.5 159.7h0M444.1 154.4h0M446.3 148.3h0M438.9 148.1h0M409.4 176.3h0M427.0 164.9h0M421.6 158.2h0M434.5 178.6h0M424.6 149.1h0M448.9 153.2h0M432.9 166.5h0M458.3 144.7h0M450.5 160.7h0M443.9 171.7h0M421.5 148.9h0M431.3 145.0h0M464.2 152.5h0M442.7 164.8h0M429.1 142.5h0M435.3 157.1h0M427.3 151.9h0M445.2 148.5h0M429.4 171.3h0M441.4 162.9h0M433.2 160.7h0M465.9 139.3h0M460.4 155.8h0M437.5 157.6h0M463.0 146.9h0M428.3 172.5h0M432.2 172.5h0M433.4 173.1h0M440.9 151.9h0M427.6 157.3h0M462.1 146.3h0M447.1 161.3h0M452.3 145.1h0M457.9 148.4h0M427.5 163.8h0M449.4 151.1h0M437.7 139.4h0M442.8 152.9h0M432.6 175.4h0M458.2 142.7h0M450.3 155.6h0M425.3 153.6h0M449.7 149.9h0M433.8 147.4h0M428.5 182.5h0M445.9 168.2h0M449.8 147.7h0M435.6 157.2h0M450.3 146.3h0M435.9 165.5h0M452.9 153.3h0M461.1 153.0h0M457.8 142.6h0M435.7 158.0h0M424.9 152.8h0M421.2 149.4h0M439.1 166.7h0M414.5 154.1h0M435.4 162.5h0M434.3 155.0h0M440.1 142.9h0M434.8 129.2h0M427.0 165.5h0M436.4 162.7h0M434.7 171.4h0M436.3 160.8h0M421.5 163.9h0M435.2 148.3h0M443.8 158.7h0M425.6 155.9h0M449.4 146.2h0M454.1 156.1h0M434.9 151.8h0M433.8 148.8h0M432.5 148.6h0M427.0 173.3h0M443.5 163.3h0M453.3 150.7h0M434.1 156.4h0M428.2 160.1h0M431.9 165.3h0M437.7 155.6h0M449.2 144.5h0M457.7 129.2h0M463.1 125.3h0M444.9 167.1h0M427.9 157.3h0M435.5 151.5h0M433.2 151.4h0M445.8 170.5h0M466.7 168.4h0M437.4 144.5h0M436.2 154.0h0M441.9 160.1h0M434.6 137.3h0M452.1 155.7h0M455.6 159.3h0M450.7 162.5h0M442.7 174.8h0M443.2 144.2h0M441.7 155.1h0M421.6 160.4h0M453.5 160.8h0M424.1 174.0h0M441.2 162.0h0M463.3 137.6h0M445.7 147.0h0M438.5 168.6h0M437.5 162.2h0M433.7 155.9h0M438.0 165.0h0M455.4 154.1h0M446.8 162.5h0M462.8 155.5h0M456.6 157.7h0M445.5 165.4h0M436.2 164.2h0M442.8 148.9h0M461.0 159.4h0M456.0 136.8h0M429.3 163.2h0M436.8 154.6h0M441.6 179.3h0M466.0 136.4h0M431.4 157.2h0M442.2 151.7h0M442.9 174.9h0M438.6 161.1h0M449.2 166.2h0M447.1 172.5h0M444.1 142.1h0M420.9 165.0h0M432.8 166.7h0M446.7 157.2h0M457.0 152.5h0M444.8 150.8h0M440.4 163.5h0M439.1 149.6h0M452.7 167.4h0M438.7 149.4h0M458.9 159.6h0M441.7 155.0h0M439.1 163.1h0M432.8 170.4h0M453.3 155.4h0M454.9 169.8h0M444.4 149.8h0M415.3 180.6h0M452.9 160.0h0M434.7 162.9h0M441.2 146.0h0M440.0 161.8h0M425.7 168.9h0M436.0 136.0h0M483.1 130.4h0M473.7 157.1h0M440.6 136.7h0M412.5 148.1h0M442.9 158.5h0M428.7 167.7h0M445.4 128.2h0M447.7 148.1h0M448.9 133.7h0M456.9 152.2h0M434.2 141.7h0M451.4 151.2h0M419.7 163.8h0M409.7 150.9h0M439.5 162.3h0M402.2 140.5h0M469.1 159.7h0M422.2 158.6h0M451.8 133.1h0M444.4 129.9h0M446.6 137.6h0M428.6 129.5h0M459.7 118.5h0M420.6 148.3h0M415.1 152.7h0M434.8 143.5h0M403.7 165.2h0M462.4 137.3h0M446.9 163.5h0M421.2 141.5h0M433.4 136.7h0M451.6 145.4h0M426.1 125.6h0M440.8 124.6h0M430.3 146.6h0M434.7 140.8h0M453.3 160.5h0M444.3 140.0h0M444.5 157.5h0M450.2 160.4h0M437.8 151.5h0M428.3 158.3h0M448.6 152.1h0M434.3 167.4h0M421.8 176.6h0M433.0 151.0h0M446.6 183.8h0M452.8 156.5h0M454.6 153.5h0M420.4 128.0h0M390.4 163.7h0M412.3 150.7h0M420.3 159.3h0M434.3 143.2h0M391.2 136.3h0M447.5 162.3h0M444.3 148.8h0M437.8 155.4h0M414.1 125.1h0M432.7 161.5h0M445.4 120.4h0M448.5 156.8h0M422.2 142.3h0M445.5 145.8h0M456.9 137.2h0M443.7 155.2h0M458.0 155.1h0M403.5 141.0h0M458.5 170.6h0M395.8 167.1h0M431.0 156.5h0M429.2 142.0h0M420.3 169.7h0M415.8 149.9h0M418.8 148.9h0M425.3 148.2h0M460.5 159.6h0M442.4 153.1h0M417.2 148.7h0M407.8 182.0h0M424.0 164.9h0M455.6 138.9h0M427.5 158.6h0M439.2 146.5h0M433.3 136.9h0M434.6 137.9h0M443.4 170.8h0M412.4 135.3h0M428.6 175.3h0M458.7 164.5h0M463.8 150.9h0M446.2 155.1h0M405.8 185.5h0M410.0 118.1h0M438.6 176.3h0M461.9 159.1h0M382.4 137.7h0M455.9 154.0h0M462.4 142.4h0M430.2 168.1h0M445.0 149.0h0M434.9 166.1h0M411.4 136.9h0M401.1 134.5h0M431.5 145.3h0M399.6 138.2h0M445.5 149.6h0M449.8 139.4h0M426.1 125.4h0M394.8 165.6h0M410.2 143.8h0M432.2 175.1h0M419.7 152.2h0M454.9 125.1h0M446.4 156.0h0M438.4 181.4h0M427.7 168.9h0M452.9 153.4h0M422.8 144.1h0M428.6 141.6h0M460.5 134.1h0M423.2 178.2h0M413.4 174.1h0M447.8 157.8h0M436.9 129.0h0M422.7 134.4h0M437.7 164.9h0M423.4 169.5h0M437.6 160.1h0M438.8 140.4h0M463.1 137.0h0M409.2 140.1h0M444.4 152.9h0M417.5 155.2h0M418.8 161.0h0M433.5 126.5h0M500.6 124.7h0M456.2 158.6h0M452.7 170.7h0M436.8 142.2h0M420.1 174.6h0M449.4 168.0h0M407.4 168.7h0M427.8 170.8h0M418.4 146.8h0M418.8 158.5h0M451.0 155.1h0M433.0 146.8h0M450.5 146.8h0M417.5 179.5h0M438.7 145.7h0M449.2 151.6h0M419.9 136.5h0M438.2 148.3h0M449.4 154.2h0M437.5 141.8h0M412.0 185.0h0M425.8 164.9h0M459.0 171.6h0M430.6 152.4h0M442.0 164.5h0M452.2 142.7h0M430.4 155.5h0M465.5 135.1h0M430.0 138.6h0M437.6 151.8h0M456.9 159.0h0M428.5 157.2h0M444.5 162.5h0M441.0 134.6h0M451.7 151.6h0M409.7 160.6h0M445.5 152.7h0M460.4 181.2h0M453.4 174.5h0M457.1 192.4h0M462.6 192.3h0M456.4 169.7h0M449.7 179.6h0M435.1 174.5h0M455.6 196.7h0M458.8 181.2h0M459.2 184.0h0M451.9 189.9h0M452.0 185.2h0M451.4 189.4h0M454.9 171.6h0M448.6 179.0h0M452.5 185.7h0M459.1 180.7h0M450.7 184.0h0M447.9 190.6h0M453.5 181.1h0M460.8 197.1h0M454.8 177.7h0M456.6 188.2h0M452.8 190.8h0M445.9 195.5h0M454.9 199.6h0M446.2 184.5h0M445.5 192.8h0M449.4 156.0h0M449.4 181.7h0M448.6 175.0h0M458.8 176.5h0M456.3 191.9h0M461.4 170.5h0M452.5 189.7h0M463.0 171.5h0M450.6 180.3h0M449.7 184.9h0M456.1 185.7h0M444.2 169.4h0M457.3 172.6h0M456.5 189.7h0M453.3 176.6h0M448.6 190.2h0M446.3 204.8h0M445.0 200.5h0M452.2 180.8h0M454.7 190.7h0M461.6 198.5h0M462.4 185.7h0M442.3 180.0h0M444.2 178.1h0M457.2 172.4h0M453.4 189.4h0M448.7 180.5h0M459.0 184.2h0M467.9 188.2h0M453.1 177.6h0M446.0 188.8h0M447.1 187.3h0M452.9 207.1h0M451.3 201.8h0M450.5 193.4h0M464.0 199.1h0M459.1 192.6h0M448.5 191.3h0M458.0 177.1h0M455.7 190.4h0M450.7 183.3h0M458.2 195.0h0M452.7 173.0h0M458.4 181.8h0M450.9 181.0h0M452.4 183.1h0M457.3 172.6h0M451.1 190.6h0M452.2 192.1h0M449.9 185.0h0M455.1 171.0h0M453.2 187.6h0M455.2 190.9h0M456.9 182.2h0M451.0 193.6h0M452.7 182.3h0M452.5 203.5h0M461.4 179.8h0M458.5 174.3h0M460.6 195.0h0M446.0 177.3h0M461.3 179.9h0M453.8 176.7h0M451.7 210.1h0M457.3 178.9h0M453.3 184.3h0M452.8 188.3h0M455.2 196.3h0M449.8 187.1h0M445.4 184.7h0M457.2 187.2h0M455.6 177.4h0M460.3 185.7h0M449.0 190.3h0M442.4 181.6h0M450.3 177.8h0M448.1 180.4h0M452.8 174.7h0M453.0 185.3h0M453.0 185.7h0M448.6 183.9h0M451.7 172.2h0M445.9 186.9h0M457.4 182.2h0M453.2 173.2h0M446.8 186.1h0M459.1 187.8h0M452.8 157.5h0M463.1 171.9h0M444.6 192.1h0M449.7 174.1h0M449.1 172.6h0M450.1 189.7h0M455.2 189.5h0M451.4 188.1h0M454.7 172.3h0M458.4 172.4h0M461.9 198.8h0M457.5 175.2h0M460.1 189.2h0M447.5 180.7h0M450.5 181.1h0M452.8 167.4h0M457.6 190.9h0M452.2 185.2h0M456.2 174.4h0M455.6 195.5h0M453.7 185.1h0M457.7 191.5h0M448.3 178.4h0M450.9 181.7h0M450.4 187.1h0M446.0 173.5h0M457.8 205.9h0M448.1 189.8h0M465.5 180.5h0M456.9 209.1h0M448.6 180.1h0M469.0 166.2h0M467.6 142.8h0M448.9 118.8h0M460.4 158.9h0M453.7 158.2h0M501.5 173.5h0M446.9 133.1h0M405.9 173.8h0M464.8 171.3h0M412.8 131.4h0M444.0 155.3h0M442.8 164.4h0M424.2 157.2h0M439.3 149.7h0M458.7 153.0h0M484.0 163.7h0M442.6 175.1h0M472.5 199.6h0M488.0 117.9h0M457.4 132.0h0M494.9 176.5h0M461.1 130.5h0M473.0 139.0h0M431.9 122.4h0M481.4 167.8h0M468.5 218.4h0M456.5 146.5h0M440.6 135.8h0M499.7 177.8h0M504.3 150.8h0" stroke="#c0c0c0" stroke-width="1.5" stroke-linecap="round" fill="none"/>
<path d="M421.5 188.6h0M432.5 184.1h0M426.3 200.0h0M440.0 183.4h0M427.5 197.4h0M424.1 201.5h0M428.8 190.4h0M422.8 207.5h0M427.9 207.4h0M433.2 200.0h0M428.6 185.7h0M442.2 182.9h0M435.9 196.0h0M443.2 197.7h0M422.8 183.6h0M444.4 182.9h0M433.9 187.1h0M431.3 196.2h0M428.7 204.9h0M438.3 204.5h0M428.8 192.7h0M429.9 204.8h0M429.6 184.1h0M441.2 188.5h0M438.9 189.9h0M432.3 184.6h0M439.1 176.9h0M433.7 201.6h0M426.7 203.0h0M420.3 200.5h0M435.5 199.8h0M426.6 183.4h0M430.9 185.5h0M429.9 187.8h0M438.8 206.6h0M447.6 202.1h0M436.1 187.8h0M421.4 197.5h0M442.6 183.0h0M437.1 198.4h0M425.1 176.4h0M418.9 181.7h0M425.1 194.9h0M446.3 179.1h0M444.9 202.7h0M447.0 196.8h0M430.2 178.2h0M436.9 202.7h0M429.9 182.6h0M439.0 195.1h0M423.3 191.2h0M422.4 185.4h0M423.6 196.2h0M436.7 177.7h0M439.2 194.2h0M448.6 191.4h0M423.6 178.1h0M440.7 193.4h0M441.9 202.6h0M429.3 183.8h0M430.5 182.9h0M431.1 199.7h0M446.2 186.0h0M426.4 181.4h0M429.5 176.4h0M440.0 196.6h0M429.5 206.2h0M435.1 181.6h0M431.3 183.2h0M448.2 192.0h0M444.4 186.8h0M433.2 190.7h0M422.0 201.1h0M432.8 209.0h0M440.2 174.3h0M440.3 203.5h0M422.5 183.2h0M430.6 193.5h0M435.9 205.3h0M439.2 201.3h0M436.0 201.8h0M431.3 208.8h0M426.4 204.5h0M432.0 183.2h0M427.0 199.6h0M436.4 179.6h0M429.8 194.7h0M425.5 184.9h0M421.6 184.8h0M448.4 181.9h0M431.2 200.8h0M428.8 188.6h0M425.5 197.8h0M438.8 198.3h0M440.9 179.5h0M432.0 176.5h0M433.3 182.8h0M436.1 186.7h0M436.6 192.9h0M428.0 174.9h0M432.3 188.4h0M430.2 191.4h0M437.9 199.7h0M428.9 180.6h0M425.8 179.9h0M442.8 187.9h0M441.3 197.7h0M443.5 196.6h0M432.4 175.6h0M435.1 175.5h0M448.4 192.2h0M429.9 188.9h0M435.7 190.6h0M440.3 207.2h0M445.5 181.0h0M422.3 191.1h0M446.6 198.9h0M439.1 198.5h0M435.1 197.6h0M442.6 177.8h0M442.1 183.6h0M428.0 207.3h0M432.8 178.8h0M423.9 204.5h0M437.6 193.2h0M440.7 190.7h0M438.3 204.7h0M425.2 188.4h0M429.2 171.0h0M447.9 175.6h0M448.9 195.8h0M430.8 187.4h0M421.9 191.0h0M441.3 200.4h0M428.1 195.6h0M432.0 186.5h0M428.8 187.8h0M434.2 182.7h0M425.2 187.9h0M435.0 173.8h0M445.1 178.7h0M432.6 201.0h0M435.3 205.5h0M433.8 194.1h0M441.2 199.1h0M435.5 203.4h0M432.2 192.9h0M438.3 176.5h0M436.0 206.6h0M444.6 200.9h0M426.8 188.1h0M433.9 196.8h0M434.6 172.2h0M430.2 192.7h0M440.2 206.8h0M431.7 205.2h0M436.7 173.1h0M433.2 194.9h0M431.6 184.5h0M441.4 184.0h0M435.6 172.7h0M442.5 190.4h0M431.0 190.5h0M425.6 177.3h0M442.9 208.0h0M432.7 193.4h0M453.3 189.7h0M445.2 184.1h0M430.8 183.4h0M421.9 199.9h0M441.9 176.6h0M445.8 193.8h0M422.4 188.6h0M445.3 199.6h0M435.6 201.1h0M432.3 189.0h0M445.0 190.6h0M445.3 193.2h0M452.4 180.9h0M423.4 195.7h0M434.4 200.8h0M423.6 190.8h0M444.2 201.5h0M443.5 191.3h0M420.2 194.7h0M424.9 188.0h0M436.0 181.4h0M436.1 205.9h0M424.0 194.2h0M437.5 199.6h0M442.6 184.4h0M444.0 186.4h0M434.0 210.3h0M438.7 178.6h0M434.8 194.0h0M434.0 185.3h0M430.7 196.9h0M429.3 208.4h0M445.8 198.9h0M427.8 203.7h0M437.5 183.1h0M445.3 200.5h0M428.2 187.5h0M420.9 193.9h0M425.2 182.2h0M443.1 201.7h0M427.9 198.4h0M433.1 188.8h0M448.3 188.2h0M433.0 199.3h0M438.0 200.3h0M435.2 182.4h0M429.6 183.9h0M436.6 199.0h0M430.4 177.7h0M447.5 181.7h0M436.0 211.0h0M442.5 191.1h0M424.8 188.9h0M422.8 185.7h0M436.0 176.9h0M440.7 186.3h0M424.9 189.7h0M438.5 184.2h0M426.5 179.5h0M427.6 185.5h0M435.9 190.6h0M438.4 184.9h0M429.4 197.9h0M422.0 180.7h0M432.6 186.7h0M431.9 180.5h0M428.5 171.5h0M426.1 187.6h0M430.3 181.9h0M435.5 187.2h0M439.6 178.2h0M434.0 191.8h0M442.5 199.7h0M429.5 170.2h0M444.2 199.5h0M418.0 189.7h0M444.0 196.8h0M424.0 198.6h0M427.5 179.4h0M442.5 184.5h0M423.9 204.4h0M439.9 190.4h0M434.9 183.3h0M441.0 201.3h0M441.6 181.3h0M421.8 205.6h0M448.7 189.9h0M447.6 181.6h0M437.1 176.8h0M431.5 197.1h0M418.2 197.6h0M435.5 179.9h0M442.3 203.3h0M430.9 213.6h0M420.3 197.0h0M434.2 209.2h0M432.4 202.7h0M451.0 192.9h0M432.4 199.2h0M437.6 199.3h0M423.8 199.4h0M438.4 192.3h0M433.4 211.5h0M427.2 191.3h0M446.1 194.6h0M442.6 175.2h0M440.4 194.6h0M420.1 199.1h0M439.6 179.2h0M434.1 173.5h0M443.2 178.4h0M418.1 186.5h0M434.3 175.0h0M439.5 190.4h0M445.8 188.1h0M436.1 198.8h0M431.2 198.3h0M428.6 181.9h0M421.7 189.5h0M423.2 198.4h0M423.1 192.6h0M439.0 205.1h0M435.5 175.1h0M433.2 186.5h0M447.2 193.6h0M417.6 191.0h0M429.4 183.3h0M429.5 200.3h0M448.5 192.8h0M450.0 201.1h0M427.2 188.1h0M433.7 210.5h0M442.4 191.1h0M424.5 192.7h0M434.0 177.5h0M444.1 192.8h0M436.9 193.0h0M438.3 204.9h0M431.9 188.6h0M433.3 175.9h0M432.2 209.4h0M437.4 177.3h0M432.7 205.9h0M435.9 192.8h0M445.7 185.5h0M428.8 180.0h0M441.4 200.5h0M422.9 179.1h0M434.3 202.6h0M448.0 177.7h0M434.9 199.4h0M430.3 197.3h0M442.7 191.0h0M432.3 196.9h0M437.1 182.4h0M443.5 175.9h0M431.8 214.9h0M437.9 201.4h0M443.0 200.9h0M443.9 181.1h0M438.4 186.7h0M429.4 192.6h0M431.9 181.4h0M429.8 190.4h0M445.7 199.8h0M424.2 184.9h0M429.2 211.4h0M435.6 185.5h0M418.2 193.5h0M423.7 191.2h0M430.3 205.6h0M447.1 177.8h0M428.4 197.4h0M443.5 194.0h0M430.6 209.4h0M448.4 188.3h0M428.6 187.8h0M427.8 186.8h0M443.8 208.9h0M433.6 191.1h0M451.5 191.6h0M420.5 189.4h0M431.1 172.7h0M418.2 188.7h0M418.5 187.4h0M423.6 196.7h0M450.0 197.5h0M443.0 194.5h0M435.4 207.4h0M423.4 197.9h0M428.6 173.8h0M427.7 187.2h0M448.7 184.5h0M441.3 184.3h0M420.1 195.1h0M428.1 177.7h0M438.1 207.6h0M448.7 193.0h0M437.7 170.2h0M433.5 187.6h0M431.9 196.6h0M437.7 206.9h0M431.4 171.6h0M439.0 200.9h0M439.0 195.9h0M433.8 210.6h0M436.8 175.5h0M437.1 199.5h0M418.6 198.7h0M433.8 180.6h0M418.5 190.3h0M430.4 209.4h0M440.2 192.3h0M422.8 195.0h0M437.2 198.4h0M438.3 174.7h0M435.5 194.9h0M439.2 204.9h0M423.1 189.0h0M435.5 192.4h0M431.8 200.4h0M444.2 207.9h0M429.6 208.7h0M418.3 181.7h0M432.2 205.0h0M433.9 189.2h0M445.4 198.3h0M422.0 180.6h0M427.0 188.2h0M435.5 211.2h0M448.7 186.9h0M419.5 189.7h0M449.6 194.1h0M433.2 185.6h0M434.5 179.6h0M444.0 206.9h0M435.8 185.2h0M444.7 208.0h0M438.1 208.7h0M429.7 180.7h0M447.8 197.4h0M441.4 200.8h0M424.1 200.7h0M449.2 184.1h0M424.8 183.8h0M446.2 175.0h0M447.9 187.3h0M442.4 206.3h0M437.9 210.3h0M422.6 190.1h0M434.2 187.3h0M432.6 203.0h0M434.1 211.3h0M439.6 197.4h0M440.7 199.8h0M442.0 188.8h0M445.0 197.9h0M426.0 175.8h0M422.2 197.1h0M428.4 180.7h0M429.1 178.0h0M438.3 179.0h0M448.3 199.0h0M419.2 183.0h0M437.5 188.1h0M438.6 208.2h0M442.0 187.8h0M420.9 188.5h0M437.9 188.8h0M432.3 185.3h0M418.7 193.8h0M431.4 199.6h0M445.5 184.0h0M447.5 186.1h0M437.2 190.8h0M428.9 194.2h0M429.5 198.0h0M442.7 199.9h0M442.6 203.7h0M433.8 203.8h0M418.9 188.4h0M443.9 201.1h0M428.5 207.2h0M431.0 171.7h0M442.9 191.0h0M434.3 208.2h0M444.2 178.5h0M437.2 190.7h0M423.3 191.7h0M428.2 200.7h0M434.3 186.4h0M434.2 204.4h0M419.3 195.7h0M440.1 182.0h0M450.4 192.7h0M446.2 188.9h0M430.5 178.2h0M430.0 203.5h0M433.7 208.5h0M439.5 170.1h0M419.1 189.1h0M438.8 195.0h0M434.1 181.4h0M428.2 202.1h0M434.0 186.5h0M434.9 184.1h0M428.0 182.4h0M430.0 181.8h0M449.0 195.7h0M437.4 193.0h0M437.9 179.1h0M444.1 176.6h0M426.9 187.6h0M439.2 175.3h0M427.3 186.0h0M424.3 198.6h0M437.9 203.5h0M430.9 204.3h0M431.7 174.8h0M446.3 196.6h0M442.3 179.0h0M432.1 202.4h0M444.3 177.5h0M420.1 197.9h0M426.7 199.6h0M442.4 204.9h0M441.5 191.1h0M431.9 185.6h0M443.1 191.9h0M427.2 192.5h0M444.3 176.3h0M435.3 179.7h0M430.2 200.6h0M426.8 179.4h0M433.1 174.7h0M444.9 182.7h0M436.1 193.1h0M424.2 185.8h0M417.5 184.0h0M437.3 206.1h0M438.0 207.4h0M428.5 183.9h0M428.6 201.3h0M435.7 184.1h0M418.5 186.7h0M446.1 205.7h0M426.1 202.2h0M427.0 179.4h0M426.1 187.7h0M424.4 201.7h0M433.8 178.0h0M448.2 205.1h0M443.1 172.6h0M428.7 193.6h0M436.8 204.0h0M445.4 201.2h0M424.7 181.9h0M424.3 188.5h0M428.2 186.4h0M431.7 173.5h0M421.8 197.3h0M437.0 201.5h0M428.5 179.6h0M423.8 180.4h0M424.9 204.1h0M428.7 181.2h0M431.6 207.1h0M430.4 189.9h0M434.0 174.4h0M420.8 188.8h0M446.7 185.2h0M431.6 191.5h0M434.5 209.3h0M450.9 197.2h0M449.4 182.8h0M439.1 202.7h0M446.4 180.7h0M436.0 203.1h0M436.3 177.9h0M452.1 199.5h0M439.3 210.2h0M440.6 190.9h0M416.8 186.5h0M440.2 172.8h0M438.1 207.5h0M423.7 196.8h0M424.8 189.0h0M446.4 196.9h0M434.5 189.4h0M440.3 189.7h0M444.9 194.8h0M441.2 179.7h0M424.4 191.0h0M434.9 181.2h0M437.6 188.2h0M437.5 203.9h0M449.8 185.2h0M425.3 196.8h0M453.5 193.6h0M432.6 180.1h0M427.1 189.5h0M447.6 184.7h0M427.3 206.0h0M422.9 184.1h0M421.3 201.7h0M423.7 201.5h0M438.1 179.6h0M430.1 187.4h0M432.0 191.2h0M432.3 197.4h0M438.4 202.3h0M442.5 182.3h0M427.1 185.7h0M432.4 194.7h0M447.8 203.3h0M444.2 201.4h0M443.3 198.6h0M442.7 207.2h0M430.2 198.9h0M442.2 195.0h0M435.6 176.7h0M440.7 188.8h0M423.2 189.9h0M446.1 207.9h0M447.1 197.7h0M427.4 193.3h0M419.9 192.0h0M451.3 192.6h0M429.3 190.8h0M429.4 210.6h0M423.4 198.1h0M442.5 184.7h0M432.8 190.8h0M448.5 186.1h0M450.5 187.9h0M434.2 186.3h0M428.3 204.3h0M431.1 177.7h0M419.9 198.5h0M426.0 201.4h0M443.0 201.6h0M430.6 210.1h0M431.9 193.3h0M434.9 210.0h0M425.8 186.5h0M421.1 181.3h0M430.4 201.9h0M438.8 195.6h0M442.1 186.5h0M451.2 179.1h0M433.0 170.6h0M434.1 190.5h0M441.5 200.1h0M440.5 192.1h0M451.2 211.9h0M447.1 195.8h0M437.6 225.5h0M448.8 177.2h0M433.5 183.0h0M422.6 203.3h0M446.3 191.6h0M418.4 185.8h0M418.9 187.3h0M426.4 185.7h0M446.5 189.2h0M416.5 210.2h0M434.0 210.0h0M422.2 184.2h0M426.7 194.3h0M422.6 214.4h0M421.4 200.0h0M430.4 181.6h0M432.6 197.9h0M427.3 204.2h0M438.3 198.7h0M441.8 192.7h0M417.0 181.6h0M433.5 176.0h0M425.2 191.5h0M420.6 180.5h0M433.9 197.9h0M433.7 180.6h0M423.5 203.8h0M434.3 198.4h0M433.7 205.9h0M420.7 194.2h0M437.4 204.0h0M442.9 172.2h0M435.9 184.1h0M438.6 192.1h0M437.3 185.8h0M421.9 183.9h0M433.0 198.3h0M420.5 191.7h0M439.9 204.9h0M427.9 181.8h0M438.5 192.7h0M430.2 200.7h0M437.2 200.0h0M430.8 202.7h0M429.4 185.4h0M432.9 193.1h0M439.6 195.9h0M444.5 186.4h0M425.8 195.6h0M441.4 175.5h0M418.5 187.6h0M446.1 172.0h0M437.7 195.6h0M434.7 196.5h0M435.6 197.7h0M419.7 210.7h0M423.6 171.1h0M438.7 209.1h0M423.6 201.0h0M427.7 192.0h0M436.5 207.2h0M451.1 191.5h0M423.0 187.6h0M432.5 187.0h0M427.7 202.4h0M427.0 181.1h0M439.6 194.9h0M441.3 199.8h0M434.6 206.9h0M418.7 188.0h0M448.1 203.9h0M445.1 186.7h0M436.7 197.0h0M444.4 193.3h0M453.8 201.4h0M428.1 195.0h0M451.1 199.1h0M449.3 217.2h0M431.9 192.8h0M435.9 200.1h0M432.1 194.2h0M437.7 183.4h0M435.6 182.3h0M426.4 195.2h0M434.7 178.5h0M450.7 197.0h0M433.0 198.3h0M435.9 188.9h0M429.8 186.3h0M434.8 183.7h0M444.2 178.1h0M447.7 178.9h0M445.1 203.4h0M431.5 204.2h0M430.6 205.0h0M444.9 212.3h0M432.8 180.1h0M447.2 199.0h0M450.1 208.4h0M437.3 203.6h0M431.1 210.9h0M422.0 190.5h0M441.3 199.3h0M427.6 197.4h0M436.2 193.1h0M441.0 206.0h0M456.3 190.0h0M432.2 209.3h0M421.2 195.7h0M438.0 185.8h0M428.8 183.1h0M437.1 195.5h0M449.9 190.9h0M441.2 194.1h0M439.7 196.8h0M438.7 201.0h0M439.7 183.6h0M444.2 192.8h0M437.0 186.3h0M445.4 205.9h0M441.0 205.2h0M437.9 201.8h0M435.4 173.0h0M425.1 194.5h0M438.8 183.1h0M436.2 210.4h0M435.7 214.1h0M439.8 189.2h0M437.5 186.8h0M445.5 183.8h0M428.1 183.4h0M435.1 199.5h0M417.9 172.7h0M436.7 178.1h0M431.3 190.0h0M446.8 185.6h0M433.8 192.0h0M435.7 199.6h0M430.3 188.8h0M438.1 197.9h0M441.7 183.4h0M451.9 194.7h0M454.7 200.7h0M436.9 185.4h0M452.1 202.6h0M433.6 202.0h0M441.2 179.2h0M416.8 194.7h0M427.4 210.2h0M445.5 188.6h0M429.9 178.0h0M435.8 189.0h0M426.4 191.4h0M450.8 190.9h0M429.7 188.1h0M424.8 203.6h0M448.0 199.5h0M427.0 192.8h0M422.3 193.0h0M435.9 205.8h0M433.8 186.1h0M432.0 201.9h0M437.5 208.7h0M431.9 208.2h0M433.6 218.1h0M430.6 217.6h0M442.4 201.9h0M431.8 194.7h0M435.4 204.7h0M434.1 215.3h0M438.2 221.9h0M428.3 211.9h0M441.2 217.3h0M436.1 214.3h0M438.9 222.4h0M433.4 215.4h0M432.1 215.7h0M440.9 210.1h0M435.2 216.4h0M438.8 227.2h0M441.3 219.9h0M433.2 221.8h0M437.7 201.3h0M436.7 225.2h0M438.2 221.5h0M431.5 203.2h0M430.5 221.5h0M434.2 210.8h0M436.3 193.4h0M432.4 209.1h0M431.5 226.2h0M440.4 223.0h0M439.7 210.4h0M433.9 216.2h0M431.3 202.9h0M427.2 218.9h0M432.3 210.0h0M436.2 219.8h0M438.7 217.2h0M445.9 215.1h0M436.7 221.6h0M437.6 203.9h0M436.2 205.3h0M432.4 203.9h0M437.5 216.9h0M432.6 199.9h0M434.3 199.7h0M437.1 202.6h0M437.3 211.0h0M435.6 205.5h0M429.7 224.5h0M427.9 220.2h0M436.1 222.8h0M440.0 212.5h0M431.1 211.1h0M434.8 207.2h0M437.0 225.2h0M438.6 216.2h0M437.4 222.9h0M433.0 214.0h0M434.2 202.3h0M433.1 225.7h0M431.8 227.5h0M439.7 218.3h0M435.7 194.4h0M429.2 226.5h0M438.6 223.5h0M428.7 211.8h0M438.1 227.6h0M431.8 225.8h0M431.0 217.8h0M434.7 203.1h0M437.2 221.6h0M433.7 209.5h0M435.0 216.8h0M434.5 217.9h0M437.6 202.6h0M445.7 198.2h0M437.4 180.7h0M431.9 192.6h0M430.6 218.8h0M432.5 204.4h0M432.4 203.8h0M438.4 206.9h0M427.8 213.5h0M436.4 214.4h0M437.1 207.5h0M439.2 225.1h0M431.3 215.1h0M432.8 187.8h0M436.8 205.1h0M438.2 209.0h0M435.7 197.4h0M438.5 207.5h0M440.0 204.7h0M442.2 209.5h0M439.0 206.1h0M435.7 213.3h0M438.0 206.7h0M439.4 215.1h0M435.9 197.9h0M430.8 220.4h0M437.1 209.4h0M434.0 219.0h0M435.1 212.1h0M437.5 216.9h0M441.9 199.7h0M437.1 211.4h0M441.8 229.3h0M438.5 222.9h0M429.6 193.9h0M440.2 211.0h0M433.5 223.9h0M435.6 213.8h0M434.9 216.2h0M434.1 198.6h0M437.6 202.2h0M442.5 204.1h0M434.4 205.1h0M436.6 213.0h0M438.8 209.2h0M437.2 195.5h0M438.4 213.0h0M432.0 210.7h0M435.6 207.8h0M441.6 192.8h0M437.4 207.0h0M438.3 219.3h0M439.6 211.9h0M431.6 210.5h0M431.8 221.4h0M434.3 206.8h0M433.2 206.1h0M433.0 212.1h0M436.1 218.1h0M439.8 224.5h0M433.1 207.2h0M436.0 212.9h0M437.8 223.0h0M431.0 211.1h0M430.6 224.5h0M433.6 210.0h0M432.1 199.3h0M430.5 214.8h0M435.7 204.5h0M434.6 209.9h0M426.9 215.6h0M436.0 210.9h0M432.4 196.9h0M439.3 206.9h0M441.0 229.5h0M434.3 203.6h0M430.2 215.6h0M439.9 210.1h0M435.0 209.4h0M439.7 203.1h0M428.2 207.5h0M435.0 212.3h0M434.6 211.3h0M436.8 207.1h0M438.5 224.6h0M438.6 210.3h0M431.4 202.7h0M439.4 214.7h0M428.0 213.2h0M442.1 197.3h0M433.4 194.8h0M434.3 214.1h0M434.3 212.5h0M442.2 218.4h0M438.4 203.6h0M431.5 224.1h0M433.7 215.9h0M436.5 212.8h0M435.1 205.4h0M432.8 207.0h0M432.3 203.6h0M439.4 216.7h0M437.3 189.8h0M429.6 212.4h0M435.3 209.0h0M435.4 203.3h0M435.3 212.0h0M437.6 230.4h0M438.6 189.7h0M441.4 217.3h0M440.4 196.6h0M432.1 207.6h0M435.9 217.7h0M438.5 214.6h0M429.9 208.4h0M431.5 203.5h0M434.8 224.0h0M431.0 220.3h0M442.6 216.6h0M432.6 213.9h0M434.2 225.4h0M433.1 217.1h0M431.9 208.6h0M432.2 221.8h0M439.7 207.5h0M433.3 190.7h0M432.3 211.4h0M433.6 224.5h0M430.7 210.2h0M437.0 211.1h0M435.8 207.2h0M432.3 220.9h0M437.0 212.2h0M441.9 207.9h0M433.1 211.2h0M436.3 220.0h0M434.7 212.6h0M431.5 217.3h0M433.7 211.3h0M429.4 229.0h0M432.3 227.0h0M433.6 212.2h0M437.7 216.2h0M434.2 208.4h0M454.9 184.5h0M456.2 193.1h0M445.6 184.5h0M461.6 188.5h0M441.4 182.4h0M434.2 190.4h0M445.8 184.7h0M461.0 181.2h0M441.8 187.1h0M446.3 180.7h0M451.0 190.2h0M433.3 190.6h0M450.6 185.8h0M428.2 181.2h0M450.2 179.9h0M454.2 193.6h0M435.1 210.4h0M460.5 178.1h0M458.0 179.3h0M444.5 185.4h0M455.5 176.2h0M442.1 197.4h0M440.3 175.1h0M449.3 193.1h0M447.4 183.4h0M446.7 180.6h0M460.7 178.8h0M461.8 178.3h0M459.7 183.5h0M453.5 202.5h0M453.0 171.1h0M461.8 171.5h0M449.4 195.0h0M444.7 207.2h0M446.9 190.1h0M435.9 189.5h0M444.6 178.6h0M452.6 179.3h0" stroke="#3d82c8" stroke-width="1.5" stroke-linecap="round" fill="none"/>
<path d="M419.4 174.2h0M413.1 168.4h0M421.4 170.1h0M426.2 168.0h0M412.9 181.3h0M425.8 162.1h0M425.8 172.0h0M420.7 168.6h0M421.9 175.3h0M411.9 171.5h0M409.2 176.7h0M427.1 160.8h0M412.7 179.0h0M424.7 174.0h0M420.3 183.2h0M412.2 172.5h0M419.2 178.5h0M426.3 168.2h0M421.5 170.8h0M424.0 173.1h0M424.9 166.4h0M417.8 178.1h0M425.9 172.2h0M424.5 164.2h0M423.9 171.7h0M414.4 183.7h0M427.7 179.5h0M420.7 175.9h0M419.0 164.9h0M427.8 168.2h0M410.0 171.9h0M424.6 171.6h0M421.4 174.7h0M414.6 161.1h0M419.1 161.4h0M423.1 172.5h0M415.7 176.5h0M423.0 175.7h0M423.4 170.7h0M413.4 170.2h0M420.0 166.1h0M422.7 164.8h0M412.0 180.3h0M425.5 167.6h0M422.5 165.5h0M419.2 178.6h0M415.0 170.1h0M414.9 161.3h0M415.7 181.0h0M423.3 168.5h0M408.8 172.4h0M426.3 167.5h0M417.8 178.6h0M421.1 173.2h0M426.3 174.9h0M413.9 165.6h0M424.8 167.5h0M419.6 161.7h0M424.7 178.0h0M415.5 177.9h0M416.2 176.5h0M411.7 182.6h0M417.4 183.0h0M428.5 173.5h0M411.6 180.6h0M426.5 169.7h0M426.2 169.4h0M424.4 161.3h0M416.8 169.3h0M426.9 174.2h0M425.5 165.4h0M420.3 180.6h0M416.3 167.0h0M423.0 172.9h0M414.1 170.1h0M423.5 171.6h0M410.4 162.6h0M414.1 167.4h0M412.6 160.6h0M425.7 166.3h0M416.0 181.7h0M427.1 171.9h0M417.2 177.3h0M424.5 180.7h0M426.2 170.8h0M418.4 171.6h0M419.4 169.0h0M422.7 177.9h0M422.2 170.5h0M424.2 164.6h0M423.3 174.4h0M425.6 159.3h0M416.8 167.8h0M423.2 172.4h0M420.3 171.6h0M419.6 162.3h0M427.7 173.8h0M413.1 169.2h0M421.3 175.3h0M416.4 174.5h0M411.7 170.8h0M413.4 156.6h0M423.1 161.9h0M415.3 172.7h0M408.7 180.0h0M421.1 175.3h0M410.1 173.4h0M427.2 172.5h0M421.3 170.9h0M414.4 160.1h0M424.6 165.2h0M411.1 170.3h0M414.6 184.4h0M412.9 177.7h0M426.3 172.0h0M418.2 161.1h0M419.9 171.0h0M411.8 166.8h0M420.2 164.1h0M417.6 172.9h0M412.5 169.6h0M417.9 169.2h0M426.6 173.6h0M410.8 178.4h0M419.3 172.5h0M421.8 182.7h0M418.7 172.5h0M414.7 168.8h0M418.2 171.1h0M418.9 167.9h0M412.6 170.6h0M416.6 172.4h0M421.6 170.9h0M426.2 173.0h0M409.5 179.1h0M424.2 179.5h0M417.5 175.8h0M412.9 167.6h0M420.6 156.7h0M413.5 170.9h0M424.8 167.1h0M422.4 175.0h0M424.6 161.5h0M411.4 177.7h0M423.9 170.0h0M425.7 172.4h0M421.7 160.8h0M410.4 172.8h0M419.8 173.2h0M413.3 165.7h0M410.0 162.7h0M419.4 163.8h0M422.6 169.8h0M410.7 169.9h0M422.8 169.2h0M428.1 160.9h0M423.3 157.6h0M415.5 173.8h0M417.0 178.2h0M415.8 173.1h0M427.6 173.1h0M409.7 170.5h0M421.7 168.0h0M419.9 165.4h0M419.4 167.2h0M412.5 179.0h0M418.6 182.0h0M412.9 170.2h0M422.2 161.4h0M416.6 170.5h0M413.5 166.7h0M423.1 165.2h0M417.5 172.7h0M412.4 171.5h0M427.3 163.1h0M418.6 164.8h0M413.4 166.7h0M425.9 165.7h0M420.2 163.5h0M419.7 168.1h0M423.8 166.4h0M410.7 175.3h0M422.8 177.4h0M415.2 165.8h0M421.3 164.2h0M423.9 170.9h0M413.9 173.2h0M416.3 181.8h0M422.9 160.6h0M407.9 172.4h0M427.2 161.0h0M419.4 161.8h0M419.7 164.0h0M418.9 176.9h0M413.0 164.5h0M425.4 177.0h0M415.2 173.3h0M414.8 168.6h0M427.8 166.0h0M413.6 180.6h0M418.3 165.3h0M415.3 181.2h0M425.8 169.9h0M422.5 172.7h0M420.6 173.8h0M423.0 160.3h0M427.8 165.3h0M419.4 164.4h0M414.6 174.2h0M421.4 165.2h0M416.1 162.4h0M414.1 183.7h0M427.7 167.7h0M428.7 169.6h0M398.5 174.5h0M399.4 167.1h0M411.1 180.9h0M396.9 177.3h0M413.4 165.0h0M406.0 181.5h0M413.1 176.5h0M407.4 177.0h0M420.6 191.4h0M420.9 178.2h0M402.7 186.7h0M405.9 175.9h0M419.6 174.6h0M414.4 173.5h0M412.8 163.2h0M400.8 181.0h0M412.0 170.5h0M402.9 169.9h0M419.9 169.1h0M404.7 173.9h0M396.4 189.2h0M408.6 178.3h0M417.7 174.4h0M413.0 183.5h0M416.5 170.2h0M397.1 169.5h0M409.0 174.1h0M415.8 188.3h0M407.2 171.0h0M415.5 175.2h0M427.0 170.4h0M418.4 183.2h0M407.4 188.3h0M411.0 163.0h0M411.0 176.0h0M402.8 190.5h0M423.9 173.6h0M416.6 176.5h0M404.5 169.2h0M411.5 160.6h0M402.1 196.8h0M396.4 183.4h0M403.5 174.9h0M401.1 167.5h0M415.3 167.1h0M411.4 171.4h0M406.5 166.3h0M413.0 175.6h0M421.7 167.4h0M394.2 163.8h0M409.6 181.2h0M407.5 190.0h0M409.4 178.4h0M398.7 169.7h0M416.9 166.4h0M405.2 171.4h0M411.4 190.2h0M411.5 173.1h0M394.0 165.9h0M404.7 168.6h0M407.9 178.0h0M420.9 168.9h0M411.1 180.6h0M396.9 196.4h0M418.0 165.4h0M406.7 176.0h0M416.4 166.2h0M407.3 177.8h0M417.3 166.5h0M424.1 177.4h0M408.1 177.2h0M423.5 157.3h0M415.0 177.4h0M404.4 174.8h0M412.1 179.5h0M403.4 186.9h0M409.8 185.3h0M401.9 158.8h0M396.3 174.8h0M407.6 172.5h0M404.5 177.2h0M409.0 179.5h0M405.2 168.9h0M405.9 177.2h0M394.2 180.7h0M411.7 165.9h0M416.2 184.3h0M412.9 181.0h0M397.2 193.0h0M397.2 174.4h0M393.0 177.1h0M425.5 174.1h0M423.9 183.5h0M413.3 186.4h0M402.3 177.3h0M413.4 163.3h0M417.7 173.5h0M416.8 170.0h0M411.1 167.7h0M424.5 176.0h0M409.4 180.2h0M412.9 162.4h0M398.6 174.6h0M384.1 185.1h0M422.3 161.9h0M410.5 181.7h0M411.9 171.4h0M405.0 164.7h0M419.9 163.4h0M404.4 187.5h0M420.2 162.4h0M413.5 156.5h0M414.4 168.9h0M418.4 171.1h0M416.1 165.9h0M402.5 167.2h0M406.8 169.4h0M402.9 178.5h0M415.3 165.9h0M411.6 173.9h0M412.5 167.1h0M415.2 169.3h0M428.2 188.5h0M421.0 163.5h0M413.4 170.4h0M414.9 168.6h0M414.0 167.6h0M416.3 169.2h0M416.0 169.3h0M409.6 175.7h0M414.6 177.5h0M402.0 176.6h0M411.8 159.9h0M415.8 182.6h0M410.9 159.2h0M404.6 176.0h0M407.7 182.3h0M394.7 186.3h0M415.9 186.3h0M416.8 164.5h0M406.7 176.5h0M415.7 176.3h0M411.6 170.0h0M420.2 170.8h0" stroke="#3c9646" stroke-width="1.5" stroke-linecap="round" fill="none"/>
<path d="M415.7 208.5h0M413.5 185.2h0M416.8 193.0h0M425.4 197.4h0M411.3 197.5h0M412.7 208.0h0M409.8 198.6h0M408.1 184.9h0M416.8 207.8h0M422.7 188.2h0M411.1 187.2h0M410.9 185.4h0M411.3 210.3h0M419.4 200.6h0M418.5 188.5h0M409.2 200.6h0M421.3 194.5h0M415.3 216.5h0M417.9 213.6h0M423.5 186.9h0M421.3 212.0h0M407.4 194.5h0M424.6 207.6h0M417.3 186.3h0M409.6 187.3h0M414.2 202.0h0M406.4 202.6h0M420.3 194.3h0M427.2 200.1h0M411.9 184.2h0M407.9 201.6h0M406.7 194.2h0M422.5 212.9h0M421.8 191.3h0M426.1 196.9h0M409.2 187.7h0M419.3 189.0h0M421.1 191.3h0M413.2 205.4h0M409.0 206.1h0M404.7 207.2h0M415.0 189.9h0M422.6 214.5h0M416.2 203.9h0M410.8 205.4h0M416.0 197.9h0M414.3 187.8h0M415.3 201.9h0M423.4 185.0h0M417.6 208.9h0M415.3 208.1h0M419.2 206.0h0M427.3 196.2h0M418.5 185.6h0M418.1 186.0h0M417.9 186.7h0M427.0 203.9h0M410.8 206.4h0M404.7 201.1h0M419.7 209.3h0M408.8 202.4h0M416.6 212.4h0M411.2 201.1h0M404.4 196.7h0M425.4 195.6h0M416.8 196.1h0M421.0 199.7h0M416.6 182.2h0M419.3 199.1h0M421.3 202.9h0M417.7 210.6h0M428.9 193.4h0M408.2 199.2h0M404.3 198.2h0M418.9 185.2h0M415.2 189.9h0M409.7 196.4h0M406.4 205.2h0M418.3 206.2h0M406.9 200.1h0M420.2 196.4h0M414.9 206.5h0M423.9 199.9h0M415.3 199.6h0M405.2 208.5h0M408.7 214.0h0M414.4 194.9h0M426.3 209.4h0M424.6 186.6h0M416.5 211.4h0M410.8 196.2h0M421.9 208.8h0M420.6 188.7h0M425.9 199.7h0M414.0 199.0h0M422.4 215.3h0M424.7 205.3h0M424.1 196.8h0M421.8 196.5h0M414.1 203.8h0M408.7 206.3h0M418.6 193.2h0M420.0 205.6h0M420.4 204.3h0M415.6 195.6h0M415.8 199.7h0M412.5 187.3h0M423.5 209.6h0M418.1 201.6h0M419.1 211.7h0M427.7 197.4h0M417.3 187.7h0M428.5 195.0h0M410.1 206.2h0M408.4 198.2h0M411.0 185.4h0M405.9 201.1h0M428.2 201.4h0M417.6 191.4h0M426.4 210.5h0M405.8 203.2h0M418.1 183.8h0M424.6 203.9h0M416.6 189.1h0M424.5 198.3h0M415.0 199.0h0M425.0 203.4h0M415.5 207.1h0M426.6 191.9h0M426.8 192.9h0M426.8 199.0h0M406.9 202.3h0M410.2 198.8h0M415.2 212.7h0M406.7 202.1h0M416.2 195.6h0M418.4 206.5h0M414.9 210.6h0M414.7 182.2h0M408.0 203.8h0M421.0 211.7h0M411.5 191.6h0M410.6 207.8h0M423.0 204.3h0M420.0 183.8h0M420.0 212.8h0M418.9 194.1h0M417.0 193.3h0M419.5 201.3h0M419.5 184.9h0M421.1 187.0h0M402.0 199.7h0M422.5 195.6h0M410.8 209.6h0M419.9 204.7h0M414.4 211.9h0M412.8 203.5h0M426.1 188.6h0M428.1 189.7h0M419.8 184.5h0M427.2 204.7h0M421.8 191.6h0M403.7 199.3h0M424.3 195.9h0M424.8 200.0h0M409.9 187.6h0M424.9 192.2h0M404.5 197.7h0M420.0 196.1h0M408.0 204.3h0M411.2 198.1h0M415.4 188.4h0M417.8 191.0h0M412.7 201.3h0M414.2 187.7h0M410.7 187.2h0M425.1 199.4h0M417.1 201.3h0M422.7 204.4h0M407.8 200.1h0M422.0 204.9h0M422.0 190.6h0M414.3 200.7h0M415.5 209.9h0M418.6 210.1h0M424.0 187.5h0M417.5 203.5h0M416.1 199.7h0M415.9 215.5h0M417.1 188.1h0M420.3 193.9h0M422.0 193.2h0M416.0 196.8h0M407.6 192.8h0M414.0 186.2h0M424.3 205.4h0M417.6 202.4h0M409.6 202.8h0M408.2 201.6h0M421.0 197.8h0M414.3 214.5h0M412.2 211.3h0M414.0 203.4h0M420.7 188.2h0M410.9 201.7h0M422.7 201.0h0M419.5 207.3h0M422.0 201.8h0M418.6 200.4h0M405.5 198.7h0M417.7 181.8h0M418.1 187.9h0M416.7 195.4h0M412.2 213.1h0M419.0 206.7h0M413.0 188.3h0M416.8 198.5h0M414.2 209.8h0M423.2 209.4h0M418.3 192.6h0M420.6 210.3h0M415.1 194.4h0M422.5 202.7h0M414.8 194.6h0M421.2 193.8h0M423.3 199.1h0M419.6 190.3h0M423.2 206.0h0M423.3 199.4h0M423.1 196.0h0M415.3 203.9h0M424.3 193.8h0M415.8 189.2h0M427.5 200.2h0M408.3 201.7h0M415.5 193.6h0M416.1 218.9h0M411.2 210.6h0M418.9 200.5h0M410.1 199.4h0M416.5 201.5h0M402.6 198.7h0M414.1 189.4h0M413.6 215.2h0M411.6 192.9h0M418.5 210.3h0M423.9 201.1h0M426.0 189.6h0M420.3 204.1h0M415.6 196.0h0M418.5 198.5h0M410.7 184.4h0M411.9 188.8h0M421.6 204.0h0M415.2 194.6h0M416.1 198.7h0M408.0 197.8h0M403.1 198.8h0M426.2 183.3h0M423.6 193.4h0M421.1 198.7h0M422.3 190.8h0M424.0 187.3h0M415.0 209.7h0M415.5 197.3h0M418.7 207.1h0M411.5 204.3h0M410.5 194.4h0M418.7 214.1h0M424.1 211.7h0M420.8 192.4h0M422.4 180.9h0M409.3 189.2h0M407.5 203.9h0M409.3 192.0h0M413.9 206.6h0M414.3 187.3h0M417.6 191.0h0M416.5 199.0h0M407.1 190.5h0M418.0 187.9h0M412.7 204.0h0M412.9 202.3h0M402.3 196.7h0M421.0 203.0h0M427.7 200.9h0M424.2 206.7h0M414.8 183.8h0M420.9 203.7h0M424.0 195.7h0M419.7 199.9h0M427.7 195.1h0M420.6 205.3h0M425.2 212.4h0M416.8 193.7h0M399.3 194.1h0M407.7 187.2h0M416.4 186.3h0M400.0 189.8h0M410.3 201.2h0M416.5 206.6h0M403.0 199.0h0M407.4 182.9h0M402.2 208.4h0M418.7 200.2h0M399.9 193.8h0M400.9 194.7h0M407.6 209.5h0M400.3 189.2h0M410.7 193.5h0M412.8 195.5h0M410.3 193.3h0M408.9 199.1h0M416.4 179.5h0M397.7 202.0h0M398.7 180.6h0M413.6 201.3h0M410.2 196.1h0M415.0 193.6h0M421.9 189.5h0M398.6 186.6h0M404.2 176.7h0M407.9 210.6h0M410.7 205.6h0M418.2 219.6h0M415.6 204.5h0M395.0 204.8h0M404.0 201.5h0M391.2 192.8h0M402.6 177.6h0M390.3 199.6h0M402.8 202.5h0M408.7 187.9h0M408.3 198.0h0M420.0 195.5h0M404.3 196.0h0M395.3 197.4h0M403.1 207.1h0M416.5 182.6h0M412.4 202.9h0M386.8 192.8h0M408.3 203.1h0M401.9 213.2h0M404.9 196.0h0M396.9 201.4h0M404.6 201.2h0M398.8 197.8h0M413.5 208.3h0M403.2 206.2h0M392.8 187.0h0M412.4 202.4h0M397.1 206.8h0M410.8 212.2h0M413.9 199.1h0M410.3 202.7h0M399.1 186.0h0M416.0 201.9h0M428.1 207.0h0M407.2 198.6h0M403.2 191.1h0M402.7 200.0h0M410.8 191.6h0M407.4 200.6h0M395.8 186.9h0M426.7 195.9h0M403.7 191.7h0M418.8 197.6h0M408.2 211.3h0M399.7 198.8h0M402.3 198.9h0M417.3 204.4h0M389.9 189.8h0M399.8 216.5h0M395.3 195.3h0M409.1 187.0h0M413.2 207.0h0M408.7 199.3h0M409.4 195.6h0M411.7 196.4h0M401.0 181.0h0M399.1 204.4h0M391.3 217.7h0M397.8 195.3h0M401.6 186.2h0M413.2 184.0h0M404.5 215.5h0M410.2 210.3h0M416.6 191.6h0M405.9 211.4h0M418.4 186.9h0M406.8 187.3h0M413.0 194.4h0M408.5 189.3h0M398.6 198.7h0M410.0 221.6h0M402.3 220.9h0M387.9 184.5h0M407.7 192.1h0M395.8 191.5h0M404.4 209.9h0M407.7 208.2h0M403.0 202.3h0M393.9 195.8h0M403.1 201.8h0M415.7 191.0h0M418.9 190.3h0M419.4 206.5h0M413.8 203.4h0M417.3 199.3h0M422.6 196.7h0M396.7 188.3h0M395.5 186.9h0M390.2 186.9h0M389.1 205.9h0M409.9 195.2h0M403.6 206.0h0M403.8 177.6h0M401.9 179.1h0M412.5 193.2h0M420.3 183.8h0M406.1 178.9h0" stroke="#efaf3c" stroke-width="1.5" stroke-linecap="round" fill="none"/>
<rect x="356.5" y="114.2" width="155.10000000000002" height="125.2" fill="none" stroke="#000" stroke-width="1.1"/>
<text x="361.6" y="251.0" font-size="7.6" fill="#231f20" text-anchor="middle" stroke="#231f20" stroke-width="0.22" >&#8722;10</text>
<text x="397.4" y="251.0" font-size="7.6" fill="#231f20" text-anchor="middle" stroke="#231f20" stroke-width="0.22" >&#8722;5</text>
<text x="435.3" y="251.0" font-size="7.6" fill="#231f20" text-anchor="middle" stroke="#231f20" stroke-width="0.22" >0</text>
<text x="471.1" y="251.0" font-size="7.6" fill="#231f20" text-anchor="middle" stroke="#231f20" stroke-width="0.22" >5</text>
<text x="506.8" y="251.0" font-size="7.6" fill="#231f20" text-anchor="middle" stroke="#231f20" stroke-width="0.22" >10</text>
<text x="351.3" y="133.9" font-size="7.6" fill="#231f20" text-anchor="end" stroke="#231f20" stroke-width="0.22" >5</text>
<text x="351.3" y="167.9" font-size="7.6" fill="#231f20" text-anchor="end" stroke="#231f20" stroke-width="0.22" >0</text>
<text x="351.3" y="201.9" font-size="7.6" fill="#231f20" text-anchor="end" stroke="#231f20" stroke-width="0.22" >&#8722;5</text>
<text x="351.3" y="235.9" font-size="7.6" fill="#231f20" text-anchor="end" stroke="#231f20" stroke-width="0.22" >&#8722;10</text>
<path d="M363.8 239.4v2.6M399.6 239.4v2.6M435.3 239.4v2.6M471.1 239.4v2.6M506.8 239.4v2.6M356.5 131.2h-2.6M356.5 165.2h-2.6M356.5 199.2h-2.6M356.5 233.2h-2.6" stroke="#000" stroke-width="0.9" fill="none"/>
<circle cx="492.5" cy="125.4" r="1.2" fill="#e0202a"/>
<text x="496.4" y="120.6" font-size="7.2" fill="#231f20" text-anchor="start" stroke="#231f20" stroke-width="0.22" >Pten</text>
<circle cx="451.7" cy="144.8" r="1.2" fill="#e0202a"/>
<text x="455.9" y="140.4" font-size="7.2" fill="#231f20" text-anchor="start" stroke="#231f20" stroke-width="0.22" >Tsc2</text>
<circle cx="462.5" cy="152.3" r="1.2" fill="#e0202a"/>
<text x="466.4" y="150.6" font-size="7.2" fill="#231f20" text-anchor="start" stroke="#231f20" stroke-width="0.22" >Tsc1</text>
<line x1="395.9" y1="147.6" x2="397.4" y2="157.0" stroke="#000" stroke-width="0.8"/>
<circle cx="397.4" cy="157.0" r="1.2" fill="#e0202a"/>
<text x="375.5" y="145.5" font-size="7.2" fill="#231f20" text-anchor="start" stroke="#231f20" stroke-width="0.22" >Fermt3</text>
<circle cx="385.2" cy="161.4" r="1.2" fill="#e0202a"/>
<text x="370.4" y="160.5" font-size="7.2" fill="#231f20" text-anchor="start" stroke="#231f20" stroke-width="0.22" >Tln1</text>
<line x1="384.5" y1="167.4" x2="388.1" y2="162.5" stroke="#000" stroke-width="0.8"/>
<circle cx="388.1" cy="162.5" r="1.2" fill="#e0202a"/>
<text x="366.5" y="171.6" font-size="7.2" fill="#231f20" text-anchor="start" stroke="#231f20" stroke-width="0.22" >Cxcr4</text>
<text x="231.9" y="264" font-size="9.2" font-weight="bold" fill="#231f20" stroke="#231f20" stroke-width="0.2" lengthAdjust="spacingAndGlyphs" textLength="10.4">Log</text>
<text x="242.5" y="266" font-size="5.2" font-weight="bold" fill="#231f20">2</text>
<text x="245.3" y="264" font-size="9.2" font-weight="bold" fill="#231f20" stroke="#231f20" stroke-width="0.2" lengthAdjust="spacingAndGlyphs" textLength="26.6">FC in vivo</text>
<text x="414.6" y="264" font-size="9.2" font-weight="bold" fill="#231f20" stroke="#231f20" stroke-width="0.2" lengthAdjust="spacingAndGlyphs" textLength="10.4">Log</text>
<text x="425.20000000000005" y="266" font-size="5.2" font-weight="bold" fill="#231f20">2</text>
<text x="428.0" y="264" font-size="9.2" font-weight="bold" fill="#231f20" stroke="#231f20" stroke-width="0.2" lengthAdjust="spacingAndGlyphs" textLength="26.6">FC in vivo</text>
<g transform="translate(151.5,197.7) rotate(-90)"><text x="0" y="0" font-size="9.2" font-weight="bold" fill="#231f20" stroke="#231f20" stroke-width="0.2" lengthAdjust="spacingAndGlyphs" textLength="10.4">Log</text><text x="10.6" y="2" font-size="5.2" font-weight="bold" fill="#231f20">2</text><text x="13.4" y="0" font-size="9.2" font-weight="bold" fill="#231f20" stroke="#231f20" stroke-width="0.2" lengthAdjust="spacingAndGlyphs" textLength="28.8">FC in vitro</text></g>
<circle cx="279.3" cy="272.9" r="2.6" fill="#2e8b3a"/>
<text x="284.8" y="275.2" font-size="7" fill="#231f20" text-anchor="start" stroke="#231f20" stroke-width="0.22" >In vivo only</text>
<circle cx="330.4" cy="272.9" r="2.6" fill="#2f7ec4"/>
<text x="335.9" y="275.2" font-size="7" fill="#231f20" text-anchor="start" stroke="#231f20" stroke-width="0.22" >In vitro only</text>
<circle cx="382.6" cy="272.9" r="2.6" fill="#f1a12a"/>
<text x="388.1" y="275.2" font-size="7" fill="#231f20" text-anchor="start" stroke="#231f20" stroke-width="0.22" >Shared</text>
<text x="6.8" y="298.8" font-size="11.2" fill="#000" text-anchor="start" font-weight="bold" stroke="#000" stroke-width="0.35">D</text>
<g style="isolation:isolate">
<ellipse cx="94.2" cy="397.2" rx="69.2" ry="42.6" transform="rotate(29.0 94.2 397.2)" fill="#c4d4e2" style="mix-blend-mode:multiply"/>
<ellipse cx="128.7" cy="377.2" rx="68.5" ry="29.6" transform="rotate(35.3 128.7 377.2)" fill="#d7c8de" style="mix-blend-mode:multiply"/>
<ellipse cx="128.7" cy="377.2" rx="68.5" ry="29.6" transform="rotate(-35.3 128.7 377.2)" fill="#cce8d0" style="mix-blend-mode:multiply"/>
<ellipse cx="163.2" cy="397.2" rx="69.2" ry="42.6" transform="rotate(-29.0 163.2 397.2)" fill="#eec4ce" style="mix-blend-mode:multiply"/>
</g>
<text x="95.4" y="346.7" font-size="9.3" fill="#1a1a1a" text-anchor="middle" stroke="#1a1a1a" stroke-width="0.38">268</text>
<text x="162.3" y="346.7" font-size="9.3" fill="#1a1a1a" text-anchor="middle" stroke="#1a1a1a" stroke-width="0.38">227</text>
<text x="86.7" y="364.6" font-size="9.3" fill="#1a1a1a" text-anchor="middle" stroke="#1a1a1a" stroke-width="0.38">116</text>
<text x="128.7" y="361.2" font-size="9.3" fill="#1a1a1a" text-anchor="middle" stroke="#1a1a1a" stroke-width="0.38">33</text>
<text x="171.9" y="364" font-size="9.3" fill="#1a1a1a" text-anchor="middle" stroke="#1a1a1a" stroke-width="0.38">59</text>
<text x="106.5" y="380.8" font-size="9.3" fill="#1a1a1a" text-anchor="middle" stroke="#1a1a1a" stroke-width="0.38">19</text>
<text x="151.2" y="380.8" font-size="9.3" fill="#1a1a1a" text-anchor="middle" stroke="#1a1a1a" stroke-width="0.38">14</text>
<text x="128.7" y="400" font-size="9.3" fill="#1a1a1a" text-anchor="middle" stroke="#1a1a1a" stroke-width="0.38">47</text>
<text x="88.7" y="408.8" font-size="9.3" fill="#1a1a1a" text-anchor="middle" stroke="#1a1a1a" stroke-width="0.38">53</text>
<text x="168.8" y="408.8" font-size="9.3" fill="#1a1a1a" text-anchor="middle" stroke="#1a1a1a" stroke-width="0.38">24</text>
<text x="112.3" y="416" font-size="9.3" fill="#1a1a1a" text-anchor="middle" stroke="#1a1a1a" stroke-width="0.38">119</text>
<text x="146" y="416" font-size="9.3" fill="#1a1a1a" text-anchor="middle" stroke="#1a1a1a" stroke-width="0.38">93</text>
<text x="128.7" y="433.3" font-size="9.3" fill="#1a1a1a" text-anchor="middle" stroke="#1a1a1a" stroke-width="0.38">608</text>
<text x="57" y="380.8" font-size="9.3" fill="#1a1a1a" text-anchor="middle" stroke="#1a1a1a" stroke-width="0.38">727</text>
<text x="200" y="380.8" font-size="9.3" fill="#1a1a1a" text-anchor="middle" stroke="#1a1a1a" stroke-width="0.38">382</text>
<text x="30.4" y="337.2" font-size="8.9" fill="#2d6aa3" text-anchor="start" stroke="#2d6aa3" stroke-width="0.22" >MA vitro</text>
<text x="86.9" y="326.1" font-size="8.9" fill="#7a3b89" text-anchor="start" stroke="#7a3b89" stroke-width="0.22" >MA vivo</text>
<text x="148.1" y="328" font-size="8.9" fill="#46b05a" text-anchor="start" stroke="#46b05a" stroke-width="0.22" >HM vivo</text>
<text x="190.8" y="341.7" font-size="8.9" fill="#c8203c" text-anchor="start" stroke="#c8203c" stroke-width="0.22" >HM vitro</text>
<text x="264.8" y="299.2" font-size="11.2" fill="#000" text-anchor="start" font-weight="bold" stroke="#000" stroke-width="0.35">E</text>
<rect x="302.5" y="298.8" width="176.5" height="160.39999999999998" fill="#efefef"/>
<path d="M302.5 298.80H309.9V300.40H302.5zM302.5 300.10H309.9V301.70H302.5zM302.5 301.40H309.9V303.00H302.5zM302.5 302.70H309.9V304.31H302.5zM302.5 304.01H309.9V305.61H302.5zM302.5 305.31H309.9V306.91H302.5zM302.5 306.61H309.9V308.21H302.5zM302.5 307.91H309.9V309.51H302.5zM309.7 309.21H317.1V310.81H309.7zM309.7 310.51H317.1V312.11H309.7zM309.7 311.81H317.1V313.41H309.7zM309.7 313.11H317.1V314.72H309.7zM309.7 314.42H317.1V316.02H309.7zM309.7 315.72H317.1V317.32H309.7zM309.7 317.02H317.1V318.62H309.7zM309.7 318.32H317.1V319.92H309.7zM309.7 319.62H317.1V321.22H309.7zM302.5 336.54H309.9V338.14H302.5zM302.5 339.14H309.9V340.74H302.5zM302.5 341.74H309.9V343.34H302.5zM302.5 345.65H309.9V347.25H302.5zM302.5 349.55H309.9V351.15H302.5zM302.5 350.85H309.9V352.45H302.5zM302.5 353.46H309.9V355.06H302.5zM302.5 354.76H309.9V356.36H302.5zM302.5 356.06H309.9V357.66H302.5zM302.5 358.66H309.9V360.26H302.5zM456.9 370.37H464.5V371.97H456.9zM302.5 371.67H309.9V373.27H302.5zM302.5 375.58H309.9V377.18H302.5zM302.5 376.88H309.9V378.48H302.5zM382.8 378.18H390.4V379.78H382.8zM456.9 378.18H464.5V379.78H456.9zM302.5 379.48H309.9V381.08H302.5zM375.4 379.48H383.0V381.08H375.4zM405.1 379.48H412.7V381.08H405.1zM346.2 380.78H353.6V382.38H346.2zM375.4 380.78H383.0V382.38H375.4zM419.9 380.78H427.5V382.38H419.9zM346.2 382.08H353.6V383.69H346.2zM368.0 382.08H375.6V383.69H368.0zM375.4 382.08H383.0V383.69H375.4zM382.8 382.08H390.4V383.69H382.8zM449.5 382.08H457.1V383.69H449.5zM353.4 383.39H360.9V384.99H353.4zM375.4 383.39H383.0V384.99H375.4zM382.8 383.39H390.4V384.99H382.8zM419.9 383.39H427.5V384.99H419.9zM442.1 383.39H449.7V384.99H442.1zM368.0 384.69H375.6V386.29H368.0zM382.8 384.69H390.4V386.29H382.8zM419.9 384.69H427.5V386.29H419.9zM449.5 384.69H457.1V386.29H449.5zM405.1 385.99H412.7V387.59H405.1zM449.5 385.99H457.1V387.59H449.5zM456.9 385.99H464.5V387.59H456.9zM375.4 387.29H383.0V388.89H375.4zM427.3 387.29H434.9V388.89H427.3zM442.1 387.29H449.7V388.89H442.1zM353.4 388.59H360.9V390.19H353.4zM368.0 388.59H375.6V390.19H368.0zM375.4 388.59H383.0V390.19H375.4zM382.8 388.59H390.4V390.19H382.8zM419.9 388.59H427.5V390.19H419.9zM456.9 388.59H464.5V390.19H456.9zM464.3 388.59H471.9V390.19H464.3zM302.5 389.89H309.9V391.49H302.5zM346.2 389.89H353.6V391.49H346.2zM353.4 389.89H360.9V391.49H353.4zM360.7 389.89H368.2V391.49H360.7zM368.0 389.89H375.6V391.49H368.0zM382.8 389.89H390.4V391.49H382.8zM419.9 389.89H427.5V391.49H419.9zM427.3 389.89H434.9V391.49H427.3zM449.5 389.89H457.1V391.49H449.5zM456.9 389.89H464.5V391.49H456.9zM368.0 391.19H375.6V392.79H368.0zM375.4 391.19H383.0V392.79H375.4zM382.8 391.19H390.4V392.79H382.8zM405.1 391.19H412.7V392.79H405.1zM419.9 391.19H427.5V392.79H419.9zM427.3 391.19H434.9V392.79H427.3zM456.9 391.19H464.5V392.79H456.9zM302.5 392.49H309.9V394.10H302.5zM331.6 392.49H339.1V394.10H331.6zM353.4 392.49H360.9V394.10H353.4zM360.7 392.49H368.2V394.10H360.7zM368.0 392.49H375.6V394.10H368.0zM375.4 392.49H383.0V394.10H375.4zM382.8 392.49H390.4V394.10H382.8zM419.9 392.49H427.5V394.10H419.9zM427.3 392.49H434.9V394.10H427.3zM442.1 392.49H449.7V394.10H442.1zM331.6 393.80H339.1V395.40H331.6zM360.7 393.80H368.2V395.40H360.7zM368.0 393.80H375.6V395.40H368.0zM375.4 393.80H383.0V395.40H375.4zM382.8 393.80H390.4V395.40H382.8zM397.6 393.80H405.2V395.40H397.6zM442.1 393.80H449.7V395.40H442.1zM456.9 393.80H464.5V395.40H456.9zM464.3 393.80H471.9V395.40H464.3zM302.5 402.20H309.9V403.80H302.5zM472.0 408.70H479.2V410.30H472.0zM302.5 420.40H309.9V422.00H302.5zM456.9 423.00H464.5V424.60H456.9zM302.5 424.30H309.9V425.90H302.5zM382.8 424.30H390.4V425.90H382.8zM331.6 425.60H339.1V427.20H331.6zM405.1 425.60H412.7V427.20H405.1zM449.5 425.60H457.1V427.20H449.5zM353.4 426.90H360.9V428.50H353.4zM397.6 426.90H405.2V428.50H397.6zM331.6 428.20H339.1V429.80H331.6zM346.2 428.20H353.6V429.80H346.2zM368.0 428.20H375.6V429.80H368.0zM375.4 428.20H383.0V429.80H375.4zM382.8 428.20H390.4V429.80H382.8zM405.1 428.20H412.7V429.80H405.1zM449.5 428.20H457.1V429.80H449.5zM456.9 428.20H464.5V429.80H456.9zM302.5 429.50H309.9V431.10H302.5zM316.9 431.40H324.2V433.02H316.9zM316.9 432.72H324.2V434.35H316.9zM316.9 434.05H324.2V435.67H316.9zM316.9 435.37H324.2V437.00H316.9zM316.9 436.70H324.2V438.32H316.9zM316.9 438.02H324.2V439.64H316.9zM324.0 439.34H330.9V440.97H324.0zM324.0 440.67H330.9V442.29H324.0zM324.0 441.99H330.9V443.61H324.0zM324.0 443.31H330.9V444.94H324.0zM324.0 444.64H330.9V446.26H324.0zM324.0 445.96H330.9V447.59H324.0zM324.0 447.29H330.9V448.91H324.0z" fill="#c42d73"/>
<path d="M397.6 300.10H405.2V301.70H397.6zM353.4 324.83H360.9V326.43H353.4zM360.7 335.24H368.2V336.84H360.7zM338.9 339.14H346.4V340.74H338.9zM360.7 339.14H368.2V340.74H360.7zM382.8 343.04H390.4V344.65H382.8zM405.1 350.85H412.7V352.45H405.1zM375.4 403.50H383.0V405.10H375.4z" fill="#eddee4"/>
<path d="M427.3 300.10H434.9V301.70H427.3zM375.4 326.13H383.0V327.73H375.4zM368.0 349.55H375.6V351.15H368.0zM405.1 349.55H412.7V351.15H405.1zM464.3 350.85H471.9V352.45H464.3zM464.3 361.26H471.9V362.86H464.3zM368.0 398.30H375.6V399.90H368.0zM449.5 407.40H457.1V409.00H449.5zM419.9 408.70H427.5V410.30H419.9zM338.9 451.26H346.4V452.88H338.9z" fill="#ede1e6"/>
<path d="M390.2 306.61H397.8V308.21H390.2zM456.9 326.13H464.5V327.73H456.9zM456.9 327.43H464.5V329.03H456.9zM338.9 336.54H346.4V338.14H338.9zM419.9 339.14H427.5V340.74H419.9zM338.9 352.15H346.4V353.76H338.9zM412.5 361.26H420.1V362.86H412.5zM390.2 398.30H397.8V399.90H390.2zM375.4 399.60H383.0V401.20H375.4zM390.2 403.50H397.8V405.10H390.2zM427.3 451.26H434.9V452.88H427.3zM456.9 451.26H464.5V452.88H456.9z" fill="#eddbe3"/>
<path d="M464.3 309.21H471.9V310.81H464.3zM338.9 337.84H346.4V339.44H338.9zM464.3 356.06H471.9V357.66H464.3zM464.3 398.30H471.9V399.90H464.3zM427.3 407.40H434.9V409.00H427.3zM419.9 451.26H427.5V452.88H419.9z" fill="#ecd8e1"/>
<path d="M449.5 317.02H457.1V318.62H449.5zM346.2 335.24H353.6V336.84H346.2zM442.1 336.54H449.7V338.14H442.1zM405.1 348.25H412.7V349.85H405.1zM390.2 353.46H397.8V355.06H390.2zM434.7 363.87H442.3V365.47H434.7z" fill="#eee8eb"/>
<path d="M353.4 318.32H360.9V319.92H353.4zM456.9 318.32H464.5V319.92H456.9zM353.4 319.62H360.9V321.22H353.4zM405.1 331.33H412.7V332.93H405.1zM382.8 337.84H390.4V339.44H382.8zM427.3 340.44H434.9V342.04H427.3zM397.6 349.55H405.2V351.15H397.6zM368.0 354.76H375.6V356.36H368.0zM412.5 358.66H420.1V360.26H412.5z" fill="#eee6e9"/>
<path d="M368.0 318.32H375.6V319.92H368.0zM346.2 330.03H353.6V331.63H346.2zM390.2 339.14H397.8V340.74H390.2zM382.8 340.44H390.4V342.04H382.8zM331.6 344.35H339.1V345.95H331.6zM427.3 344.35H434.9V345.95H427.3zM427.3 398.30H434.9V399.90H427.3zM419.9 404.80H427.5V406.40H419.9zM434.7 410.00H442.3V411.60H434.7zM353.4 451.26H360.9V452.88H353.4z" fill="#eee4e8"/>
<path d="M449.5 318.32H457.1V319.92H449.5zM419.9 336.54H427.5V338.14H419.9zM382.8 341.74H390.4V343.34H382.8zM434.7 416.50H442.3V418.10H434.7z" fill="#eee3e8"/>
<path d="M346.2 319.62H353.6V321.22H346.2zM405.1 324.83H412.7V326.43H405.1zM331.6 327.43H339.1V329.03H331.6zM331.6 328.73H339.1V330.33H331.6zM353.4 330.03H360.9V331.63H353.4zM360.7 332.63H368.2V334.24H360.7zM412.5 332.63H420.1V334.24H412.5zM419.9 333.94H427.5V335.54H419.9zM442.1 337.84H449.7V339.44H442.1zM338.9 344.35H346.4V345.95H338.9zM397.6 348.25H405.2V349.85H397.6zM464.3 348.25H471.9V349.85H464.3zM464.3 349.55H471.9V351.15H464.3z" fill="#eee7ea"/>
<path d="M449.5 319.62H457.1V321.22H449.5zM456.9 319.62H464.5V321.22H456.9zM456.9 320.92H464.5V322.52H456.9zM390.2 356.06H397.8V357.66H390.2zM412.5 451.26H420.1V452.88H412.5z" fill="#eee3e7"/>
<path d="M302.5 320.92H309.9V322.52H302.5zM302.5 322.22H309.9V323.82H302.5zM302.5 323.52H309.9V325.13H302.5zM302.5 326.13H309.9V327.73H302.5zM302.5 331.33H309.9V332.93H302.5zM302.5 335.24H309.9V336.84H302.5zM309.7 343.04H317.1V344.65H309.7zM302.5 344.35H309.9V345.95H302.5zM302.5 346.95H309.9V348.55H302.5zM302.5 348.25H309.9V349.85H302.5zM309.7 349.55H317.1V351.15H309.7zM302.5 363.87H309.9V365.47H302.5zM302.5 365.17H309.9V366.77H302.5zM302.5 370.37H309.9V371.97H302.5zM309.7 378.18H317.1V379.78H309.7zM309.7 382.08H317.1V383.69H309.7zM405.1 382.08H412.7V383.69H405.1zM309.7 383.39H317.1V384.99H309.7zM302.5 384.69H309.9V386.29H302.5zM302.5 387.29H309.9V388.89H302.5zM302.5 388.59H309.9V390.19H302.5zM309.7 388.59H317.1V390.19H309.7zM302.5 393.80H309.9V395.40H302.5zM302.5 396.40H309.9V398.00H302.5zM302.5 398.30H309.9V399.90H302.5zM309.7 398.30H317.1V399.90H309.7zM309.7 406.10H317.1V407.70H309.7zM316.9 406.10H324.2V407.70H316.9zM316.9 407.40H324.2V409.00H316.9zM309.7 408.70H317.1V410.30H309.7zM309.7 410.00H317.1V411.60H309.7zM309.7 412.60H317.1V414.20H309.7zM316.9 421.70H324.2V423.30H316.9zM302.5 423.00H309.9V424.60H302.5zM309.7 425.60H317.1V427.20H309.7zM316.9 425.60H324.2V427.20H316.9zM302.5 426.90H309.9V428.50H302.5zM309.7 426.90H317.1V428.50H309.7zM302.5 428.20H309.9V429.80H302.5zM309.7 428.20H317.1V429.80H309.7zM331.6 429.50H339.1V431.10H331.6zM338.9 429.50H346.4V431.10H338.9zM346.2 429.50H353.6V431.10H346.2zM353.4 429.50H360.9V431.10H353.4zM360.7 429.50H368.2V431.10H360.7zM368.0 429.50H375.6V431.10H368.0zM375.4 429.50H383.0V431.10H375.4zM382.8 429.50H390.4V431.10H382.8zM390.2 429.50H397.8V431.10H390.2zM397.6 429.50H405.2V431.10H397.6zM405.1 429.50H412.7V431.10H405.1zM412.5 429.50H420.1V431.10H412.5zM419.9 429.50H427.5V431.10H419.9zM427.3 429.50H434.9V431.10H427.3zM434.7 429.50H442.3V431.10H434.7zM442.1 429.50H449.7V431.10H442.1zM449.5 429.50H457.1V431.10H449.5zM456.9 429.50H464.5V431.10H456.9zM464.3 429.50H471.9V431.10H464.3zM316.9 448.61H324.2V450.23H316.9z" fill="#ca3e7e"/>
<path d="M309.7 320.92H317.1V322.52H309.7zM472.0 320.92H479.2V322.52H472.0zM309.7 326.13H317.1V327.73H309.7zM309.7 328.73H317.1V330.33H309.7zM309.7 332.63H317.1V334.24H309.7zM309.7 341.74H317.1V343.34H309.7zM309.7 346.95H317.1V348.55H309.7zM309.7 353.46H317.1V355.06H309.7zM309.7 366.47H317.1V368.07H309.7zM427.3 371.67H434.9V373.27H427.3zM442.1 385.99H449.7V387.59H442.1zM309.7 389.89H317.1V391.49H309.7zM316.9 398.30H324.2V399.90H316.9zM324.0 398.30H330.9V399.90H324.0zM324.0 400.90H330.9V402.50H324.0zM324.0 411.30H330.9V412.90H324.0zM316.9 412.60H324.2V414.20H316.9zM472.0 412.60H479.2V414.20H472.0zM405.1 415.20H412.7V416.80H405.1zM316.9 417.80H324.2V419.40H316.9zM309.7 419.10H317.1V420.70H309.7zM316.9 420.40H324.2V422.00H316.9zM442.1 420.40H449.7V422.00H442.1zM472.0 420.40H479.2V422.00H472.0zM309.7 424.30H317.1V425.90H309.7zM472.0 425.60H479.2V427.20H472.0zM316.9 428.20H324.2V429.80H316.9zM324.0 428.20H330.9V429.80H324.0zM324.0 448.61H330.9V450.23H324.0zM397.6 456.55H405.2V458.18H397.6z" fill="#dc6f9f"/>
<path d="M353.4 320.92H360.9V322.52H353.4zM375.4 323.52H383.0V325.13H375.4zM338.9 330.03H346.4V331.63H338.9zM338.9 331.33H346.4V332.93H338.9zM434.7 362.56H442.3V364.17H434.7z" fill="#efeced"/>
<path d="M449.5 320.92H457.1V322.52H449.5zM449.5 322.22H457.1V323.82H449.5zM331.6 330.03H339.1V331.63H331.6zM427.3 343.04H434.9V344.65H427.3zM412.5 359.96H420.1V361.56H412.5zM360.7 399.60H368.2V401.20H360.7zM390.2 408.70H397.8V410.30H390.2zM397.6 432.72H405.2V434.35H397.6zM397.6 451.26H405.2V452.88H397.6zM449.5 451.26H457.1V452.88H449.5z" fill="#ede0e6"/>
<path d="M309.7 322.22H317.1V323.82H309.7zM309.7 331.33H317.1V332.93H309.7zM309.7 337.84H317.1V339.44H309.7zM309.7 339.14H317.1V340.74H309.7zM309.7 344.35H317.1V345.95H309.7zM309.7 350.85H317.1V352.45H309.7zM309.7 354.76H317.1V356.36H309.7zM309.7 359.96H317.1V361.56H309.7zM309.7 361.26H317.1V362.86H309.7zM309.7 375.58H317.1V377.18H309.7zM375.4 375.58H383.0V377.18H375.4zM309.7 385.99H317.1V387.59H309.7zM309.7 387.29H317.1V388.89H309.7zM309.7 391.19H317.1V392.79H309.7zM353.4 391.19H360.9V392.79H353.4zM309.7 399.60H317.1V401.20H309.7zM309.7 404.80H317.1V406.40H309.7zM309.7 417.80H317.1V419.40H309.7zM427.3 417.80H434.9V419.40H427.3zM309.7 420.40H317.1V422.00H309.7zM309.7 421.70H317.1V423.30H309.7zM464.3 425.60H471.9V427.20H464.3zM368.0 426.90H375.6V428.50H368.0z" fill="#d3568e"/>
<path d="M353.4 322.22H360.9V323.82H353.4zM360.7 333.94H368.2V335.54H360.7zM390.2 352.15H397.8V353.76H390.2zM412.5 356.06H420.1V357.66H412.5zM390.2 357.36H397.8V358.96H390.2zM390.2 361.26H397.8V362.86H390.2z" fill="#eeeaec"/>
<path d="M456.9 322.22H464.5V323.82H456.9z" fill="#efebed"/>
<path d="M472.0 322.22H479.2V323.82H472.0zM472.0 331.33H479.2V332.93H472.0zM382.8 369.07H390.4V370.67H382.8zM419.9 369.07H427.5V370.67H419.9zM353.4 371.67H360.9V373.27H353.4zM375.4 371.67H383.0V373.27H375.4zM427.3 372.98H434.9V374.58H427.3zM331.6 382.08H339.1V383.69H331.6zM427.3 423.00H434.9V424.60H427.3zM360.7 425.60H368.2V427.20H360.7z" fill="#d3578f"/>
<path d="M309.7 323.52H317.1V325.13H309.7zM309.7 330.03H317.1V331.63H309.7zM472.0 358.66H479.2V360.26H472.0zM309.7 362.56H317.1V364.17H309.7zM309.7 372.98H317.1V374.58H309.7zM331.6 374.28H339.1V375.88H331.6zM353.4 375.58H360.9V377.18H353.4zM309.7 379.48H317.1V381.08H309.7zM309.7 380.78H317.1V382.38H309.7zM390.2 392.49H397.8V394.10H390.2zM309.7 393.80H317.1V395.40H309.7zM302.5 399.60H309.9V401.20H302.5zM302.5 400.90H309.9V402.50H302.5zM316.9 403.50H324.2V405.10H316.9zM324.0 404.80H330.9V406.40H324.0zM309.7 407.40H317.1V409.00H309.7zM302.5 410.00H309.9V411.60H302.5zM316.9 410.00H324.2V411.60H316.9zM309.7 411.30H317.1V412.90H309.7zM316.9 411.30H324.2V412.90H316.9zM302.5 415.20H309.9V416.80H302.5zM309.7 415.20H317.1V416.80H309.7zM316.9 415.20H324.2V416.80H316.9zM302.5 421.70H309.9V423.30H302.5zM324.0 421.70H330.9V423.30H324.0zM368.0 421.70H375.6V423.30H368.0zM464.3 421.70H471.9V423.30H464.3zM316.9 424.30H324.2V425.90H316.9zM419.9 424.30H427.5V425.90H419.9zM316.9 453.90H324.2V455.53H316.9zM316.9 457.88H324.2V459.50H316.9z" fill="#d65f94"/>
<path d="M353.4 323.52H360.9V325.13H353.4zM346.2 332.63H353.6V334.24H346.2zM464.3 352.15H471.9V353.76H464.3zM434.7 366.47H442.3V368.07H434.7zM442.1 399.60H449.7V401.20H442.1zM442.1 402.20H449.7V403.80H442.1zM331.6 451.26H339.1V452.88H331.6z" fill="#eddfe5"/>
<path d="M449.5 323.52H457.1V325.13H449.5zM375.4 328.73H383.0V330.33H375.4zM331.6 332.63H339.1V334.24H331.6zM338.9 333.94H346.4V335.54H338.9zM360.7 350.85H368.2V352.45H360.7zM368.0 350.85H375.6V352.45H368.0zM397.6 350.85H405.2V352.45H397.6zM390.2 358.66H397.8V360.26H390.2zM368.0 400.90H375.6V402.50H368.0zM346.2 451.26H353.6V452.88H346.2zM368.0 451.26H375.6V452.88H368.0z" fill="#eddde4"/>
<path d="M456.9 323.52H464.5V325.13H456.9zM419.9 340.44H427.5V342.04H419.9zM434.7 367.77H442.3V369.37H434.7z" fill="#eddbe2"/>
<path d="M472.0 323.52H479.2V325.13H472.0zM346.2 384.69H353.6V386.29H346.2zM382.8 419.10H390.4V420.70H382.8z" fill="#d2538c"/>
<path d="M302.5 324.83H309.9V326.43H302.5zM302.5 327.43H309.9V329.03H302.5zM302.5 352.15H309.9V353.76H302.5zM309.7 352.15H317.1V353.76H309.7zM309.7 357.36H317.1V358.96H309.7zM309.7 358.66H317.1V360.26H309.7zM302.5 359.96H309.9V361.56H302.5zM309.7 365.17H317.1V366.77H309.7zM302.5 366.47H309.9V368.07H302.5zM302.5 369.07H309.9V370.67H302.5zM442.1 369.07H449.7V370.67H442.1zM309.7 376.88H317.1V378.48H309.7zM360.7 376.88H368.2V378.48H360.7zM302.5 378.18H309.9V379.78H302.5zM302.5 383.39H309.9V384.99H302.5zM302.5 385.99H309.9V387.59H302.5zM302.5 391.19H309.9V392.79H302.5zM302.5 395.10H309.9V396.70H302.5zM324.0 399.60H330.9V401.20H324.0zM324.0 407.40H330.9V409.00H324.0zM324.0 423.00H330.9V424.60H324.0z" fill="#e38bb1"/>
<path d="M309.7 324.83H317.1V326.43H309.7zM309.7 335.24H317.1V336.84H309.7zM309.7 348.25H317.1V349.85H309.7zM309.7 356.06H317.1V357.66H309.7zM309.7 371.67H317.1V373.27H309.7zM309.7 374.28H317.1V375.88H309.7zM472.0 374.28H479.2V375.88H472.0zM309.7 384.69H317.1V386.29H309.7zM309.7 395.10H317.1V396.70H309.7zM316.9 399.60H324.2V401.20H316.9zM309.7 400.90H317.1V402.50H309.7zM316.9 400.90H324.2V402.50H316.9zM309.7 402.20H317.1V403.80H309.7zM316.9 402.20H324.2V403.80H316.9zM302.5 403.50H309.9V405.10H302.5zM316.9 404.80H324.2V406.40H316.9zM302.5 407.40H309.9V409.00H302.5zM302.5 412.60H309.9V414.20H302.5zM316.9 413.90H324.2V415.50H316.9zM405.1 417.80H412.7V419.40H405.1zM309.7 423.00H317.1V424.60H309.7zM316.9 423.00H324.2V424.60H316.9zM324.0 424.30H330.9V425.90H324.0zM316.9 426.90H324.2V428.50H316.9zM464.3 426.90H471.9V428.50H464.3zM309.7 429.50H317.1V431.10H309.7zM316.9 455.23H324.2V456.85H316.9zM316.9 456.55H324.2V458.18H316.9z" fill="#d04e89"/>
<path d="M346.2 324.83H353.6V326.43H346.2zM353.4 327.43H360.9V329.03H353.4zM331.6 331.33H339.1V332.93H331.6zM449.5 341.74H457.1V343.34H449.5zM375.4 344.35H383.0V345.95H375.4zM382.8 344.35H390.4V345.95H382.8zM397.6 352.15H405.2V353.76H397.6zM464.3 362.56H471.9V364.17H464.3zM434.7 369.07H442.3V370.67H434.7zM427.3 403.50H434.9V405.10H427.3zM456.9 448.61H464.5V450.23H456.9zM412.5 452.58H420.1V454.20H412.5z" fill="#eddce3"/>
<path d="M375.4 324.83H383.0V326.43H375.4zM427.3 341.74H434.9V343.34H427.3z" fill="#efebec"/>
<path d="M449.5 324.83H457.1V326.43H449.5zM449.5 326.13H457.1V327.73H449.5zM331.6 335.24H339.1V336.84H331.6zM427.3 345.65H434.9V347.25H427.3zM382.8 352.15H390.4V353.76H382.8zM331.6 398.30H339.1V399.90H331.6zM434.7 400.90H442.3V402.50H434.7zM382.8 436.70H390.4V438.32H382.8zM434.7 453.90H442.3V455.53H434.7z" fill="#ecd7e0"/>
<path d="M456.9 324.83H464.5V326.43H456.9zM390.2 354.76H397.8V356.36H390.2zM442.1 407.40H449.7V409.00H442.1zM390.2 410.00H397.8V411.60H390.2z" fill="#eee8ea"/>
<path d="M472.0 324.83H479.2V326.43H472.0zM472.0 326.13H479.2V327.73H472.0zM472.0 361.26H479.2V362.86H472.0zM449.5 371.67H457.1V373.27H449.5zM397.6 372.98H405.2V374.58H397.6zM360.7 424.30H368.2V425.90H360.7z" fill="#d9679a"/>
<path d="M331.6 326.13H339.1V327.73H331.6zM338.9 328.73H346.4V330.33H338.9zM346.2 328.73H353.6V330.33H346.2zM360.7 330.03H368.2V331.63H360.7zM360.7 331.33H368.2V332.93H360.7zM412.5 357.36H420.1V358.96H412.5zM434.7 361.26H442.3V362.86H434.7z" fill="#eee9eb"/>
<path d="M353.4 326.13H360.9V327.73H353.4zM360.7 326.13H368.2V327.73H360.7zM353.4 328.73H360.9V330.33H353.4zM375.4 331.33H383.0V332.93H375.4zM346.2 333.94H353.6V335.54H346.2zM338.9 335.24H346.4V336.84H338.9zM331.6 336.54H339.1V338.14H331.6zM419.9 337.84H427.5V339.44H419.9zM427.3 346.95H434.9V348.55H427.3zM368.0 353.46H375.6V355.06H368.0zM390.2 407.40H397.8V409.00H390.2zM405.1 451.26H412.7V452.88H405.1z" fill="#eddae2"/>
<path d="M419.9 326.13H427.5V327.73H419.9zM338.9 332.63H346.4V334.24H338.9zM419.9 335.24H427.5V336.84H419.9zM412.5 336.54H420.1V338.14H412.5zM382.8 339.14H390.4V340.74H382.8zM464.3 354.76H471.9V356.36H464.3zM360.7 402.20H368.2V403.80H360.7zM464.3 451.26H471.9V452.88H464.3z" fill="#eee5e9"/>
<path d="M309.7 327.43H317.1V329.03H309.7zM309.7 340.44H317.1V342.04H309.7zM331.6 356.06H339.1V357.66H331.6zM346.2 357.36H353.6V358.96H346.2zM360.7 358.66H368.2V360.26H360.7zM360.7 361.26H368.2V362.86H360.7zM309.7 363.87H317.1V365.47H309.7zM434.7 389.89H442.3V391.49H434.7zM309.7 392.49H317.1V394.10H309.7zM309.7 396.40H317.1V398.00H309.7zM324.0 408.70H330.9V410.30H324.0zM324.0 410.00H330.9V411.60H324.0zM324.0 412.60H330.9V414.20H324.0zM427.3 413.90H434.9V415.50H427.3zM324.0 416.50H330.9V418.10H324.0zM324.0 420.40H330.9V422.00H324.0zM324.0 425.60H330.9V427.20H324.0zM324.0 429.50H330.9V431.10H324.0zM375.4 453.90H383.0V455.53H375.4zM331.6 455.23H339.1V456.85H331.6z" fill="#e6a1bf"/>
<path d="M375.4 327.43H383.0V329.03H375.4zM434.7 365.17H442.3V366.77H434.7zM382.8 451.26H390.4V452.88H382.8z" fill="#ede0e5"/>
<path d="M449.5 327.43H457.1V329.03H449.5zM449.5 330.03H457.1V331.63H449.5zM375.4 333.94H383.0V335.54H375.4zM360.7 340.44H368.2V342.04H360.7zM405.1 352.15H412.7V353.76H405.1zM405.1 353.46H412.7V355.06H405.1zM464.3 357.36H471.9V358.96H464.3zM375.4 436.70H383.0V438.32H375.4zM390.2 452.58H397.8V454.20H390.2z" fill="#ecd5df"/>
<path d="M472.0 327.43H479.2V329.03H472.0z" fill="#d86699"/>
<path d="M302.5 328.73H309.9V330.33H302.5zM302.5 330.03H309.9V331.63H302.5zM302.5 333.94H309.9V335.54H302.5zM302.5 337.84H309.9V339.44H302.5zM302.5 343.04H309.9V344.65H302.5zM302.5 357.36H309.9V358.96H302.5zM302.5 362.56H309.9V364.17H302.5zM472.0 366.47H479.2V368.07H472.0zM302.5 380.78H309.9V382.38H302.5zM346.2 392.49H353.6V394.10H346.2zM331.6 395.10H339.1V396.70H331.6zM338.9 395.10H346.4V396.70H338.9zM346.2 395.10H353.6V396.70H346.2zM353.4 395.10H360.9V396.70H353.4zM360.7 395.10H368.2V396.70H360.7zM368.0 395.10H375.6V396.70H368.0zM375.4 395.10H383.0V396.70H375.4zM382.8 395.10H390.4V396.70H382.8zM390.2 395.10H397.8V396.70H390.2zM397.6 395.10H405.2V396.70H397.6zM405.1 395.10H412.7V396.70H405.1zM412.5 395.10H420.1V396.70H412.5zM419.9 395.10H427.5V396.70H419.9zM427.3 395.10H434.9V396.70H427.3zM434.7 395.10H442.3V396.70H434.7zM442.1 395.10H449.7V396.70H442.1zM449.5 395.10H457.1V396.70H449.5zM456.9 395.10H464.5V396.70H456.9zM464.3 395.10H471.9V396.70H464.3zM331.6 396.40H339.1V398.00H331.6zM338.9 396.40H346.4V398.00H338.9zM346.2 396.40H353.6V398.00H346.2zM353.4 396.40H360.9V398.00H353.4zM360.7 396.40H368.2V398.00H360.7zM368.0 396.40H375.6V398.00H368.0zM375.4 396.40H383.0V398.00H375.4zM382.8 396.40H390.4V398.00H382.8zM390.2 396.40H397.8V398.00H390.2zM397.6 396.40H405.2V398.00H397.6zM405.1 396.40H412.7V398.00H405.1zM412.5 396.40H420.1V398.00H412.5zM419.9 396.40H427.5V398.00H419.9zM427.3 396.40H434.9V398.00H427.3zM434.7 396.40H442.3V398.00H434.7zM442.1 396.40H449.7V398.00H442.1zM449.5 396.40H457.1V398.00H449.5zM456.9 396.40H464.5V398.00H456.9zM464.3 396.40H471.9V398.00H464.3zM302.5 404.80H309.9V406.40H302.5zM302.5 406.10H309.9V407.70H302.5zM302.5 408.70H309.9V410.30H302.5zM316.9 408.70H324.2V410.30H316.9zM302.5 411.30H309.9V412.90H302.5zM302.5 413.90H309.9V415.50H302.5zM302.5 416.50H309.9V418.10H302.5zM316.9 416.50H324.2V418.10H316.9zM302.5 417.80H309.9V419.40H302.5zM302.5 419.10H309.9V420.70H302.5zM316.9 419.10H324.2V420.70H316.9zM302.5 425.60H309.9V427.20H302.5zM397.6 425.60H405.2V427.20H397.6zM316.9 429.50H324.2V431.10H316.9z" fill="#c73578"/>
<path d="M449.5 328.73H457.1V330.33H449.5zM331.6 333.94H339.1V335.54H331.6zM360.7 336.54H368.2V338.14H360.7zM442.1 340.44H449.7V342.04H442.1zM368.0 352.15H375.6V353.76H368.0zM382.8 357.36H390.4V358.96H382.8z" fill="#ecd9e1"/>
<path d="M456.9 328.73H464.5V330.33H456.9zM368.0 356.06H375.6V357.66H368.0zM419.9 358.66H427.5V360.26H419.9zM434.7 372.98H442.3V374.58H434.7zM434.7 374.28H442.3V375.88H434.7zM390.2 387.29H397.8V388.89H390.2zM353.4 403.50H360.9V405.10H353.4zM368.0 436.70H375.6V438.32H368.0zM338.9 452.58H346.4V454.20H338.9z" fill="#ebcfdb"/>
<path d="M472.0 328.73H479.2V330.33H472.0zM472.0 350.85H479.2V352.45H472.0zM456.9 363.87H464.5V365.47H456.9zM331.6 370.37H339.1V371.97H331.6zM472.0 415.20H479.2V416.80H472.0zM368.0 420.40H375.6V422.00H368.0zM368.0 423.00H375.6V424.60H368.0zM472.0 452.58H479.2V454.20H472.0z" fill="#d2548d"/>
<path d="M375.4 330.03H383.0V331.63H375.4zM353.4 331.33H360.9V332.93H353.4zM442.1 343.04H449.7V344.65H442.1zM353.4 356.06H360.9V357.66H353.4zM390.2 367.77H397.8V369.37H390.2zM464.3 369.07H471.9V370.67H464.3zM390.2 399.60H397.8V401.20H390.2zM412.5 407.40H420.1V409.00H412.5zM464.3 408.70H471.9V410.30H464.3zM456.9 411.30H464.5V412.90H456.9zM375.4 451.26H383.0V452.88H375.4zM390.2 453.90H397.8V455.53H390.2z" fill="#ecd4de"/>
<path d="M456.9 330.03H464.5V331.63H456.9zM360.7 341.74H368.2V343.34H360.7zM419.9 341.74H427.5V343.34H419.9zM346.2 344.35H353.6V345.95H346.2zM412.5 362.56H420.1V364.17H412.5zM390.2 384.69H397.8V386.29H390.2zM353.4 400.90H360.9V402.50H353.4zM338.9 402.20H346.4V403.80H338.9zM405.1 406.10H412.7V407.70H405.1zM397.6 410.00H405.2V411.60H397.6z" fill="#ebd0dc"/>
<path d="M472.0 330.03H479.2V331.63H472.0zM382.8 367.77H390.4V369.37H382.8zM382.8 372.98H390.4V374.58H382.8zM427.3 378.18H434.9V379.78H427.3zM331.6 384.69H339.1V386.29H331.6zM338.9 391.19H346.4V392.79H338.9zM412.5 391.19H420.1V392.79H412.5z" fill="#d55c92"/>
<path d="M346.2 331.33H353.6V332.93H346.2zM442.1 341.74H449.7V343.34H442.1zM397.6 357.36H405.2V358.96H397.6zM390.2 359.96H397.8V361.56H390.2zM412.5 367.77H420.1V369.37H412.5zM434.7 408.70H442.3V410.30H434.7zM382.8 445.96H390.4V447.59H382.8z" fill="#ede2e7"/>
<path d="M449.5 331.33H457.1V332.93H449.5zM353.4 335.24H360.9V336.84H353.4zM353.4 336.54H360.9V338.14H353.4zM331.6 337.84H339.1V339.44H331.6zM382.8 345.65H390.4V347.25H382.8zM353.4 348.25H360.9V349.85H353.4zM427.3 348.25H434.9V349.85H427.3zM427.3 350.85H434.9V352.45H427.3zM375.4 354.76H383.0V356.36H375.4zM397.6 356.06H405.2V357.66H397.6zM346.2 359.96H353.6V361.56H346.2zM442.1 361.26H449.7V362.86H442.1zM427.3 367.77H434.9V369.37H427.3zM360.7 400.90H368.2V402.50H360.7zM368.0 406.10H375.6V407.70H368.0zM375.4 406.10H383.0V407.70H375.4zM449.5 406.10H457.1V407.70H449.5zM412.5 408.70H420.1V410.30H412.5zM427.3 408.70H434.9V410.30H427.3zM346.2 410.00H353.6V411.60H346.2zM449.5 419.10H457.1V420.70H449.5zM353.4 452.58H360.9V454.20H353.4z" fill="#ebcdda"/>
<path d="M456.9 331.33H464.5V332.93H456.9zM346.2 336.54H353.6V338.14H346.2zM346.2 343.04H353.6V344.65H346.2zM456.9 353.46H464.5V355.06H456.9zM360.7 365.17H368.2V366.77H360.7zM382.8 399.60H390.4V401.20H382.8zM353.4 402.20H360.9V403.80H353.4zM419.9 407.40H427.5V409.00H419.9zM434.7 456.55H442.3V458.18H434.7z" fill="#ebcedb"/>
<path d="M302.5 332.63H309.9V334.24H302.5zM302.5 340.44H309.9V342.04H302.5zM302.5 361.26H309.9V362.86H302.5zM302.5 367.77H309.9V369.37H302.5zM302.5 372.98H309.9V374.58H302.5zM302.5 374.28H309.9V375.88H302.5zM302.5 382.08H309.9V383.69H302.5zM464.3 384.69H471.9V386.29H464.3zM338.9 389.89H346.4V391.49H338.9zM397.6 424.30H405.2V425.90H397.6z" fill="#cd4684"/>
<path d="M353.4 332.63H360.9V334.24H353.4zM360.7 346.95H368.2V348.55H360.7zM427.3 349.55H434.9V351.15H427.3zM331.6 363.87H339.1V365.47H331.6zM434.7 375.58H442.3V377.18H434.7zM419.9 399.60H427.5V401.20H419.9zM360.7 407.40H368.2V409.00H360.7zM360.7 417.80H368.2V419.40H360.7zM464.3 452.58H471.9V454.20H464.3z" fill="#eac5d5"/>
<path d="M375.4 332.63H383.0V334.24H375.4zM338.9 341.74H346.4V343.34H338.9zM360.7 343.04H368.2V344.65H360.7zM360.7 345.65H368.2V347.25H360.7zM338.9 346.95H346.4V348.55H338.9zM390.2 363.87H397.8V365.47H390.2zM390.2 365.17H397.8V366.77H390.2zM434.7 370.37H442.3V371.97H434.7zM434.7 371.67H442.3V373.27H434.7zM390.2 382.08H397.8V383.69H390.2zM382.8 407.40H390.4V409.00H382.8z" fill="#ecd3de"/>
<path d="M449.5 332.63H457.1V334.24H449.5zM456.9 336.54H464.5V338.14H456.9zM382.8 348.25H390.4V349.85H382.8zM360.7 349.55H368.2V351.15H360.7zM397.6 358.66H405.2V360.26H397.6zM360.7 403.50H368.2V405.10H360.7zM338.9 415.20H346.4V416.80H338.9zM434.7 419.10H442.3V420.70H434.7zM390.2 455.23H397.8V456.85H390.2z" fill="#eac3d4"/>
<path d="M456.9 332.63H464.5V334.24H456.9zM397.6 452.58H405.2V454.20H397.6z" fill="#eac4d5"/>
<path d="M472.0 332.63H479.2V334.24H472.0zM368.0 385.99H375.6V387.59H368.0zM353.4 416.50H360.9V418.10H353.4zM412.5 421.70H420.1V423.30H412.5zM375.4 456.55H383.0V458.18H375.4z" fill="#de74a2"/>
<path d="M309.7 333.94H317.1V335.54H309.7zM309.7 336.54H317.1V338.14H309.7zM309.7 345.65H317.1V347.25H309.7zM419.9 363.87H427.5V365.47H419.9zM309.7 367.77H317.1V369.37H309.7zM309.7 369.07H317.1V370.67H309.7zM309.7 370.37H317.1V371.97H309.7zM346.2 370.37H353.6V371.97H346.2zM324.0 402.20H330.9V403.80H324.0zM309.7 403.50H317.1V405.10H309.7zM324.0 403.50H330.9V405.10H324.0zM324.0 406.10H330.9V407.70H324.0zM309.7 413.90H317.1V415.50H309.7zM324.0 413.90H330.9V415.50H324.0zM324.0 415.20H330.9V416.80H324.0zM309.7 416.50H317.1V418.10H309.7zM324.0 417.80H330.9V419.40H324.0zM331.6 417.80H339.1V419.40H331.6zM324.0 419.10H330.9V420.70H324.0zM324.0 426.90H330.9V428.50H324.0zM316.9 451.26H324.2V452.88H316.9zM324.0 451.26H330.9V452.88H324.0zM324.0 453.90H330.9V455.53H324.0z" fill="#e280aa"/>
<path d="M353.4 333.94H360.9V335.54H353.4zM353.4 337.84H360.9V339.44H353.4zM375.4 337.84H383.0V339.44H375.4zM353.4 341.74H360.9V343.34H353.4zM331.6 346.95H339.1V348.55H331.6zM412.5 402.20H420.1V403.80H412.5zM338.9 403.50H346.4V405.10H338.9zM382.8 404.80H390.4V406.40H382.8zM368.0 452.58H375.6V454.20H368.0zM427.3 452.58H434.9V454.20H427.3zM338.9 453.90H346.4V455.53H338.9zM442.1 453.90H449.7V455.53H442.1z" fill="#eac4d4"/>
<path d="M449.5 333.94H457.1V335.54H449.5zM412.5 415.20H420.1V416.80H412.5z" fill="#e9b9ce"/>
<path d="M456.9 333.94H464.5V335.54H456.9zM346.2 339.14H353.6V340.74H346.2zM442.1 345.65H449.7V347.25H442.1zM405.1 358.66H412.7V360.26H405.1zM397.6 404.80H405.2V406.40H397.6zM405.1 410.00H412.7V411.60H405.1zM360.7 453.90H368.2V455.53H360.7zM397.6 453.90H405.2V455.53H397.6zM449.5 453.90H457.1V455.53H449.5z" fill="#eac8d7"/>
<path d="M472.0 333.94H479.2V335.54H472.0zM472.0 335.24H479.2V336.84H472.0zM397.6 376.88H405.2V378.48H397.6zM472.0 388.59H479.2V390.19H472.0zM397.6 420.40H405.2V422.00H397.6z" fill="#da6a9c"/>
<path d="M375.4 335.24H383.0V336.84H375.4zM353.4 346.95H360.9V348.55H353.4zM368.0 361.26H375.6V362.86H368.0zM464.3 376.88H471.9V378.48H464.3z" fill="#eac0d2"/>
<path d="M449.5 335.24H457.1V336.84H449.5zM331.6 339.14H339.1V340.74H331.6zM456.9 339.14H464.5V340.74H456.9zM405.1 357.36H412.7V358.96H405.1zM464.3 366.47H471.9V368.07H464.3zM434.7 376.88H442.3V378.48H434.7zM375.4 408.70H383.0V410.30H375.4zM360.7 426.90H368.2V428.50H360.7zM412.5 455.23H420.1V456.85H412.5z" fill="#eac1d2"/>
<path d="M456.9 335.24H464.5V336.84H456.9zM360.7 348.25H368.2V349.85H360.7zM442.1 357.36H449.7V358.96H442.1zM464.3 411.30H471.9V412.90H464.3zM338.9 412.60H346.4V414.20H338.9z" fill="#e8b2c9"/>
<path d="M375.4 336.54H383.0V338.14H375.4zM449.5 336.54H457.1V338.14H449.5zM331.6 341.74H339.1V343.34H331.6zM360.7 344.35H368.2V345.95H360.7zM397.6 361.26H405.2V362.86H397.6zM412.5 366.47H420.1V368.07H412.5zM456.9 399.60H464.5V401.20H456.9z" fill="#ebcad8"/>
<path d="M472.0 336.54H479.2V338.14H472.0z" fill="#d1528b"/>
<path d="M346.2 337.84H353.6V339.44H346.2zM419.9 344.35H427.5V345.95H419.9zM390.2 369.07H397.8V370.67H390.2zM331.6 400.90H339.1V402.50H331.6z" fill="#ebcbd9"/>
<path d="M360.7 337.84H368.2V339.44H360.7zM360.7 356.06H368.2V357.66H360.7zM412.5 363.87H420.1V365.47H412.5zM412.5 374.28H420.1V375.88H412.5z" fill="#ecd6df"/>
<path d="M449.5 337.84H457.1V339.44H449.5zM456.9 408.70H464.5V410.30H456.9zM368.0 411.30H375.6V412.90H368.0zM338.9 455.23H346.4V456.85H338.9z" fill="#e7adc6"/>
<path d="M456.9 337.84H464.5V339.44H456.9zM353.4 343.04H360.9V344.65H353.4zM375.4 348.25H383.0V349.85H375.4zM338.9 358.66H346.4V360.26H338.9zM405.1 359.96H412.7V361.56H405.1zM382.8 370.37H390.4V371.97H382.8zM434.7 383.39H442.3V384.99H434.7zM331.6 406.10H339.1V407.70H331.6zM456.9 410.00H464.5V411.60H456.9zM427.3 425.60H434.9V427.20H427.3zM419.9 455.23H427.5V456.85H419.9z" fill="#e8b0c8"/>
<path d="M472.0 337.84H479.2V339.44H472.0zM405.1 387.29H412.7V388.89H405.1z" fill="#c63276"/>
<path d="M353.4 339.14H360.9V340.74H353.4zM449.5 339.14H457.1V340.74H449.5zM442.1 348.25H449.7V349.85H442.1zM442.1 352.15H449.7V353.76H442.1zM405.1 356.06H412.7V357.66H405.1zM368.0 358.66H375.6V360.26H368.0zM434.7 379.48H442.3V381.08H434.7zM360.7 404.80H368.2V406.40H360.7zM338.9 407.40H346.4V409.00H338.9zM382.8 408.70H390.4V410.30H382.8zM412.5 423.00H420.1V424.60H412.5zM382.8 453.90H390.4V455.53H382.8z" fill="#eac2d3"/>
<path d="M375.4 339.14H383.0V340.74H375.4zM382.8 349.55H390.4V351.15H382.8zM449.5 349.55H457.1V351.15H449.5z" fill="#ebc9d8"/>
<path d="M442.1 339.14H449.7V340.74H442.1zM464.3 359.96H471.9V361.56H464.3zM368.0 404.80H375.6V406.40H368.0zM360.7 451.26H368.2V452.88H360.7z" fill="#eee2e7"/>
<path d="M472.0 339.14H479.2V340.74H472.0zM449.5 383.39H457.1V384.99H449.5zM405.1 384.69H412.7V386.29H405.1zM405.1 388.59H412.7V390.19H405.1z" fill="#c93c7d"/>
<path d="M331.6 340.44H339.1V342.04H331.6zM427.3 352.15H434.9V353.76H427.3zM427.3 353.46H434.9V355.06H427.3zM346.2 403.50H353.6V405.10H346.2zM338.9 404.80H346.4V406.40H338.9z" fill="#e9c0d2"/>
<path d="M338.9 340.44H346.4V342.04H338.9zM419.9 343.04H427.5V344.65H419.9zM338.9 345.65H346.4V347.25H338.9zM442.1 346.95H449.7V348.55H442.1zM368.0 366.47H375.6V368.07H368.0zM390.2 366.47H397.8V368.07H390.2zM346.2 400.90H353.6V402.50H346.2zM390.2 404.80H397.8V406.40H390.2zM382.8 406.10H390.4V407.70H382.8zM390.2 412.60H397.8V414.20H390.2zM331.6 452.58H339.1V454.20H331.6zM360.7 452.58H368.2V454.20H360.7z" fill="#ecd2dd"/>
<path d="M346.2 340.44H353.6V342.04H346.2zM331.6 343.04H339.1V344.65H331.6zM331.6 345.65H339.1V347.25H331.6zM368.0 357.36H375.6V358.96H368.0zM434.7 399.60H442.3V401.20H434.7zM368.0 408.70H375.6V410.30H368.0zM464.3 410.00H471.9V411.60H464.3zM390.2 413.90H397.8V415.50H390.2zM346.2 434.05H353.6V435.67H346.2zM405.1 452.58H412.7V454.20H405.1z" fill="#eac7d6"/>
<path d="M353.4 340.44H360.9V342.04H353.4zM390.2 371.67H397.8V373.27H390.2zM338.9 408.70H346.4V410.30H338.9zM449.5 410.00H457.1V411.60H449.5zM442.1 412.60H449.7V414.20H442.1zM375.4 452.58H383.0V454.20H375.4zM368.0 453.90H375.6V455.53H368.0zM464.3 456.55H471.9V458.18H464.3z" fill="#e9b8cd"/>
<path d="M375.4 340.44H383.0V342.04H375.4zM427.3 369.07H434.9V370.67H427.3zM368.0 410.00H375.6V411.60H368.0z" fill="#e9bed1"/>
<path d="M449.5 340.44H457.1V342.04H449.5zM397.6 367.77H405.2V369.37H397.6zM375.4 370.37H383.0V371.97H375.4zM390.2 385.99H397.8V387.59H390.2zM353.4 406.10H360.9V407.70H353.4zM390.2 421.70H397.8V423.30H390.2z" fill="#e6a2bf"/>
<path d="M456.9 340.44H464.5V342.04H456.9zM456.9 341.74H464.5V343.34H456.9zM360.7 352.15H368.2V353.76H360.7zM434.7 385.99H442.3V387.59H434.7zM360.7 408.70H368.2V410.30H360.7zM346.2 417.80H353.6V419.40H346.2z" fill="#e9bace"/>
<path d="M472.0 340.44H479.2V342.04H472.0zM456.9 369.07H464.5V370.67H456.9zM382.8 374.28H390.4V375.88H382.8zM375.4 378.18H383.0V379.78H375.4zM382.8 379.48H390.4V381.08H382.8zM442.1 379.48H449.7V381.08H442.1zM368.0 380.78H375.6V382.38H368.0zM456.9 384.69H464.5V386.29H456.9zM442.1 423.00H449.7V424.60H442.1zM419.9 425.60H427.5V427.20H419.9zM449.5 426.90H457.1V428.50H449.5z" fill="#c8397b"/>
<path d="M346.2 341.74H353.6V343.34H346.2zM382.8 346.95H390.4V348.55H382.8zM375.4 404.80H383.0V406.40H375.4zM353.4 415.20H360.9V416.80H353.4zM456.9 452.58H464.5V454.20H456.9z" fill="#ebceda"/>
<path d="M375.4 341.74H383.0V343.34H375.4zM338.9 348.25H346.4V349.85H338.9zM412.5 370.37H420.1V371.97H412.5zM442.1 452.58H449.7V454.20H442.1zM412.5 453.90H420.1V455.53H412.5zM390.2 456.55H397.8V458.18H390.2z" fill="#e9bfd1"/>
<path d="M472.0 341.74H479.2V343.34H472.0zM405.1 372.98H412.7V374.58H405.1zM442.1 372.98H449.7V374.58H442.1zM360.7 374.28H368.2V375.88H360.7zM338.9 385.99H346.4V387.59H338.9zM472.0 387.29H479.2V388.89H472.0z" fill="#d66095"/>
<path d="M338.9 343.04H346.4V344.65H338.9zM449.5 348.25H457.1V349.85H449.5zM390.2 362.56H397.8V364.17H390.2zM338.9 400.90H346.4V402.50H338.9zM434.7 412.60H442.3V414.20H434.7zM434.7 413.90H442.3V415.50H434.7z" fill="#ebd1dc"/>
<path d="M375.4 343.04H383.0V344.65H375.4zM338.9 354.76H346.4V356.36H338.9zM382.8 411.30H390.4V412.90H382.8zM360.7 455.23H368.2V456.85H360.7z" fill="#e6a6c2"/>
<path d="M449.5 343.04H457.1V344.65H449.5zM427.3 356.06H434.9V357.66H427.3zM427.3 358.66H434.9V360.26H427.3zM427.3 362.56H434.9V364.17H427.3zM449.5 380.78H457.1V382.38H449.5zM405.1 412.60H412.7V414.20H405.1zM449.5 412.60H457.1V414.20H449.5zM464.3 455.23H471.9V456.85H464.3z" fill="#e7a7c2"/>
<path d="M456.9 343.04H464.5V344.65H456.9zM427.3 357.36H434.9V358.96H427.3zM412.5 371.67H420.1V373.27H412.5zM464.3 372.98H471.9V374.58H464.3zM360.7 388.59H368.2V390.19H360.7zM346.2 406.10H353.6V407.70H346.2z" fill="#e7aac4"/>
<path d="M472.0 343.04H479.2V344.65H472.0zM472.0 367.77H479.2V369.37H472.0zM472.0 370.37H479.2V371.97H472.0zM456.9 425.60H464.5V427.20H456.9z" fill="#c42e74"/>
<path d="M353.4 344.35H360.9V345.95H353.4zM449.5 346.95H457.1V348.55H449.5zM456.9 348.25H464.5V349.85H456.9zM360.7 359.96H368.2V361.56H360.7zM338.9 367.77H346.4V369.37H338.9zM390.2 374.28H397.8V375.88H390.2zM464.3 391.19H471.9V392.79H464.3zM338.9 413.90H346.4V415.50H338.9zM419.9 421.70H427.5V423.30H419.9z" fill="#e7a8c3"/>
<path d="M442.1 344.35H449.7V345.95H442.1zM368.0 363.87H375.6V365.47H368.0zM368.0 407.40H375.6V409.00H368.0zM464.3 407.40H471.9V409.00H464.3z" fill="#ecd6e0"/>
<path d="M449.5 344.35H457.1V345.95H449.5zM331.6 359.96H339.1V361.56H331.6zM353.4 382.08H360.9V383.69H353.4zM434.7 421.70H442.3V423.30H434.7zM456.9 453.90H464.5V455.53H456.9zM412.5 457.88H420.1V459.50H412.5z" fill="#e7abc5"/>
<path d="M456.9 344.35H464.5V345.95H456.9zM331.6 403.50H339.1V405.10H331.6zM360.7 406.10H368.2V407.70H360.7zM412.5 413.90H420.1V415.50H412.5z" fill="#e9bbcf"/>
<path d="M472.0 344.35H479.2V345.95H472.0zM456.9 362.56H464.5V364.17H456.9zM419.9 365.17H427.5V366.77H419.9zM449.5 374.28H457.1V375.88H449.5zM405.1 375.58H412.7V377.18H405.1zM338.9 379.48H346.4V381.08H338.9zM442.1 382.08H449.7V383.69H442.1zM360.7 383.39H368.2V384.99H360.7zM472.0 383.39H479.2V384.99H472.0zM472.0 395.10H479.2V396.70H472.0zM353.4 413.90H360.9V415.50H353.4zM405.1 420.40H412.7V422.00H405.1zM382.8 421.70H390.4V423.30H382.8zM346.2 424.30H353.6V425.90H346.2zM375.4 424.30H383.0V425.90H375.4zM472.0 424.30H479.2V425.90H472.0zM405.1 456.55H412.7V458.18H405.1zM405.1 457.88H412.7V459.50H405.1z" fill="#d9689a"/>
<path d="M346.2 345.65H353.6V347.25H346.2zM397.6 353.46H405.2V355.06H397.6zM390.2 406.10H397.8V407.70H390.2zM375.4 407.40H383.0V409.00H375.4zM397.6 411.30H405.2V412.90H397.6zM434.7 452.58H442.3V454.20H434.7z" fill="#eddee5"/>
<path d="M353.4 345.65H360.9V347.25H353.4zM353.4 349.55H360.9V351.15H353.4zM419.9 359.96H427.5V361.56H419.9zM449.5 359.96H457.1V361.56H449.5zM360.7 367.77H368.2V369.37H360.7zM390.2 378.18H397.8V379.78H390.2zM456.9 382.08H464.5V383.69H456.9zM368.0 412.60H375.6V414.20H368.0zM464.3 415.20H471.9V416.80H464.3zM397.6 455.23H405.2V456.85H397.6z" fill="#e59dbc"/>
<path d="M375.4 345.65H383.0V347.25H375.4zM331.6 348.25H339.1V349.85H331.6zM419.9 354.76H427.5V356.36H419.9zM360.7 366.47H368.2V368.07H360.7zM353.4 408.70H360.9V410.30H353.4zM331.6 410.00H339.1V411.60H331.6zM338.9 410.00H346.4V411.60H338.9zM464.3 417.80H471.9V419.40H464.3zM390.2 424.30H397.8V425.90H390.2zM405.1 455.23H412.7V456.85H405.1zM338.9 456.55H346.4V458.18H338.9z" fill="#e6a0be"/>
<path d="M419.9 345.65H427.5V347.25H419.9zM382.8 363.87H390.4V365.47H382.8zM331.6 378.18H339.1V379.78H331.6zM434.7 380.78H442.3V382.38H434.7zM405.1 408.70H412.7V410.30H405.1z" fill="#eac6d6"/>
<path d="M449.5 345.65H457.1V347.25H449.5zM338.9 370.37H346.4V371.97H338.9zM390.2 391.19H397.8V392.79H390.2z" fill="#e59cbc"/>
<path d="M456.9 345.65H464.5V347.25H456.9zM419.9 353.46H427.5V355.06H419.9zM346.2 361.26H353.6V362.86H346.2zM412.5 383.39H420.1V384.99H412.5zM412.5 387.29H420.1V388.89H412.5z" fill="#e59bbb"/>
<path d="M472.0 345.65H479.2V347.25H472.0zM331.6 388.59H339.1V390.19H331.6zM405.1 392.49H412.7V394.10H405.1zM346.2 393.80H353.6V395.40H346.2zM442.1 428.20H449.7V429.80H442.1z" fill="#c8377a"/>
<path d="M346.2 346.95H353.6V348.55H346.2zM331.6 357.36H339.1V358.96H331.6zM419.9 357.36H427.5V358.96H419.9zM456.9 367.77H464.5V369.37H456.9zM456.9 379.48H464.5V381.08H456.9zM412.5 392.49H420.1V394.10H412.5zM419.9 410.00H427.5V411.60H419.9zM397.6 412.60H405.2V414.20H397.6zM390.2 417.80H397.8V419.40H390.2zM427.3 420.40H434.9V422.00H427.3z" fill="#e8b5cb"/>
<path d="M375.4 346.95H383.0V348.55H375.4zM331.6 349.55H339.1V351.15H331.6zM427.3 359.96H434.9V361.56H427.3zM427.3 382.08H434.9V383.69H427.3zM331.6 404.80H339.1V406.40H331.6zM346.2 404.80H353.6V406.40H346.2zM456.9 407.40H464.5V409.00H456.9zM382.8 420.40H390.4V422.00H382.8zM427.3 453.90H434.9V455.53H427.3zM442.1 455.23H449.7V456.85H442.1zM434.7 457.88H442.3V459.50H434.7z" fill="#e9bdd0"/>
<path d="M419.9 346.95H427.5V348.55H419.9zM382.8 353.46H390.4V355.06H382.8zM338.9 357.36H346.4V358.96H338.9zM449.5 378.18H457.1V379.78H449.5zM464.3 412.60H471.9V414.20H464.3z" fill="#e9bccf"/>
<path d="M456.9 346.95H464.5V348.55H456.9zM346.2 408.70H353.6V410.30H346.2zM368.0 413.90H375.6V415.50H368.0zM412.5 419.10H420.1V420.70H412.5zM434.7 425.60H442.3V427.20H434.7zM434.7 428.20H442.3V429.80H434.7z" fill="#e493b6"/>
<path d="M472.0 346.95H479.2V348.55H472.0zM338.9 383.39H346.4V384.99H338.9zM412.5 388.59H420.1V390.19H412.5zM472.0 389.89H479.2V391.49H472.0zM338.9 392.49H346.4V394.10H338.9z" fill="#d76397"/>
<path d="M346.2 348.25H353.6V349.85H346.2zM382.8 358.66H390.4V360.26H382.8zM397.6 363.87H405.2V365.47H397.6zM390.2 419.10H397.8V420.70H390.2zM360.7 457.88H368.2V459.50H360.7zM390.2 457.88H397.8V459.50H390.2z" fill="#e7afc7"/>
<path d="M368.0 348.25H375.6V349.85H368.0z" fill="#eee5e8"/>
<path d="M419.9 348.25H427.5V349.85H419.9zM427.3 361.26H434.9V362.86H427.3zM405.1 363.87H412.7V365.47H405.1zM390.2 375.58H397.8V377.18H390.2zM419.9 419.10H427.5V420.70H419.9z" fill="#e8b6cb"/>
<path d="M472.0 348.25H479.2V349.85H472.0zM353.4 370.37H360.9V371.97H353.4zM427.3 376.88H434.9V378.48H427.3z" fill="#d65e93"/>
<path d="M338.9 349.55H346.4V351.15H338.9zM412.5 369.07H420.1V370.67H412.5zM464.3 403.50H471.9V405.10H464.3zM456.9 406.10H464.5V407.70H456.9zM390.2 411.30H397.8V412.90H390.2zM412.5 412.60H420.1V414.20H412.5zM419.9 412.60H427.5V414.20H419.9zM390.2 416.50H397.8V418.10H390.2zM434.7 455.23H442.3V456.85H434.7z" fill="#ebc9d7"/>
<path d="M346.2 349.55H353.6V351.15H346.2zM360.7 353.46H368.2V355.06H360.7zM338.9 361.26H346.4V362.86H338.9zM434.7 423.00H442.3V424.60H434.7zM324.0 449.93H330.9V451.56H324.0zM324.0 452.58H330.9V454.20H324.0zM324.0 455.23H330.9V456.85H324.0z" fill="#e7acc6"/>
<path d="M375.4 349.55H383.0V351.15H375.4zM464.3 370.37H471.9V371.97H464.3zM390.2 393.80H397.8V395.40H390.2zM375.4 455.23H383.0V456.85H375.4zM360.7 456.55H368.2V458.18H360.7z" fill="#e387ae"/>
<path d="M419.9 349.55H427.5V351.15H419.9zM338.9 350.85H346.4V352.45H338.9zM464.3 363.87H471.9V365.47H464.3zM434.7 378.18H442.3V379.78H434.7zM346.2 452.58H353.6V454.20H346.2z" fill="#e9bed0"/>
<path d="M442.1 349.55H449.7V351.15H442.1zM449.5 366.47H457.1V368.07H449.5zM360.7 378.18H368.2V379.78H360.7zM353.4 399.60H360.9V401.20H353.4zM331.6 402.20H339.1V403.80H331.6zM346.2 402.20H353.6V403.80H346.2zM434.7 415.20H442.3V416.80H434.7z" fill="#ebccd9"/>
<path d="M456.9 349.55H464.5V351.15H456.9zM449.5 353.46H457.1V355.06H449.5zM449.5 356.06H457.1V357.66H449.5zM449.5 357.36H457.1V358.96H449.5zM442.1 365.17H449.7V366.77H442.1zM405.1 366.47H412.7V368.07H405.1zM412.5 372.98H420.1V374.58H412.5zM331.6 407.40H339.1V409.00H331.6zM368.0 455.23H375.6V456.85H368.0z" fill="#e69fbd"/>
<path d="M472.0 349.55H479.2V351.15H472.0zM442.1 389.89H449.7V391.49H442.1zM472.0 393.80H479.2V395.40H472.0zM456.9 426.90H464.5V428.50H456.9zM353.4 428.20H360.9V429.80H353.4z" fill="#cb4180"/>
<path d="M331.6 350.85H339.1V352.45H331.6zM397.6 362.56H405.2V364.17H397.6zM427.3 363.87H434.9V365.47H427.3zM427.3 366.47H434.9V368.07H427.3zM412.5 379.48H420.1V381.08H412.5zM412.5 385.99H420.1V387.59H412.5zM397.6 413.90H405.2V415.50H397.6zM338.9 416.50H346.4V418.10H338.9zM434.7 426.90H442.3V428.50H434.7z" fill="#e6a3c0"/>
<path d="M346.2 350.85H353.6V352.45H346.2zM390.2 376.88H397.8V378.48H390.2zM346.2 407.40H353.6V409.00H346.2z" fill="#e8b6cc"/>
<path d="M353.4 350.85H360.9V352.45H353.4zM346.2 353.46H353.6V355.06H346.2zM442.1 354.76H449.7V356.36H442.1zM353.4 357.36H360.9V358.96H353.4zM360.7 363.87H368.2V365.47H360.7zM464.3 371.67H471.9V373.27H464.3zM464.3 374.28H471.9V375.88H464.3zM419.9 411.30H427.5V412.90H419.9zM412.5 416.50H420.1V418.10H412.5z" fill="#e6a5c1"/>
<path d="M375.4 350.85H383.0V352.45H375.4zM427.3 412.60H434.9V414.20H427.3zM360.7 415.20H368.2V416.80H360.7zM449.5 416.50H457.1V418.10H449.5z" fill="#e491b5"/>
<path d="M382.8 350.85H390.4V352.45H382.8zM353.4 453.90H360.9V455.53H353.4z" fill="#e9bbce"/>
<path d="M419.9 350.85H427.5V352.45H419.9zM368.0 359.96H375.6V361.56H368.0z" fill="#eac1d3"/>
<path d="M442.1 350.85H449.7V352.45H442.1zM434.7 382.08H442.3V383.69H434.7zM353.4 385.99H360.9V387.59H353.4zM382.8 385.99H390.4V387.59H382.8zM338.9 406.10H346.4V407.70H338.9zM360.7 410.00H368.2V411.60H360.7zM405.1 411.30H412.7V412.90H405.1zM390.2 415.20H397.8V416.80H390.2zM427.3 455.23H434.9V456.85H427.3z" fill="#e8b7cc"/>
<path d="M449.5 350.85H457.1V352.45H449.5zM375.4 412.60H383.0V414.20H375.4zM368.0 457.88H375.6V459.50H368.0z" fill="#e388af"/>
<path d="M456.9 350.85H464.5V352.45H456.9zM449.5 370.37H457.1V371.97H449.5zM405.1 376.88H412.7V378.48H405.1zM442.1 413.90H449.7V415.50H442.1zM346.2 416.50H353.6V418.10H346.2zM338.9 425.60H346.4V427.20H338.9z" fill="#e17ea9"/>
<path d="M331.6 352.15H339.1V353.76H331.6zM464.3 367.77H471.9V369.37H464.3zM390.2 420.40H397.8V422.00H390.2z" fill="#e7aec6"/>
<path d="M346.2 352.15H353.6V353.76H346.2zM419.9 352.15H427.5V353.76H419.9zM338.9 353.46H346.4V355.06H338.9zM338.9 365.17H346.4V366.77H338.9zM442.1 375.58H449.7V377.18H442.1zM375.4 410.00H383.0V411.60H375.4zM464.3 428.20H471.9V429.80H464.3zM464.3 453.90H471.9V455.53H464.3z" fill="#e8b1c9"/>
<path d="M353.4 352.15H360.9V353.76H353.4z" fill="#e7a7c3"/>
<path d="M375.4 352.15H383.0V353.76H375.4zM456.9 412.60H464.5V414.20H456.9z" fill="#e387af"/>
<path d="M449.5 352.15H457.1V353.76H449.5zM382.8 356.06H390.4V357.66H382.8zM382.8 362.56H390.4V364.17H382.8zM434.7 388.59H442.3V390.19H434.7zM464.3 413.90H471.9V415.50H464.3z" fill="#e69ebd"/>
<path d="M456.9 352.15H464.5V353.76H456.9zM442.1 356.06H449.7V357.66H442.1zM331.6 365.17H339.1V366.77H331.6zM368.0 370.37H375.6V371.97H368.0zM338.9 378.18H346.4V379.78H338.9zM419.9 379.48H427.5V381.08H419.9zM405.1 393.80H412.7V395.40H405.1zM412.5 424.30H420.1V425.90H412.5zM382.8 455.23H390.4V456.85H382.8z" fill="#e59aba"/>
<path d="M472.0 352.15H479.2V353.76H472.0zM405.1 371.67H412.7V373.27H405.1zM449.5 372.98H457.1V374.58H449.5zM382.8 376.88H390.4V378.48H382.8zM442.1 376.88H449.7V378.48H442.1zM472.0 402.20H479.2V403.80H472.0zM382.8 417.80H390.4V419.40H382.8zM331.6 456.55H339.1V458.18H331.6z" fill="#de75a3"/>
<path d="M331.6 353.46H339.1V355.06H331.6zM382.8 359.96H390.4V361.56H382.8zM338.9 363.87H346.4V365.47H338.9z" fill="#e8b4ca"/>
<path d="M353.4 353.46H360.9V355.06H353.4zM368.0 378.18H375.6V379.78H368.0zM456.9 415.20H464.5V416.80H456.9zM353.4 419.10H360.9V420.70H353.4z" fill="#e17ea8"/>
<path d="M375.4 353.46H383.0V355.06H375.4zM464.3 365.17H471.9V366.77H464.3zM390.2 379.48H397.8V381.08H390.2zM419.9 393.80H427.5V395.40H419.9zM412.5 417.80H420.1V419.40H412.5zM346.2 453.90H353.6V455.53H346.2z" fill="#e6a4c0"/>
<path d="M442.1 353.46H449.7V355.06H442.1zM368.0 362.56H375.6V364.17H368.0zM390.2 372.98H397.8V374.58H390.2zM449.5 455.23H457.1V456.85H449.5z" fill="#e7acc5"/>
<path d="M464.3 353.46H471.9V355.06H464.3zM412.5 378.18H420.1V379.78H412.5zM442.1 451.26H449.7V452.88H442.1z" fill="#ecdae2"/>
<path d="M472.0 353.46H479.2V355.06H472.0zM456.9 356.06H464.5V357.66H456.9zM331.6 362.56H339.1V364.17H331.6zM427.3 370.37H434.9V371.97H427.3zM331.6 372.98H339.1V374.58H331.6zM338.9 420.40H346.4V422.00H338.9zM456.9 456.55H464.5V458.18H456.9z" fill="#df77a4"/>
<path d="M331.6 354.76H339.1V356.36H331.6zM353.4 359.96H360.9V361.56H353.4zM331.6 408.70H339.1V410.30H331.6zM464.3 457.88H471.9V459.50H464.3z" fill="#e389af"/>
<path d="M346.2 354.76H353.6V356.36H346.2zM360.7 354.76H368.2V356.36H360.7zM405.1 365.17H412.7V366.77H405.1z" fill="#e7a9c3"/>
<path d="M353.4 354.76H360.9V356.36H353.4zM397.6 369.07H405.2V370.67H397.6zM360.7 411.30H368.2V412.90H360.7zM397.6 417.80H405.2V419.40H397.6z" fill="#e597b8"/>
<path d="M382.8 354.76H390.4V356.36H382.8zM338.9 359.96H346.4V361.56H338.9zM346.2 362.56H353.6V364.17H346.2zM419.9 453.90H427.5V455.53H419.9z" fill="#e6a1be"/>
<path d="M397.6 354.76H405.2V356.36H397.6zM405.1 354.76H412.7V356.36H405.1zM390.2 451.26H397.8V452.88H390.2zM434.7 451.26H442.3V452.88H434.7z" fill="#eee6ea"/>
<path d="M427.3 354.76H434.9V356.36H427.3zM464.3 358.66H471.9V360.26H464.3zM397.6 359.96H405.2V361.56H397.6zM412.5 365.17H420.1V366.77H412.5zM390.2 370.37H397.8V371.97H390.2zM419.9 403.50H427.5V405.10H419.9zM353.4 404.80H360.9V406.40H353.4zM442.1 408.70H449.7V410.30H442.1zM382.8 410.00H390.4V411.60H382.8zM442.1 415.20H449.7V416.80H442.1zM449.5 452.58H457.1V454.20H449.5z" fill="#eac6d5"/>
<path d="M449.5 354.76H457.1V356.36H449.5zM375.4 358.66H383.0V360.26H375.4zM442.1 366.47H449.7V368.07H442.1zM353.4 367.77H360.9V369.37H353.4zM360.7 370.37H368.2V371.97H360.7zM456.9 380.78H464.5V382.38H456.9zM375.4 411.30H383.0V412.90H375.4zM375.4 413.90H383.0V415.50H375.4zM442.1 416.50H449.7V418.10H442.1zM472.0 456.55H479.2V458.18H472.0zM456.9 457.88H464.5V459.50H456.9z" fill="#e48fb3"/>
<path d="M456.9 354.76H464.5V356.36H456.9zM472.0 365.17H479.2V366.77H472.0zM449.5 369.07H457.1V370.67H449.5zM405.1 378.18H412.7V379.78H405.1zM360.7 382.08H368.2V383.69H360.7zM346.2 413.90H353.6V415.50H346.2zM442.1 419.10H449.7V420.70H442.1zM375.4 423.00H383.0V424.60H375.4z" fill="#d86598"/>
<path d="M472.0 354.76H479.2V356.36H472.0zM472.0 369.07H479.2V370.67H472.0zM456.9 421.70H464.5V423.30H456.9zM346.2 423.00H353.6V424.60H346.2z" fill="#c73679"/>
<path d="M338.9 356.06H346.4V357.66H338.9zM338.9 366.47H346.4V368.07H338.9zM434.7 384.69H442.3V386.29H434.7zM331.6 453.90H339.1V455.53H331.6z" fill="#e7aec7"/>
<path d="M346.2 356.06H353.6V357.66H346.2zM449.5 388.59H457.1V390.19H449.5zM338.9 419.10H346.4V420.70H338.9zM390.2 428.20H397.8V429.80H390.2zM472.0 453.90H479.2V455.53H472.0z" fill="#e38ab0"/>
<path d="M375.4 356.06H383.0V357.66H375.4zM442.1 362.56H449.7V364.17H442.1zM331.6 375.58H339.1V377.18H331.6zM368.0 415.20H375.6V416.80H368.0z" fill="#e281ab"/>
<path d="M419.9 356.06H427.5V357.66H419.9zM360.7 357.36H368.2V358.96H360.7zM338.9 362.56H346.4V364.17H338.9zM427.3 411.30H434.9V412.90H427.3zM434.7 417.80H442.3V419.40H434.7zM434.7 420.40H442.3V422.00H434.7zM346.2 455.23H353.6V456.85H346.2z" fill="#e8b3ca"/>
<path d="M472.0 356.06H479.2V357.66H472.0zM382.8 387.29H390.4V388.89H382.8zM412.5 426.90H420.1V428.50H412.5z" fill="#d3588f"/>
<path d="M375.4 357.36H383.0V358.96H375.4zM405.1 362.56H412.7V364.17H405.1z" fill="#e59cbb"/>
<path d="M456.9 357.36H464.5V358.96H456.9zM419.9 361.26H427.5V362.86H419.9zM338.9 369.07H346.4V370.67H338.9zM397.6 371.67H405.2V373.27H397.6zM360.7 423.00H368.2V424.60H360.7z" fill="#e386ae"/>
<path d="M472.0 357.36H479.2V358.96H472.0zM397.6 384.69H405.2V386.29H397.6zM331.6 391.19H339.1V392.79H331.6z" fill="#ca3d7d"/>
<path d="M331.6 358.66H339.1V360.26H331.6zM353.4 365.17H360.9V366.77H353.4zM397.6 370.37H405.2V371.97H397.6zM434.7 393.80H442.3V395.40H434.7zM353.4 412.60H360.9V414.20H353.4zM427.3 415.20H434.9V416.80H427.3zM390.2 426.90H397.8V428.50H390.2zM427.3 457.88H434.9V459.50H427.3z" fill="#e385ad"/>
<path d="M346.2 358.66H353.6V360.26H346.2zM375.4 361.26H383.0V362.86H375.4zM419.9 367.77H427.5V369.37H419.9zM353.4 369.07H360.9V370.67H353.4zM412.5 393.80H420.1V395.40H412.5zM472.0 413.90H479.2V415.50H472.0zM397.6 416.50H405.2V418.10H397.6zM405.1 419.10H412.7V420.70H405.1zM427.3 424.30H434.9V425.90H427.3zM346.2 456.55H353.6V458.18H346.2z" fill="#df78a5"/>
<path d="M353.4 358.66H360.9V360.26H353.4zM346.2 363.87H353.6V365.47H346.2zM427.3 374.28H434.9V375.88H427.3zM427.3 375.58H434.9V377.18H427.3zM419.9 417.80H427.5V419.40H419.9zM464.3 423.00H471.9V424.60H464.3zM368.0 456.55H375.6V458.18H368.0z" fill="#e07aa6"/>
<path d="M442.1 358.66H449.7V360.26H442.1zM412.5 410.00H420.1V411.60H412.5zM382.8 452.58H390.4V454.20H382.8z" fill="#ecd1dd"/>
<path d="M449.5 358.66H457.1V360.26H449.5zM412.5 375.58H420.1V377.18H412.5zM419.9 413.90H427.5V415.50H419.9z" fill="#e599ba"/>
<path d="M456.9 358.66H464.5V360.26H456.9zM346.2 365.17H353.6V366.77H346.2zM449.5 367.77H457.1V369.37H449.5zM405.1 369.07H412.7V370.67H405.1zM405.1 370.37H412.7V371.97H405.1zM360.7 371.67H368.2V373.27H360.7zM419.9 371.67H427.5V373.27H419.9zM390.2 423.00H397.8V424.60H390.2zM472.0 448.61H479.2V450.23H472.0z" fill="#e283ac"/>
<path d="M375.4 359.96H383.0V361.56H375.4zM353.4 362.56H360.9V364.17H353.4zM449.5 413.90H457.1V415.50H449.5zM331.6 415.20H339.1V416.80H331.6zM382.8 415.20H390.4V416.80H382.8z" fill="#dd71a0"/>
<path d="M434.7 359.96H442.3V361.56H434.7z" fill="#efedee"/>
<path d="M442.1 359.96H449.7V361.56H442.1zM397.6 365.17H405.2V366.77H397.6z" fill="#e6a4c1"/>
<path d="M456.9 359.96H464.5V361.56H456.9zM427.3 365.17H434.9V366.77H427.3z" fill="#e48fb4"/>
<path d="M472.0 359.96H479.2V361.56H472.0zM331.6 367.77H339.1V369.37H331.6zM449.5 375.58H457.1V377.18H449.5zM464.3 383.39H471.9V384.99H464.3zM472.0 385.99H479.2V387.59H472.0z" fill="#da6a9b"/>
<path d="M331.6 361.26H339.1V362.86H331.6zM449.5 415.20H457.1V416.80H449.5zM375.4 425.60H383.0V427.20H375.4zM449.5 456.55H457.1V458.18H449.5z" fill="#e389b0"/>
<path d="M353.4 361.26H360.9V362.86H353.4zM346.2 374.28H353.6V375.88H346.2zM397.6 415.20H405.2V416.80H397.6zM331.6 419.10H339.1V420.70H331.6zM360.7 420.40H368.2V422.00H360.7z" fill="#e27fa9"/>
<path d="M382.8 361.26H390.4V362.86H382.8z" fill="#e48eb2"/>
<path d="M405.1 361.26H412.7V362.86H405.1zM434.7 391.19H442.3V392.79H434.7z" fill="#e7a9c4"/>
<path d="M449.5 361.26H457.1V362.86H449.5zM338.9 411.30H346.4V412.90H338.9zM360.7 413.90H368.2V415.50H360.7z" fill="#e38cb2"/>
<path d="M456.9 361.26H464.5V362.86H456.9zM360.7 362.56H368.2V364.17H360.7zM397.6 366.47H405.2V368.07H397.6zM338.9 382.08H346.4V383.69H338.9zM390.2 389.89H397.8V391.49H390.2zM449.5 411.30H457.1V412.90H449.5zM346.2 412.60H353.6V414.20H346.2z" fill="#e492b5"/>
<path d="M375.4 362.56H383.0V364.17H375.4zM405.1 380.78H412.7V382.38H405.1zM472.0 396.40H479.2V398.00H472.0zM331.6 416.50H339.1V418.10H331.6z" fill="#db6d9e"/>
<path d="M419.9 362.56H427.5V364.17H419.9zM368.0 372.98H375.6V374.58H368.0zM375.4 384.69H383.0V386.29H375.4z" fill="#e38db2"/>
<path d="M449.5 362.56H457.1V364.17H449.5zM368.0 371.67H375.6V373.27H368.0zM331.6 421.70H339.1V423.30H331.6zM472.0 449.93H479.2V451.56H472.0zM346.2 457.88H353.6V459.50H346.2z" fill="#dc71a0"/>
<path d="M472.0 362.56H479.2V364.17H472.0zM353.4 363.87H360.9V365.47H353.4z" fill="#de75a2"/>
<path d="M375.4 363.87H383.0V365.47H375.4zM382.8 371.67H390.4V373.27H382.8zM442.1 371.67H449.7V373.27H442.1zM338.9 376.88H346.4V378.48H338.9zM397.6 380.78H405.2V382.38H397.6z" fill="#dc70a0"/>
<path d="M442.1 363.87H449.7V365.47H442.1zM375.4 416.50H383.0V418.10H375.4zM464.3 419.10H471.9V420.70H464.3z" fill="#e281aa"/>
<path d="M449.5 363.87H457.1V365.47H449.5zM375.4 366.47H383.0V368.07H375.4zM331.6 369.07H339.1V370.67H331.6zM375.4 369.07H383.0V370.67H375.4zM346.2 376.88H353.6V378.48H346.2zM331.6 411.30H339.1V412.90H331.6zM346.2 415.20H353.6V416.80H346.2zM456.9 419.10H464.5V420.70H456.9zM464.3 420.40H471.9V422.00H464.3z" fill="#e17da8"/>
<path d="M472.0 363.87H479.2V365.47H472.0zM397.6 387.29H405.2V388.89H397.6zM472.0 391.19H479.2V392.79H472.0zM449.5 393.80H457.1V395.40H449.5zM368.0 417.80H375.6V419.40H368.0zM405.1 423.00H412.7V424.60H405.1zM427.3 428.20H434.9V429.80H427.3z" fill="#d1518b"/>
<path d="M368.0 365.17H375.6V366.77H368.0zM419.9 366.47H427.5V368.07H419.9zM390.2 380.78H397.8V382.38H390.2zM405.1 413.90H412.7V415.50H405.1zM405.1 453.90H412.7V455.53H405.1zM353.4 455.23H360.9V456.85H353.4z" fill="#e494b7"/>
<path d="M375.4 365.17H383.0V366.77H375.4zM456.9 365.17H464.5V366.77H456.9zM434.7 392.49H442.3V394.10H434.7z" fill="#e282ab"/>
<path d="M382.8 365.17H390.4V366.77H382.8zM456.9 371.67H464.5V373.27H456.9zM346.2 375.58H353.6V377.18H346.2zM338.9 388.59H346.4V390.19H338.9zM427.3 419.10H434.9V420.70H427.3zM375.4 420.40H383.0V422.00H375.4z" fill="#d86497"/>
<path d="M449.5 365.17H457.1V366.77H449.5zM442.1 367.77H449.7V369.37H442.1zM412.5 382.08H420.1V383.69H412.5zM360.7 416.50H368.2V418.10H360.7zM368.0 419.10H375.6V420.70H368.0zM412.5 420.40H420.1V422.00H412.5z" fill="#e07ba7"/>
<path d="M331.6 366.47H339.1V368.07H331.6zM390.2 388.59H397.8V390.19H390.2zM382.8 412.60H390.4V414.20H382.8zM375.4 415.20H383.0V416.80H375.4zM338.9 421.70H346.4V423.30H338.9zM412.5 456.55H420.1V458.18H412.5z" fill="#e490b4"/>
<path d="M346.2 366.47H353.6V368.07H346.2z" fill="#df78a4"/>
<path d="M353.4 366.47H360.9V368.07H353.4zM368.0 375.58H375.6V377.18H368.0zM360.7 379.48H368.2V381.08H360.7zM368.0 425.60H375.6V427.20H368.0zM382.8 426.90H390.4V428.50H382.8zM412.5 428.20H420.1V429.80H412.5zM382.8 456.55H390.4V458.18H382.8z" fill="#d55d93"/>
<path d="M382.8 366.47H390.4V368.07H382.8zM464.3 385.99H471.9V387.59H464.3zM419.9 456.55H427.5V458.18H419.9z" fill="#db6d9d"/>
<path d="M456.9 366.47H464.5V368.07H456.9zM464.3 392.49H471.9V394.10H464.3zM338.9 423.00H346.4V424.60H338.9zM464.3 424.30H471.9V425.90H464.3z" fill="#d76296"/>
<path d="M346.2 367.77H353.6V369.37H346.2zM405.1 374.28H412.7V375.88H405.1zM442.1 380.78H449.7V382.38H442.1zM331.6 412.60H339.1V414.20H331.6z" fill="#db6e9e"/>
<path d="M368.0 367.77H375.6V369.37H368.0zM360.7 369.07H368.2V370.67H360.7zM412.5 380.78H420.1V382.38H412.5zM316.9 449.93H324.2V451.56H316.9zM316.9 452.58H324.2V454.20H316.9zM456.9 455.23H464.5V456.85H456.9zM324.0 456.55H330.9V458.18H324.0zM324.0 457.88H330.9V459.50H324.0z" fill="#e596b8"/>
<path d="M375.4 367.77H383.0V369.37H375.4zM397.6 457.88H405.2V459.50H397.6z" fill="#d76195"/>
<path d="M405.1 367.77H412.7V369.37H405.1z" fill="#e59ebc"/>
<path d="M346.2 369.07H353.6V370.67H346.2zM368.0 374.28H375.6V375.88H368.0zM472.0 378.18H479.2V379.78H472.0zM397.6 388.59H405.2V390.19H397.6zM346.2 420.40H353.6V422.00H346.2zM419.9 426.90H427.5V428.50H419.9z" fill="#d45890"/>
<path d="M368.0 369.07H375.6V370.67H368.0zM412.5 376.88H420.1V378.48H412.5zM375.4 457.88H383.0V459.50H375.4z" fill="#e495b7"/>
<path d="M419.9 370.37H427.5V371.97H419.9z" fill="#d86498"/>
<path d="M442.1 370.37H449.7V371.97H442.1zM338.9 371.67H346.4V373.27H338.9zM338.9 417.80H346.4V419.40H338.9z" fill="#e284ac"/>
<path d="M331.6 371.67H339.1V373.27H331.6zM449.5 417.80H457.1V419.40H449.5zM382.8 423.00H390.4V424.60H382.8zM442.1 426.90H449.7V428.50H442.1z" fill="#d3558e"/>
<path d="M346.2 371.67H353.6V373.27H346.2z" fill="#dd74a2"/>
<path d="M472.0 371.67H479.2V373.27H472.0zM412.5 389.89H420.1V391.49H412.5z" fill="#d45990"/>
<path d="M338.9 372.98H346.4V374.58H338.9zM464.3 382.08H471.9V383.69H464.3zM331.6 420.40H339.1V422.00H331.6zM419.9 420.40H427.5V422.00H419.9zM390.2 425.60H397.8V427.20H390.2zM472.0 455.23H479.2V456.85H472.0z" fill="#dd72a1"/>
<path d="M346.2 372.98H353.6V374.58H346.2zM331.6 379.48H339.1V381.08H331.6zM353.4 384.69H360.9V386.29H353.4zM419.9 387.29H427.5V388.89H419.9zM405.1 424.30H412.7V425.90H405.1zM360.7 428.20H368.2V429.80H360.7z" fill="#d55b92"/>
<path d="M353.4 372.98H360.9V374.58H353.4z" fill="#d76196"/>
<path d="M360.7 372.98H368.2V374.58H360.7zM449.5 408.70H457.1V410.30H449.5zM449.5 423.00H457.1V424.60H449.5zM419.9 452.58H427.5V454.20H419.9z" fill="#e9b9cd"/>
<path d="M375.4 372.98H383.0V374.58H375.4zM456.9 417.80H464.5V419.40H456.9z" fill="#cf4c87"/>
<path d="M419.9 372.98H427.5V374.58H419.9zM427.3 379.48H434.9V381.08H427.3zM472.0 419.10H479.2V420.70H472.0zM456.9 420.40H464.5V422.00H456.9zM346.2 421.70H353.6V423.30H346.2z" fill="#de76a3"/>
<path d="M456.9 372.98H464.5V374.58H456.9zM360.7 384.69H368.2V386.29H360.7zM449.5 420.40H457.1V422.00H449.5z" fill="#d1508a"/>
<path d="M472.0 372.98H479.2V374.58H472.0zM472.0 404.80H479.2V406.40H472.0z" fill="#c53176"/>
<path d="M338.9 374.28H346.4V375.88H338.9zM405.1 416.50H412.7V418.10H405.1zM442.1 417.80H449.7V419.40H442.1z" fill="#dc6f9e"/>
<path d="M353.4 374.28H360.9V375.88H353.4z" fill="#e079a5"/>
<path d="M375.4 374.28H383.0V375.88H375.4zM368.0 387.29H375.6V388.89H368.0zM449.5 387.29H457.1V388.89H449.5zM331.6 426.90H339.1V428.50H331.6z" fill="#cb3f7f"/>
<path d="M397.6 374.28H405.2V375.88H397.6zM375.4 417.80H383.0V419.40H375.4z" fill="#d86397"/>
<path d="M419.9 374.28H427.5V375.88H419.9zM419.9 378.18H427.5V379.78H419.9z" fill="#ce4885"/>
<path d="M442.1 374.28H449.7V375.88H442.1zM353.4 376.88H360.9V378.48H353.4z" fill="#df79a5"/>
<path d="M456.9 374.28H464.5V375.88H456.9zM472.0 376.88H479.2V378.48H472.0zM360.7 387.29H368.2V388.89H360.7zM456.9 387.29H464.5V388.89H456.9zM353.4 393.80H360.9V395.40H353.4zM353.4 417.80H360.9V419.40H353.4zM405.1 421.70H412.7V423.30H405.1z" fill="#cc4482"/>
<path d="M338.9 375.58H346.4V377.18H338.9zM397.6 399.60H405.2V401.20H397.6zM434.7 402.20H442.3V403.80H434.7zM442.1 439.34H449.7V440.97H442.1z" fill="#ecd3dd"/>
<path d="M360.7 375.58H368.2V377.18H360.7zM442.1 456.55H449.7V458.18H442.1z" fill="#db6c9c"/>
<path d="M382.8 375.58H390.4V377.18H382.8zM397.6 383.39H405.2V384.99H397.6zM338.9 424.30H346.4V425.90H338.9z" fill="#d65e94"/>
<path d="M397.6 375.58H405.2V377.18H397.6zM397.6 378.18H405.2V379.78H397.6zM331.6 383.39H339.1V384.99H331.6zM368.0 383.39H375.6V384.99H368.0zM472.0 410.00H479.2V411.60H472.0zM360.7 419.10H368.2V420.70H360.7zM427.3 421.70H434.9V423.30H427.3zM442.1 421.70H449.7V423.30H442.1z" fill="#da699b"/>
<path d="M419.9 375.58H427.5V377.18H419.9zM360.7 385.99H368.2V387.59H360.7zM353.4 421.70H360.9V423.30H353.4zM472.0 451.26H479.2V452.88H472.0zM382.8 457.88H390.4V459.50H382.8z" fill="#d04f8a"/>
<path d="M456.9 375.58H464.5V377.18H456.9z" fill="#c83779"/>
<path d="M464.3 375.58H471.9V377.18H464.3z" fill="#e384ad"/>
<path d="M472.0 375.58H479.2V377.18H472.0zM405.1 383.39H412.7V384.99H405.1z" fill="#d55b91"/>
<path d="M331.6 376.88H339.1V378.48H331.6zM464.3 380.78H471.9V382.38H464.3zM338.9 387.29H346.4V388.89H338.9zM464.3 387.29H471.9V388.89H464.3z" fill="#d2558d"/>
<path d="M368.0 376.88H375.6V378.48H368.0z" fill="#e27faa"/>
<path d="M375.4 376.88H383.0V378.48H375.4zM449.5 391.19H457.1V392.79H449.5zM419.9 423.00H427.5V424.60H419.9z" fill="#d45a91"/>
<path d="M419.9 376.88H427.5V378.48H419.9z" fill="#e7abc4"/>
<path d="M449.5 376.88H457.1V378.48H449.5zM353.4 423.00H360.9V424.60H353.4zM427.3 426.90H434.9V428.50H427.3z" fill="#d2528c"/>
<path d="M456.9 376.88H464.5V378.48H456.9zM368.0 379.48H375.6V381.08H368.0z" fill="#cb4281"/>
<path d="M346.2 378.18H353.6V379.78H346.2zM397.6 382.08H405.2V383.69H397.6zM353.4 420.40H360.9V422.00H353.4z" fill="#ca3c7d"/>
<path d="M353.4 378.18H360.9V379.78H353.4zM419.9 457.88H427.5V459.50H419.9z" fill="#d04f89"/>
<path d="M442.1 378.18H449.7V379.78H442.1zM456.9 383.39H464.5V384.99H456.9zM346.2 385.99H353.6V387.59H346.2zM346.2 387.29H353.6V388.89H346.2zM346.2 425.60H353.6V427.20H346.2z" fill="#cd4583"/>
<path d="M464.3 378.18H471.9V379.78H464.3zM346.2 379.48H353.6V381.08H346.2zM338.9 380.78H346.4V382.38H338.9zM360.7 380.78H368.2V382.38H360.7zM338.9 428.20H346.4V429.80H338.9z" fill="#d96699"/>
<path d="M353.4 379.48H360.9V381.08H353.4z" fill="#d2558e"/>
<path d="M397.6 379.48H405.2V381.08H397.6zM353.4 425.60H360.9V427.20H353.4z" fill="#cc4381"/>
<path d="M449.5 379.48H457.1V381.08H449.5z" fill="#c63477"/>
<path d="M464.3 379.48H471.9V381.08H464.3z" fill="#dd72a0"/>
<path d="M472.0 379.48H479.2V381.08H472.0zM427.3 383.39H434.9V384.99H427.3z" fill="#c53075"/>
<path d="M331.6 380.78H339.1V382.38H331.6zM472.0 407.40H479.2V409.00H472.0zM449.5 421.70H457.1V423.30H449.5zM472.0 426.90H479.2V428.50H472.0zM472.0 457.88H479.2V459.50H472.0z" fill="#db6c9d"/>
<path d="M353.4 380.78H360.9V382.38H353.4zM397.6 389.89H405.2V391.49H397.6zM456.9 392.49H464.5V394.10H456.9zM472.0 411.30H479.2V412.90H472.0z" fill="#c8387a"/>
<path d="M382.8 380.78H390.4V382.38H382.8zM360.7 412.60H368.2V414.20H360.7z" fill="#e494b6"/>
<path d="M427.3 380.78H434.9V382.38H427.3zM353.4 387.29H360.9V388.89H353.4z" fill="#cd4683"/>
<path d="M472.0 380.78H479.2V382.38H472.0zM331.6 389.89H339.1V391.49H331.6zM405.1 426.90H412.7V428.50H405.1z" fill="#d04d88"/>
<path d="M419.9 382.08H427.5V383.69H419.9zM331.6 387.29H339.1V388.89H331.6zM427.3 388.59H434.9V390.19H427.3zM375.4 389.89H383.0V391.49H375.4zM346.2 391.19H353.6V392.79H346.2zM338.9 393.80H346.4V395.40H338.9zM472.0 416.50H479.2V418.10H472.0zM375.4 421.70H383.0V423.30H375.4z" fill="#c63377"/>
<path d="M472.0 382.08H479.2V383.69H472.0z" fill="#c93b7c"/>
<path d="M346.2 383.39H353.6V384.99H346.2z" fill="#cb4181"/>
<path d="M390.2 383.39H397.8V384.99H390.2z" fill="#e597b9"/>
<path d="M338.9 384.69H346.4V386.29H338.9zM331.6 424.30H339.1V425.90H331.6zM442.1 457.88H449.7V459.50H442.1z" fill="#d96799"/>
<path d="M412.5 384.69H420.1V386.29H412.5z" fill="#e079a6"/>
<path d="M427.3 384.69H434.9V386.29H427.3zM419.9 428.20H427.5V429.80H419.9z" fill="#ca3d7e"/>
<path d="M442.1 384.69H449.7V386.29H442.1zM382.8 413.90H390.4V415.50H382.8zM331.6 457.88H339.1V459.50H331.6z" fill="#da6b9c"/>
<path d="M472.0 384.69H479.2V386.29H472.0zM368.0 424.30H375.6V425.90H368.0z" fill="#d76396"/>
<path d="M331.6 385.99H339.1V387.59H331.6z" fill="#c73478"/>
<path d="M375.4 385.99H383.0V387.59H375.4z" fill="#c8387b"/>
<path d="M397.6 385.99H405.2V387.59H397.6z" fill="#c93a7c"/>
<path d="M419.9 385.99H427.5V387.59H419.9z" fill="#d1528c"/>
<path d="M427.3 385.99H434.9V387.59H427.3zM449.5 424.30H457.1V425.90H449.5z" fill="#cb4080"/>
<path d="M434.7 387.29H442.3V388.89H434.7z" fill="#e69fbe"/>
<path d="M346.2 388.59H353.6V390.19H346.2zM472.0 417.80H479.2V419.40H472.0z" fill="#cf4a86"/>
<path d="M442.1 388.59H449.7V390.19H442.1zM360.7 391.19H368.2V392.79H360.7z" fill="#cd4784"/>
<path d="M405.1 389.89H412.7V391.49H405.1z" fill="#e282ac"/>
<path d="M464.3 389.89H471.9V391.49H464.3zM472.0 392.49H479.2V394.10H472.0zM375.4 419.10H383.0V420.70H375.4zM397.6 421.70H405.2V423.30H397.6zM472.0 428.20H479.2V429.80H472.0zM472.0 429.50H479.2V431.10H472.0z" fill="#ce4986"/>
<path d="M397.6 391.19H405.2V392.79H397.6zM346.2 411.30H353.6V412.90H346.2zM442.1 411.30H449.7V412.90H442.1z" fill="#e598b9"/>
<path d="M442.1 391.19H449.7V392.79H442.1z" fill="#d2538d"/>
<path d="M397.6 392.49H405.2V394.10H397.6z" fill="#c93a7b"/>
<path d="M449.5 392.49H457.1V394.10H449.5zM346.2 426.90H353.6V428.50H346.2z" fill="#c63176"/>
<path d="M427.3 393.80H434.9V395.40H427.3zM331.6 423.00H339.1V424.60H331.6z" fill="#cc4281"/>
<path d="M331.6 399.60H339.1V401.20H331.6zM412.5 425.60H420.1V427.20H412.5z" fill="#ebccda"/>
<path d="M368.0 402.20H375.6V403.80H368.0z" fill="#ecd1dc"/>
<path d="M472.0 403.50H479.2V405.10H472.0zM382.8 425.60H390.4V427.20H382.8z" fill="#c73579"/>
<path d="M472.0 406.10H479.2V407.70H472.0zM353.4 424.30H360.9V425.90H353.4z" fill="#dd73a2"/>
<path d="M353.4 407.40H360.9V409.00H353.4z" fill="#e6a3bf"/>
<path d="M397.6 408.70H405.2V410.30H397.6zM412.5 411.30H420.1V412.90H412.5z" fill="#ebd0db"/>
<path d="M353.4 410.00H360.9V411.60H353.4zM456.9 413.90H464.5V415.50H456.9zM338.9 457.88H346.4V459.50H338.9z" fill="#e48eb3"/>
<path d="M427.3 410.00H434.9V411.60H427.3z" fill="#ebcbd8"/>
<path d="M442.1 410.00H449.7V411.60H442.1z" fill="#e9bcd0"/>
<path d="M353.4 411.30H360.9V412.90H353.4zM427.3 456.55H434.9V458.18H427.3z" fill="#e17ca8"/>
<path d="M434.7 411.30H442.3V412.90H434.7z" fill="#ecd9e2"/>
<path d="M331.6 413.90H339.1V415.50H331.6zM456.9 416.50H464.5V418.10H456.9zM472.0 423.00H479.2V424.60H472.0z" fill="#e17ca7"/>
<path d="M419.9 415.20H427.5V416.80H419.9zM427.3 416.50H434.9V418.10H427.3zM338.9 426.90H346.4V428.50H338.9z" fill="#e284ad"/>
<path d="M368.0 416.50H375.6V418.10H368.0zM397.6 419.10H405.2V420.70H397.6z" fill="#df76a4"/>
<path d="M382.8 416.50H390.4V418.10H382.8zM353.4 456.55H360.9V458.18H353.4zM353.4 457.88H360.9V459.50H353.4zM449.5 457.88H457.1V459.50H449.5z" fill="#e07ca7"/>
<path d="M419.9 416.50H427.5V418.10H419.9z" fill="#e491b4"/>
<path d="M464.3 416.50H471.9V418.10H464.3z" fill="#e48db2"/>
<path d="M346.2 419.10H353.6V420.70H346.2z" fill="#cf4b87"/>
<path d="M360.7 421.70H368.2V423.30H360.7z" fill="#db6b9c"/>
<path d="M472.0 421.70H479.2V423.30H472.0z" fill="#c63277"/>
<path d="M397.6 423.00H405.2V424.60H397.6z" fill="#dc709f"/>
<path d="M434.7 424.30H442.3V425.90H434.7z" fill="#e8afc7"/>
<path d="M442.1 424.30H449.7V425.90H442.1z" fill="#dd73a1"/>
<path d="M456.9 424.30H464.5V425.90H456.9z" fill="#c52f74"/>
<path d="M442.1 425.60H449.7V427.20H442.1zM397.6 428.20H405.2V429.80H397.6z" fill="#ca3f7f"/>
<path d="M375.4 426.90H383.0V428.50H375.4z" fill="#c42e73"/>
<rect x="302.5" y="397.7" width="176.5" height="0.6" fill="#fff"/>
<rect x="302.5" y="430.8" width="176.5" height="0.6" fill="#fff"/>
<line x1="331.1" y1="298.8" x2="331.1" y2="459.2" stroke="#3a3a3a" stroke-width="1"/>
<line x1="368.0" y1="299" x2="368.0" y2="459.2" stroke="#5a5a5a" stroke-width="1" stroke-dasharray="5.5 7.5" stroke-dashoffset="2.9"/>
<line x1="471.6" y1="299" x2="471.6" y2="459.2" stroke="#5a5a5a" stroke-width="1" stroke-dasharray="5.5 7.5" stroke-dashoffset="2.9"/>
<path d="M482 306h5.8M482 332.5h5.8M482 348h5.8M482 352.6h5.8M482 357.2h5.8M482 360.8h5.8M482 363.6h5.8M482 365.4h5.8M482 367.2h5.8M482 371h5.8M482 372.7h5.8M482 376.4h5.8M482 380h5.8M482 381.5h5.8M482 383h5.8M482 384.5h5.8M482 389h5.8M482 390.5h5.8M482 392h5.8M482 393.5h5.8M482 395h5.8M482 396.5h5.8M482 406.6h5.8M482 422.6h5.8M482 427.5h5.8M482 429h5.8M482 430.5h5.8M482 445.9h5.8" stroke="#b4b4b4" stroke-width="0.7" fill="none"/>
<rect x="297.2" y="301.0" width="4.4" height="158.2" fill="#000"/>
<rect x="297.9" y="400.4" width="3.0" height="30.3" fill="#fff"/>
<text x="293.7" y="350.3" font-size="6.9" fill="#231f20" text-anchor="end" stroke="#231f20" stroke-width="0.22" >Vitro only</text>
<text x="293.7" y="358.6" font-size="6.9" fill="#231f20" text-anchor="end" stroke="#231f20" stroke-width="0.22" >(1498)</text>
<text x="293.7" y="413.9" font-size="6.9" fill="#231f20" text-anchor="end" stroke="#231f20" stroke-width="0.22" >Shared</text>
<text x="293.7" y="422.8" font-size="6.9" fill="#231f20" text-anchor="end" stroke="#231f20" stroke-width="0.22" >(500)</text>
<text x="293.7" y="447.0" font-size="6.9" fill="#231f20" text-anchor="end" stroke="#231f20" stroke-width="0.22" >Vivo only</text>
<text x="293.7" y="455.8" font-size="6.9" fill="#231f20" text-anchor="end" stroke="#231f20" stroke-width="0.22" >(421)</text>
<text transform="translate(308.5,462.6) rotate(-90)" font-size="7" fill="#231f20" text-anchor="end" stroke="#231f20" stroke-width="0.22">In vitro (MA)</text>
<text transform="translate(315.7,462.6) rotate(-90)" font-size="7" fill="#231f20" text-anchor="end" stroke="#231f20" stroke-width="0.22">In vitro (HM)</text>
<text transform="translate(322.8,462.6) rotate(-90)" font-size="7" fill="#231f20" text-anchor="end" stroke="#231f20" stroke-width="0.22">In vivo (MA)</text>
<text transform="translate(329.8,462.6) rotate(-90)" font-size="7" fill="#231f20" text-anchor="end" stroke="#231f20" stroke-width="0.22">In vivo (HM)</text>
<text transform="translate(337.6,462.6) rotate(-90)" font-size="7" fill="#231f20" text-anchor="end" stroke="#231f20" stroke-width="0.22">MOLM-13</text>
<text transform="translate(344.9,462.6) rotate(-90)" font-size="7" fill="#231f20" text-anchor="end" stroke="#231f20" stroke-width="0.22">MV4-11</text>
<text transform="translate(352.2,462.6) rotate(-90)" font-size="7" fill="#231f20" text-anchor="end" stroke="#231f20" stroke-width="0.22">OCI-AML2</text>
<text transform="translate(359.5,462.6) rotate(-90)" font-size="7" fill="#231f20" text-anchor="end" stroke="#231f20" stroke-width="0.22">MOLM-13</text>
<text transform="translate(366.8,462.6) rotate(-90)" font-size="7" fill="#231f20" text-anchor="end" stroke="#231f20" stroke-width="0.22">HL60</text>
<text transform="translate(374.1,462.6) rotate(-90)" font-size="7" fill="#231f20" text-anchor="end" stroke="#231f20" stroke-width="0.22">EOL-1</text>
<text transform="translate(381.5,462.6) rotate(-90)" font-size="7" fill="#231f20" text-anchor="end" stroke="#231f20" stroke-width="0.22">HEL</text>
<text transform="translate(388.9,462.6) rotate(-90)" font-size="7" fill="#231f20" text-anchor="end" stroke="#231f20" stroke-width="0.22">MOLM-13</text>
<text transform="translate(396.3,462.6) rotate(-90)" font-size="7" fill="#231f20" text-anchor="end" stroke="#231f20" stroke-width="0.22">MonoMac1</text>
<text transform="translate(403.7,462.6) rotate(-90)" font-size="7" fill="#231f20" text-anchor="end" stroke="#231f20" stroke-width="0.22">MV4-11</text>
<text transform="translate(411.2,462.6) rotate(-90)" font-size="7" fill="#231f20" text-anchor="end" stroke="#231f20" stroke-width="0.22">OCI-AML2</text>
<text transform="translate(418.6,462.6) rotate(-90)" font-size="7" fill="#231f20" text-anchor="end" stroke="#231f20" stroke-width="0.22">OCI-AML3</text>
<text transform="translate(426.0,462.6) rotate(-90)" font-size="7" fill="#231f20" text-anchor="end" stroke="#231f20" stroke-width="0.22">OCI-AML5</text>
<text transform="translate(433.4,462.6) rotate(-90)" font-size="7" fill="#231f20" text-anchor="end" stroke="#231f20" stroke-width="0.22">P31-FUJ</text>
<text transform="translate(440.8,462.6) rotate(-90)" font-size="7" fill="#231f20" text-anchor="end" stroke="#231f20" stroke-width="0.22">PL-21</text>
<text transform="translate(448.2,462.6) rotate(-90)" font-size="7" fill="#231f20" text-anchor="end" stroke="#231f20" stroke-width="0.22">SKM-1</text>
<text transform="translate(455.6,462.6) rotate(-90)" font-size="7" fill="#231f20" text-anchor="end" stroke="#231f20" stroke-width="0.22">TF-1</text>
<text transform="translate(463.0,462.6) rotate(-90)" font-size="7" fill="#231f20" text-anchor="end" stroke="#231f20" stroke-width="0.22">THP-1</text>
<text transform="translate(470.4,462.6) rotate(-90)" font-size="7" fill="#231f20" text-anchor="end" stroke="#231f20" stroke-width="0.22">NB4</text>
<text transform="translate(477.9,462.6) rotate(-90)" font-size="7" fill="#231f20" text-anchor="end" stroke="#231f20" stroke-width="0.22">In vivo</text>
<text transform="translate(487.3,462.6) rotate(-90)" font-size="7" fill="#231f20" text-anchor="end" stroke="#231f20" stroke-width="0.22">Ribosome</text>
<path d="M332.1 504.7H367.8M371.2 504.7H469.5M472.3 504.7H478.5" stroke="#231f20" stroke-width="0.9" fill="none"/>
<text x="343.5" y="513.0" font-size="6.8" fill="#231f20" text-anchor="middle" stroke="#231f20" stroke-width="0.22" >Tzelepis et al.</text>
<text x="402.2" y="513.0" font-size="6.8" fill="#231f20" text-anchor="middle" stroke="#231f20" stroke-width="0.22" >Wang et al.</text>
<text x="460.5" y="513.0" font-size="6.8" fill="#231f20" text-anchor="middle" stroke="#231f20" stroke-width="0.22" >Yamauchi et al.</text>
<text x="6.8" y="535.5" font-size="11.2" fill="#000" text-anchor="start" font-weight="bold" stroke="#000" stroke-width="0.35">F</text>
<rect x="164.0" y="537.50" width="63.14" height="5" fill="#3cb44b"/>
<text x="157.2" y="541.8" font-size="7.55" fill="#231f20" text-anchor="end" stroke="#231f20" stroke-width="0.22"  textLength="106.8" lengthAdjust="spacingAndGlyphs">Antigen processing/presentation</text>
<rect x="164.0" y="547.59" width="54.44" height="5" fill="#3cb44b"/>
<text x="157.2" y="551.89" font-size="7.55" fill="#231f20" text-anchor="end" stroke="#231f20" stroke-width="0.22"  textLength="131.1" lengthAdjust="spacingAndGlyphs">TCA cycle/respiratory electron transport</text>
<rect x="164.0" y="557.68" width="52.84" height="5" fill="#3cb44b"/>
<text x="157.2" y="561.98" font-size="7.55" fill="#231f20" text-anchor="end" stroke="#231f20" stroke-width="0.22"  textLength="84.0" lengthAdjust="spacingAndGlyphs">Oxidative phosphorylation</text>
<rect x="164.0" y="567.77" width="42.96" height="5" fill="#3cb44b"/>
<text x="157.2" y="572.07" font-size="7.55" fill="#231f20" text-anchor="end" stroke="#231f20" stroke-width="0.22"  textLength="42.7" lengthAdjust="spacingAndGlyphs">Rho pathway</text>
<rect x="164.0" y="577.86" width="38.67" height="5" fill="#3cb44b"/>
<text x="157.2" y="582.16" font-size="7.55" fill="#231f20" text-anchor="end" stroke="#231f20" stroke-width="0.22"  textLength="80.0" lengthAdjust="spacingAndGlyphs">ER phagosome pathway</text>
<rect x="164.0" y="587.95" width="37.60" height="5" fill="#3cb44b"/>
<text x="157.2" y="592.25" font-size="7.55" fill="#231f20" text-anchor="end" stroke="#231f20" stroke-width="0.22"  textLength="67.0" lengthAdjust="spacingAndGlyphs">Pyruvate metabolism</text>
<rect x="164.0" y="598.04" width="36.85" height="5" fill="#3cb44b"/>
<text x="157.2" y="602.34" font-size="7.55" fill="#231f20" text-anchor="end" stroke="#231f20" stroke-width="0.22"  textLength="99.9" lengthAdjust="spacingAndGlyphs">Intrinsic pathway for apoptosis</text>
<rect x="164.0" y="608.13" width="36.42" height="5" fill="#3cb44b"/>
<text x="157.2" y="612.43" font-size="7.55" fill="#231f20" text-anchor="end" stroke="#231f20" stroke-width="0.22"  textLength="131.9" lengthAdjust="spacingAndGlyphs">Glyoxylate and dicarboxylate metabolism</text>
<rect x="164.0" y="618.22" width="35.35" height="5" fill="#3cb44b"/>
<text x="157.2" y="622.52" font-size="7.55" fill="#231f20" text-anchor="end" stroke="#231f20" stroke-width="0.22"  textLength="43.5" lengthAdjust="spacingAndGlyphs">P53 pathway</text>
<rect x="164.0" y="628.31" width="33.74" height="5" fill="#3cb44b"/>
<text x="157.2" y="632.61" font-size="7.55" fill="#231f20" text-anchor="end" stroke="#231f20" stroke-width="0.22"  textLength="66.4" lengthAdjust="spacingAndGlyphs">Syndecan2 pathway</text>
<rect x="164.0" y="638.40" width="33.74" height="5" fill="#3cb44b"/>
<text x="157.2" y="642.7" font-size="7.55" fill="#231f20" text-anchor="end" stroke="#231f20" stroke-width="0.22"  textLength="44.7" lengthAdjust="spacingAndGlyphs">Kreb pathway</text>
<path d="M163.4 535V647.9H231.0" stroke="#000" stroke-width="1.2" fill="none"/>
<path d="M163.4 540.00h-3.2M163.4 550.09h-3.2M163.4 560.18h-3.2M163.4 570.27h-3.2M163.4 580.36h-3.2M163.4 590.45h-3.2M163.4 600.54h-3.2M163.4 610.63h-3.2M163.4 620.72h-3.2M163.4 630.81h-3.2M163.4 640.90h-3.2M163.40 647.9v2.8M184.86 647.9v2.8M206.32 647.9v2.8M227.78 647.9v2.8" stroke="#000" stroke-width="1" fill="none"/>
<text x="163.4" y="658.3" font-size="7.6" fill="#231f20" text-anchor="middle" stroke="#231f20" stroke-width="0.22" >0</text>
<text x="184.86" y="658.3" font-size="7.6" fill="#231f20" text-anchor="middle" stroke="#231f20" stroke-width="0.22" >2</text>
<text x="206.32" y="658.3" font-size="7.6" fill="#231f20" text-anchor="middle" stroke="#231f20" stroke-width="0.22" >4</text>
<text x="227.78" y="658.3" font-size="7.6" fill="#231f20" text-anchor="middle" stroke="#231f20" stroke-width="0.22" >6</text>
<text x="174.7" y="670.6" font-size="9" font-weight="bold" fill="#231f20" stroke="#231f20" stroke-width="0.2" lengthAdjust="spacingAndGlyphs" textLength="12.3">&#8722;Log</text>
<text x="187.3" y="672.8" font-size="5.2" font-weight="bold" fill="#231f20" textLength="5.6" lengthAdjust="spacingAndGlyphs">10</text>
<text x="193.4" y="670.6" font-size="9" font-weight="bold" fill="#231f20" stroke="#231f20" stroke-width="0.2" lengthAdjust="spacingAndGlyphs" textLength="25">(P-value)</text>
<text x="265.3" y="535.5" font-size="11.2" fill="#000" text-anchor="start" font-weight="bold" stroke="#000" stroke-width="0.35">G</text>
<rect x="444.1" y="537.50" width="64.85" height="5" fill="#1d4f8a"/>
<text x="437.2" y="541.8" font-size="7.55" fill="#231f20" text-anchor="end" stroke="#231f20" stroke-width="0.22"  textLength="69.5" lengthAdjust="spacingAndGlyphs">Metabolism of mRNA</text>
<rect x="444.1" y="547.59" width="60.56" height="5" fill="#1d4f8a"/>
<text x="437.2" y="551.89" font-size="7.55" fill="#231f20" text-anchor="end" stroke="#231f20" stroke-width="0.22"  textLength="86.9" lengthAdjust="spacingAndGlyphs">Nonsense mediated decay</text>
<rect x="444.1" y="557.68" width="55.20" height="5" fill="#1d4f8a"/>
<text x="437.2" y="561.98" font-size="7.55" fill="#231f20" text-anchor="end" stroke="#231f20" stroke-width="0.22"  textLength="154.5" lengthAdjust="spacingAndGlyphs">Influenza viral RNA transcription and replication</text>
<rect x="444.1" y="567.77" width="46.93" height="5" fill="#1d4f8a"/>
<text x="437.2" y="572.07" font-size="7.55" fill="#231f20" text-anchor="end" stroke="#231f20" stroke-width="0.22"  textLength="80.6" lengthAdjust="spacingAndGlyphs">Peptide chain elongation</text>
<rect x="444.1" y="577.86" width="46.93" height="5" fill="#1d4f8a"/>
<text x="437.2" y="582.16" font-size="7.55" fill="#231f20" text-anchor="end" stroke="#231f20" stroke-width="0.22"  textLength="33.0" lengthAdjust="spacingAndGlyphs">Ribosome</text>
<rect x="444.1" y="587.95" width="45.97" height="5" fill="#1d4f8a"/>
<text x="437.2" y="592.25" font-size="7.55" fill="#231f20" text-anchor="end" stroke="#231f20" stroke-width="0.22"  textLength="63.1" lengthAdjust="spacingAndGlyphs">Metabolism of RNA</text>
<rect x="444.1" y="598.04" width="40.60" height="5" fill="#1d4f8a"/>
<text x="437.2" y="602.34" font-size="7.55" fill="#231f20" text-anchor="end" stroke="#231f20" stroke-width="0.22"  textLength="131.4" lengthAdjust="spacingAndGlyphs">3&#8242; UTR mediated translational regulation</text>
<rect x="444.1" y="608.13" width="35.99" height="5" fill="#1d4f8a"/>
<text x="437.2" y="612.43" font-size="7.55" fill="#231f20" text-anchor="end" stroke="#231f20" stroke-width="0.22"  textLength="34.6" lengthAdjust="spacingAndGlyphs">Translation</text>
<rect x="444.1" y="618.22" width="32.13" height="5" fill="#1d4f8a"/>
<text x="437.2" y="622.52" font-size="7.55" fill="#231f20" text-anchor="end" stroke="#231f20" stroke-width="0.22"  textLength="58.4" lengthAdjust="spacingAndGlyphs">Influenza life cycle</text>
<rect x="444.1" y="628.31" width="29.12" height="5" fill="#1d4f8a"/>
<text x="437.2" y="632.61" font-size="7.55" fill="#231f20" text-anchor="end" stroke="#231f20" stroke-width="0.22"  textLength="37.8" lengthAdjust="spacingAndGlyphs">E2F targets</text>
<rect x="444.1" y="638.40" width="20.22" height="5" fill="#1d4f8a"/>
<text x="437.2" y="642.7" font-size="7.55" fill="#231f20" text-anchor="end" stroke="#231f20" stroke-width="0.22"  textLength="31.4" lengthAdjust="spacingAndGlyphs">Cell cycle</text>
<path d="M443.5 535V647.9H511.1" stroke="#000" stroke-width="1.2" fill="none"/>
<path d="M443.5 540.00h-3.2M443.5 550.09h-3.2M443.5 560.18h-3.2M443.5 570.27h-3.2M443.5 580.36h-3.2M443.5 590.45h-3.2M443.5 600.54h-3.2M443.5 610.63h-3.2M443.5 620.72h-3.2M443.5 630.81h-3.2M443.5 640.90h-3.2M443.50 647.9v2.8M464.96 647.9v2.8M486.42 647.9v2.8M507.88 647.9v2.8" stroke="#000" stroke-width="1" fill="none"/>
<text x="443.5" y="658.3" font-size="7.6" fill="#231f20" text-anchor="middle" stroke="#231f20" stroke-width="0.22" >0</text>
<text x="464.96" y="658.3" font-size="7.6" fill="#231f20" text-anchor="middle" stroke="#231f20" stroke-width="0.22" >2</text>
<text x="486.42" y="658.3" font-size="7.6" fill="#231f20" text-anchor="middle" stroke="#231f20" stroke-width="0.22" >4</text>
<text x="507.88" y="658.3" font-size="7.6" fill="#231f20" text-anchor="middle" stroke="#231f20" stroke-width="0.22" >6</text>
<text x="455.8" y="670.6" font-size="9" font-weight="bold" fill="#231f20" stroke="#231f20" stroke-width="0.2" lengthAdjust="spacingAndGlyphs" textLength="12.3">&#8722;Log</text>
<text x="468.4" y="672.8" font-size="5.2" font-weight="bold" fill="#231f20" textLength="5.6" lengthAdjust="spacingAndGlyphs">10</text>
<text x="474.5" y="670.6" font-size="9" font-weight="bold" fill="#231f20" stroke="#231f20" stroke-width="0.2" lengthAdjust="spacingAndGlyphs" textLength="25">(P-value)</text>
<rect x="0.5" y="0.5" width="519" height="677" fill="none" stroke="#000" stroke-width="1"/>
</svg></body></html>
